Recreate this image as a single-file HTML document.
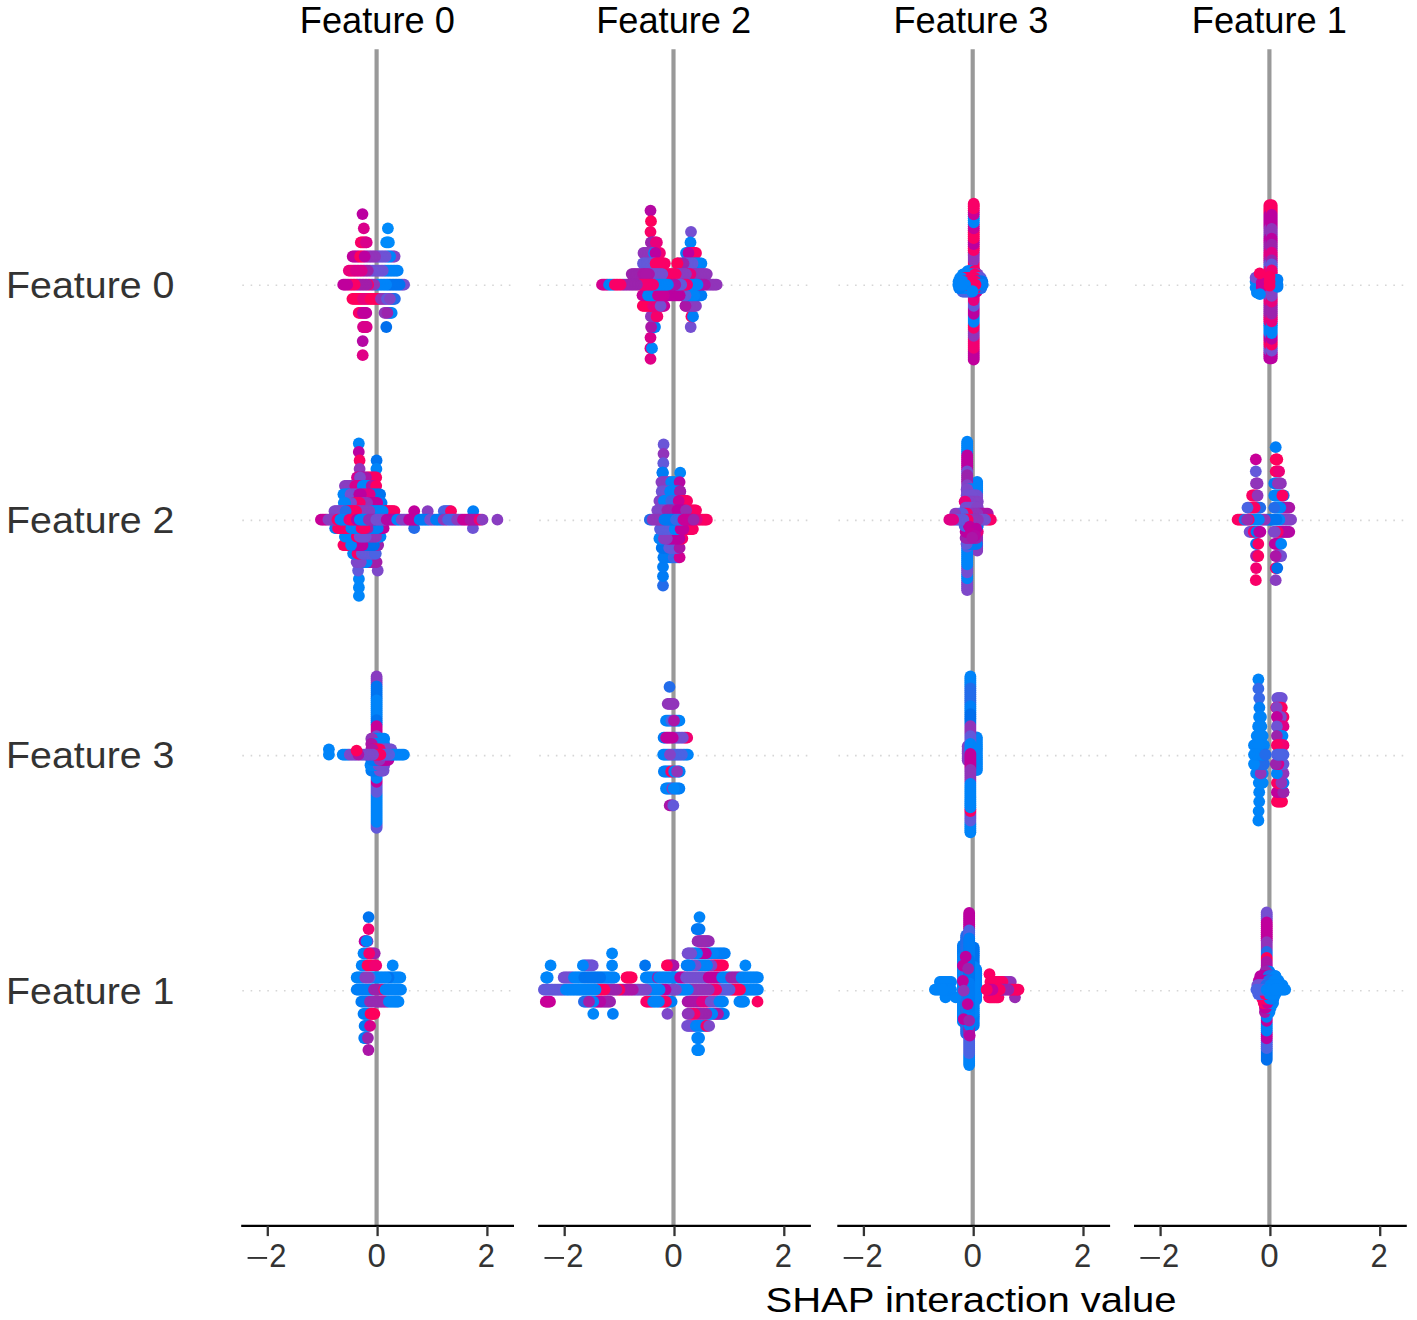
<!DOCTYPE html>
<html><head><meta charset="utf-8"><style>html,body{margin:0;padding:0;background:#fff;}svg{display:block;}</style></head>
<body>
<svg width="1417" height="1320" viewBox="0 0 1417 1320">
<rect width="100%" height="100%" fill="#fff"/>
<line x1="242.3" y1="285.3" x2="512.9" y2="285.3" stroke="#d6d6d6" stroke-width="1.6" stroke-dasharray="1.6 6.73"/>
<line x1="242.3" y1="520.4" x2="512.9" y2="520.4" stroke="#d6d6d6" stroke-width="1.6" stroke-dasharray="1.6 6.73"/>
<line x1="242.3" y1="755.6" x2="512.9" y2="755.6" stroke="#d6d6d6" stroke-width="1.6" stroke-dasharray="1.6 6.73"/>
<line x1="242.3" y1="990.7" x2="512.9" y2="990.7" stroke="#d6d6d6" stroke-width="1.6" stroke-dasharray="1.6 6.73"/>
<line x1="376.6" y1="49.2" x2="376.6" y2="1225.8" stroke="#999" stroke-width="4.17"/>
<line x1="539.2" y1="285.3" x2="809.8" y2="285.3" stroke="#d6d6d6" stroke-width="1.6" stroke-dasharray="1.6 6.73"/>
<line x1="539.2" y1="520.4" x2="809.8" y2="520.4" stroke="#d6d6d6" stroke-width="1.6" stroke-dasharray="1.6 6.73"/>
<line x1="539.2" y1="755.6" x2="809.8" y2="755.6" stroke="#d6d6d6" stroke-width="1.6" stroke-dasharray="1.6 6.73"/>
<line x1="539.2" y1="990.7" x2="809.8" y2="990.7" stroke="#d6d6d6" stroke-width="1.6" stroke-dasharray="1.6 6.73"/>
<line x1="673.5" y1="49.2" x2="673.5" y2="1225.8" stroke="#999" stroke-width="4.17"/>
<line x1="838.4" y1="285.3" x2="1109.0" y2="285.3" stroke="#d6d6d6" stroke-width="1.6" stroke-dasharray="1.6 6.73"/>
<line x1="838.4" y1="520.4" x2="1109.0" y2="520.4" stroke="#d6d6d6" stroke-width="1.6" stroke-dasharray="1.6 6.73"/>
<line x1="838.4" y1="755.6" x2="1109.0" y2="755.6" stroke="#d6d6d6" stroke-width="1.6" stroke-dasharray="1.6 6.73"/>
<line x1="838.4" y1="990.7" x2="1109.0" y2="990.7" stroke="#d6d6d6" stroke-width="1.6" stroke-dasharray="1.6 6.73"/>
<line x1="972.7" y1="49.2" x2="972.7" y2="1225.8" stroke="#999" stroke-width="4.17"/>
<line x1="1135.1" y1="285.3" x2="1405.7" y2="285.3" stroke="#d6d6d6" stroke-width="1.6" stroke-dasharray="1.6 6.73"/>
<line x1="1135.1" y1="520.4" x2="1405.7" y2="520.4" stroke="#d6d6d6" stroke-width="1.6" stroke-dasharray="1.6 6.73"/>
<line x1="1135.1" y1="755.6" x2="1405.7" y2="755.6" stroke="#d6d6d6" stroke-width="1.6" stroke-dasharray="1.6 6.73"/>
<line x1="1135.1" y1="990.7" x2="1405.7" y2="990.7" stroke="#d6d6d6" stroke-width="1.6" stroke-dasharray="1.6 6.73"/>
<line x1="1269.4" y1="49.2" x2="1269.4" y2="1225.8" stroke="#999" stroke-width="4.17"/>
<circle cx="362.5" cy="214.1" r="5.9" fill="#bb00a0"/>
<circle cx="363.8" cy="228.3" r="5.9" fill="#d9008b"/>
<circle cx="387.9" cy="228.3" r="5.9" fill="#008bfb"/>
<circle cx="360.8" cy="242.4" r="5.9" fill="#f90067"/>
<circle cx="362.1" cy="242.4" r="5.9" fill="#f90067"/>
<circle cx="363.4" cy="242.4" r="5.9" fill="#f90067"/>
<circle cx="364.6" cy="242.4" r="5.9" fill="#f90067"/>
<circle cx="366.7" cy="242.4" r="5.9" fill="#d9008b"/>
<circle cx="365.9" cy="242.4" r="5.9" fill="#d9008b"/>
<circle cx="386.2" cy="242.4" r="5.9" fill="#008bfb"/>
<circle cx="388.9" cy="242.4" r="5.9" fill="#008bfb"/>
<circle cx="387.6" cy="242.4" r="5.9" fill="#008bfb"/>
<circle cx="352.7" cy="256.5" r="5.9" fill="#c0009c"/>
<circle cx="354.2" cy="256.5" r="5.9" fill="#c0009c"/>
<circle cx="355.7" cy="256.5" r="5.9" fill="#c0009c"/>
<circle cx="357.2" cy="256.5" r="5.9" fill="#c0009c"/>
<circle cx="358.7" cy="256.5" r="5.9" fill="#c0009c"/>
<circle cx="360.2" cy="256.5" r="5.9" fill="#fe005c"/>
<circle cx="361.7" cy="256.5" r="5.9" fill="#fe005c"/>
<circle cx="363.2" cy="256.5" r="5.9" fill="#fe005c"/>
<circle cx="394.6" cy="256.5" r="5.9" fill="#8443c6"/>
<circle cx="393.1" cy="256.5" r="5.9" fill="#8443c6"/>
<circle cx="391.6" cy="256.5" r="5.9" fill="#8443c6"/>
<circle cx="390.1" cy="256.5" r="5.9" fill="#0084f9"/>
<circle cx="388.6" cy="256.5" r="5.9" fill="#0084f9"/>
<circle cx="387.1" cy="256.5" r="5.9" fill="#0084f9"/>
<circle cx="385.6" cy="256.5" r="5.9" fill="#6e53d5"/>
<circle cx="384.1" cy="256.5" r="5.9" fill="#6e53d5"/>
<circle cx="382.6" cy="256.5" r="5.9" fill="#6e53d5"/>
<circle cx="381.1" cy="256.5" r="5.9" fill="#6e53d5"/>
<circle cx="379.6" cy="256.5" r="5.9" fill="#6e53d5"/>
<circle cx="378.1" cy="256.5" r="5.9" fill="#6e53d5"/>
<circle cx="376.6" cy="256.5" r="5.9" fill="#6e53d5"/>
<circle cx="375.1" cy="256.5" r="5.9" fill="#9135ba"/>
<circle cx="373.6" cy="256.5" r="5.9" fill="#9135ba"/>
<circle cx="372.1" cy="256.5" r="5.9" fill="#9135ba"/>
<circle cx="370.6" cy="256.5" r="5.9" fill="#9135ba"/>
<circle cx="369.1" cy="256.5" r="5.9" fill="#9135ba"/>
<circle cx="367.6" cy="256.5" r="5.9" fill="#9135ba"/>
<circle cx="366.1" cy="256.5" r="5.9" fill="#9135ba"/>
<circle cx="364.7" cy="256.5" r="5.9" fill="#bb00a0"/>
<circle cx="348.8" cy="270.6" r="5.9" fill="#e9007c"/>
<circle cx="350.2" cy="270.6" r="5.9" fill="#e9007c"/>
<circle cx="351.7" cy="270.6" r="5.9" fill="#e9007c"/>
<circle cx="353.1" cy="270.6" r="5.9" fill="#e9007c"/>
<circle cx="354.5" cy="270.6" r="5.9" fill="#e9007c"/>
<circle cx="355.9" cy="270.6" r="5.9" fill="#d9008b"/>
<circle cx="357.4" cy="270.6" r="5.9" fill="#d9008b"/>
<circle cx="397.7" cy="270.6" r="5.9" fill="#0084f9"/>
<circle cx="396.2" cy="270.6" r="5.9" fill="#0084f9"/>
<circle cx="394.7" cy="270.6" r="5.9" fill="#0084f9"/>
<circle cx="393.2" cy="270.6" r="5.9" fill="#0084f9"/>
<circle cx="391.7" cy="270.6" r="5.9" fill="#0084f9"/>
<circle cx="390.2" cy="270.6" r="5.9" fill="#0084f9"/>
<circle cx="388.7" cy="270.6" r="5.9" fill="#0084f9"/>
<circle cx="387.2" cy="270.6" r="5.9" fill="#0084f9"/>
<circle cx="385.7" cy="270.6" r="5.9" fill="#0084f9"/>
<circle cx="384.2" cy="270.6" r="5.9" fill="#0084f9"/>
<circle cx="382.7" cy="270.6" r="5.9" fill="#6e53d5"/>
<circle cx="381.2" cy="270.6" r="5.9" fill="#6e53d5"/>
<circle cx="379.7" cy="270.6" r="5.9" fill="#6e53d5"/>
<circle cx="378.2" cy="270.6" r="5.9" fill="#6e53d5"/>
<circle cx="376.8" cy="270.6" r="5.9" fill="#6e53d5"/>
<circle cx="375.3" cy="270.6" r="5.9" fill="#6e53d5"/>
<circle cx="373.8" cy="270.6" r="5.9" fill="#6e53d5"/>
<circle cx="372.3" cy="270.6" r="5.9" fill="#6e53d5"/>
<circle cx="370.8" cy="270.6" r="5.9" fill="#6e53d5"/>
<circle cx="369.3" cy="270.6" r="5.9" fill="#6e53d5"/>
<circle cx="367.8" cy="270.6" r="5.9" fill="#9b23ad"/>
<circle cx="366.3" cy="270.6" r="5.9" fill="#9b23ad"/>
<circle cx="364.8" cy="270.6" r="5.9" fill="#9b23ad"/>
<circle cx="363.3" cy="270.6" r="5.9" fill="#9b23ad"/>
<circle cx="361.8" cy="270.6" r="5.9" fill="#d9008b"/>
<circle cx="360.3" cy="270.6" r="5.9" fill="#d9008b"/>
<circle cx="358.8" cy="270.6" r="5.9" fill="#d9008b"/>
<circle cx="362.7" cy="355.2" r="5.9" fill="#e00086"/>
<circle cx="362.7" cy="341.1" r="5.9" fill="#b508a3"/>
<circle cx="363.0" cy="327.0" r="5.9" fill="#d9008b"/>
<circle cx="363.9" cy="327.0" r="5.9" fill="#d9008b"/>
<circle cx="366.7" cy="327.0" r="5.9" fill="#d9008b"/>
<circle cx="365.8" cy="327.0" r="5.9" fill="#d9008b"/>
<circle cx="364.9" cy="327.0" r="5.9" fill="#d9008b"/>
<circle cx="386.3" cy="327.0" r="5.9" fill="#006fed"/>
<circle cx="358.7" cy="312.9" r="5.9" fill="#f90067"/>
<circle cx="360.1" cy="312.9" r="5.9" fill="#f90067"/>
<circle cx="361.5" cy="312.9" r="5.9" fill="#f90067"/>
<circle cx="362.9" cy="312.9" r="5.9" fill="#c0009c"/>
<circle cx="366.3" cy="312.9" r="5.9" fill="#c0009c"/>
<circle cx="365.3" cy="312.9" r="5.9" fill="#c0009c"/>
<circle cx="364.2" cy="312.9" r="5.9" fill="#c0009c"/>
<circle cx="384.5" cy="312.9" r="5.9" fill="#9135ba"/>
<circle cx="386.0" cy="312.9" r="5.9" fill="#9135ba"/>
<circle cx="391.7" cy="312.9" r="5.9" fill="#0084f9"/>
<circle cx="390.3" cy="312.9" r="5.9" fill="#0084f9"/>
<circle cx="388.8" cy="312.9" r="5.9" fill="#0084f9"/>
<circle cx="387.4" cy="312.9" r="5.9" fill="#9b23ad"/>
<circle cx="352.4" cy="298.8" r="5.9" fill="#fe005c"/>
<circle cx="353.9" cy="298.8" r="5.9" fill="#fe005c"/>
<circle cx="355.4" cy="298.8" r="5.9" fill="#fe005c"/>
<circle cx="356.9" cy="298.8" r="5.9" fill="#fe005c"/>
<circle cx="358.4" cy="298.8" r="5.9" fill="#fe005c"/>
<circle cx="359.9" cy="298.8" r="5.9" fill="#fe005c"/>
<circle cx="361.4" cy="298.8" r="5.9" fill="#fe005c"/>
<circle cx="362.9" cy="298.8" r="5.9" fill="#e9007c"/>
<circle cx="364.4" cy="298.8" r="5.9" fill="#e9007c"/>
<circle cx="365.9" cy="298.8" r="5.9" fill="#e9007c"/>
<circle cx="367.4" cy="298.8" r="5.9" fill="#e9007c"/>
<circle cx="368.9" cy="298.8" r="5.9" fill="#e9007c"/>
<circle cx="370.4" cy="298.8" r="5.9" fill="#fe005c"/>
<circle cx="371.9" cy="298.8" r="5.9" fill="#fe005c"/>
<circle cx="373.4" cy="298.8" r="5.9" fill="#fe005c"/>
<circle cx="374.9" cy="298.8" r="5.9" fill="#fe005c"/>
<circle cx="376.4" cy="298.8" r="5.9" fill="#fe005c"/>
<circle cx="377.9" cy="298.8" r="5.9" fill="#fe005c"/>
<circle cx="379.4" cy="298.8" r="5.9" fill="#fe005c"/>
<circle cx="380.9" cy="298.8" r="5.9" fill="#9135ba"/>
<circle cx="382.4" cy="298.8" r="5.9" fill="#9135ba"/>
<circle cx="383.9" cy="298.8" r="5.9" fill="#9135ba"/>
<circle cx="385.4" cy="298.8" r="5.9" fill="#9135ba"/>
<circle cx="386.9" cy="298.8" r="5.9" fill="#6359da"/>
<circle cx="388.4" cy="298.8" r="5.9" fill="#6359da"/>
<circle cx="394.9" cy="298.8" r="5.9" fill="#236cea"/>
<circle cx="393.7" cy="298.8" r="5.9" fill="#236cea"/>
<circle cx="392.4" cy="298.8" r="5.9" fill="#236cea"/>
<circle cx="391.2" cy="298.8" r="5.9" fill="#236cea"/>
<circle cx="389.9" cy="298.8" r="5.9" fill="#8443c6"/>
<circle cx="343.2" cy="284.7" r="5.9" fill="#c0009c"/>
<circle cx="344.5" cy="284.7" r="5.9" fill="#c0009c"/>
<circle cx="404.1" cy="284.7" r="5.9" fill="#754fd1"/>
<circle cx="402.6" cy="284.7" r="5.9" fill="#754fd1"/>
<circle cx="401.1" cy="284.7" r="5.9" fill="#754fd1"/>
<circle cx="399.6" cy="284.7" r="5.9" fill="#0074f0"/>
<circle cx="398.1" cy="284.7" r="5.9" fill="#0074f0"/>
<circle cx="396.6" cy="284.7" r="5.9" fill="#0074f0"/>
<circle cx="395.1" cy="284.7" r="5.9" fill="#0074f0"/>
<circle cx="393.6" cy="284.7" r="5.9" fill="#0074f0"/>
<circle cx="392.1" cy="284.7" r="5.9" fill="#0074f0"/>
<circle cx="390.6" cy="284.7" r="5.9" fill="#0074f0"/>
<circle cx="389.1" cy="284.7" r="5.9" fill="#0074f0"/>
<circle cx="387.6" cy="284.7" r="5.9" fill="#0074f0"/>
<circle cx="386.1" cy="284.7" r="5.9" fill="#0084f9"/>
<circle cx="384.7" cy="284.7" r="5.9" fill="#0084f9"/>
<circle cx="383.2" cy="284.7" r="5.9" fill="#0084f9"/>
<circle cx="381.7" cy="284.7" r="5.9" fill="#0084f9"/>
<circle cx="380.2" cy="284.7" r="5.9" fill="#0084f9"/>
<circle cx="378.7" cy="284.7" r="5.9" fill="#0084f9"/>
<circle cx="377.2" cy="284.7" r="5.9" fill="#0084f9"/>
<circle cx="375.7" cy="284.7" r="5.9" fill="#0084f9"/>
<circle cx="374.2" cy="284.7" r="5.9" fill="#9135ba"/>
<circle cx="372.7" cy="284.7" r="5.9" fill="#9135ba"/>
<circle cx="371.2" cy="284.7" r="5.9" fill="#9135ba"/>
<circle cx="369.7" cy="284.7" r="5.9" fill="#9135ba"/>
<circle cx="368.2" cy="284.7" r="5.9" fill="#f90067"/>
<circle cx="366.7" cy="284.7" r="5.9" fill="#a21eaa"/>
<circle cx="365.2" cy="284.7" r="5.9" fill="#a21eaa"/>
<circle cx="363.7" cy="284.7" r="5.9" fill="#a21eaa"/>
<circle cx="362.2" cy="284.7" r="5.9" fill="#a21eaa"/>
<circle cx="360.7" cy="284.7" r="5.9" fill="#a21eaa"/>
<circle cx="359.2" cy="284.7" r="5.9" fill="#a21eaa"/>
<circle cx="357.7" cy="284.7" r="5.9" fill="#a21eaa"/>
<circle cx="356.2" cy="284.7" r="5.9" fill="#a21eaa"/>
<circle cx="354.7" cy="284.7" r="5.9" fill="#f90067"/>
<circle cx="353.2" cy="284.7" r="5.9" fill="#f90067"/>
<circle cx="351.7" cy="284.7" r="5.9" fill="#f90067"/>
<circle cx="350.2" cy="284.7" r="5.9" fill="#f90067"/>
<circle cx="348.7" cy="284.7" r="5.9" fill="#f90067"/>
<circle cx="347.2" cy="284.7" r="5.9" fill="#c0009c"/>
<circle cx="345.8" cy="284.7" r="5.9" fill="#c0009c"/>
<circle cx="650.5" cy="210.6" r="5.9" fill="#b508a3"/>
<circle cx="651.0" cy="221.2" r="5.9" fill="#fe005c"/>
<circle cx="650.5" cy="231.8" r="5.9" fill="#f90067"/>
<circle cx="691.0" cy="231.8" r="5.9" fill="#754fd1"/>
<circle cx="650.9" cy="242.4" r="5.9" fill="#9b23ad"/>
<circle cx="652.1" cy="242.4" r="5.9" fill="#9b23ad"/>
<circle cx="653.4" cy="242.4" r="5.9" fill="#9b23ad"/>
<circle cx="654.6" cy="242.4" r="5.9" fill="#9b23ad"/>
<circle cx="656.9" cy="242.4" r="5.9" fill="#e9007c"/>
<circle cx="655.9" cy="242.4" r="5.9" fill="#e9007c"/>
<circle cx="690.5" cy="242.4" r="5.9" fill="#0084f9"/>
<circle cx="643.5" cy="253.0" r="5.9" fill="#9135ba"/>
<circle cx="645.0" cy="253.0" r="5.9" fill="#9135ba"/>
<circle cx="646.5" cy="253.0" r="5.9" fill="#9135ba"/>
<circle cx="648.0" cy="253.0" r="5.9" fill="#9135ba"/>
<circle cx="649.5" cy="253.0" r="5.9" fill="#9135ba"/>
<circle cx="651.0" cy="253.0" r="5.9" fill="#9135ba"/>
<circle cx="652.5" cy="253.0" r="5.9" fill="#9135ba"/>
<circle cx="654.0" cy="253.0" r="5.9" fill="#0084f9"/>
<circle cx="659.9" cy="253.0" r="5.9" fill="#f20072"/>
<circle cx="658.4" cy="253.0" r="5.9" fill="#f20072"/>
<circle cx="656.9" cy="253.0" r="5.9" fill="#f20072"/>
<circle cx="655.5" cy="253.0" r="5.9" fill="#bb00a0"/>
<circle cx="686.0" cy="253.0" r="5.9" fill="#0084f9"/>
<circle cx="687.3" cy="253.0" r="5.9" fill="#0084f9"/>
<circle cx="696.0" cy="253.0" r="5.9" fill="#f90067"/>
<circle cx="694.5" cy="253.0" r="5.9" fill="#f90067"/>
<circle cx="693.0" cy="253.0" r="5.9" fill="#f90067"/>
<circle cx="691.5" cy="253.0" r="5.9" fill="#f90067"/>
<circle cx="690.0" cy="253.0" r="5.9" fill="#f90067"/>
<circle cx="688.5" cy="253.0" r="5.9" fill="#bb00a0"/>
<circle cx="643.0" cy="263.5" r="5.9" fill="#6359da"/>
<circle cx="644.4" cy="263.5" r="5.9" fill="#6359da"/>
<circle cx="645.8" cy="263.5" r="5.9" fill="#6359da"/>
<circle cx="647.2" cy="263.5" r="5.9" fill="#6359da"/>
<circle cx="648.6" cy="263.5" r="5.9" fill="#6359da"/>
<circle cx="650.0" cy="263.5" r="5.9" fill="#6359da"/>
<circle cx="651.4" cy="263.5" r="5.9" fill="#6359da"/>
<circle cx="652.8" cy="263.5" r="5.9" fill="#6359da"/>
<circle cx="654.2" cy="263.5" r="5.9" fill="#6359da"/>
<circle cx="655.6" cy="263.5" r="5.9" fill="#f90067"/>
<circle cx="657.0" cy="263.5" r="5.9" fill="#f90067"/>
<circle cx="658.4" cy="263.5" r="5.9" fill="#f90067"/>
<circle cx="664.8" cy="263.5" r="5.9" fill="#f90067"/>
<circle cx="663.6" cy="263.5" r="5.9" fill="#f90067"/>
<circle cx="662.3" cy="263.5" r="5.9" fill="#f90067"/>
<circle cx="661.1" cy="263.5" r="5.9" fill="#f90067"/>
<circle cx="659.9" cy="263.5" r="5.9" fill="#f90067"/>
<circle cx="677.4" cy="263.5" r="5.9" fill="#fe005c"/>
<circle cx="701.4" cy="263.5" r="5.9" fill="#0084f9"/>
<circle cx="699.9" cy="263.5" r="5.9" fill="#0084f9"/>
<circle cx="698.4" cy="263.5" r="5.9" fill="#0084f9"/>
<circle cx="696.9" cy="263.5" r="5.9" fill="#0084f9"/>
<circle cx="695.4" cy="263.5" r="5.9" fill="#0084f9"/>
<circle cx="693.9" cy="263.5" r="5.9" fill="#0084f9"/>
<circle cx="692.5" cy="263.5" r="5.9" fill="#6359da"/>
<circle cx="691.0" cy="263.5" r="5.9" fill="#6359da"/>
<circle cx="689.5" cy="263.5" r="5.9" fill="#6359da"/>
<circle cx="688.0" cy="263.5" r="5.9" fill="#6359da"/>
<circle cx="686.5" cy="263.5" r="5.9" fill="#6359da"/>
<circle cx="685.0" cy="263.5" r="5.9" fill="#6359da"/>
<circle cx="683.5" cy="263.5" r="5.9" fill="#9b23ad"/>
<circle cx="682.0" cy="263.5" r="5.9" fill="#9b23ad"/>
<circle cx="680.5" cy="263.5" r="5.9" fill="#9b23ad"/>
<circle cx="679.0" cy="263.5" r="5.9" fill="#9b23ad"/>
<circle cx="677.5" cy="263.5" r="5.9" fill="#fe005c"/>
<circle cx="631.7" cy="274.1" r="5.9" fill="#9b23ad"/>
<circle cx="633.1" cy="274.1" r="5.9" fill="#9b23ad"/>
<circle cx="634.6" cy="274.1" r="5.9" fill="#9b23ad"/>
<circle cx="636.0" cy="274.1" r="5.9" fill="#9b23ad"/>
<circle cx="637.4" cy="274.1" r="5.9" fill="#9b23ad"/>
<circle cx="638.9" cy="274.1" r="5.9" fill="#9b23ad"/>
<circle cx="640.3" cy="274.1" r="5.9" fill="#9b23ad"/>
<circle cx="641.7" cy="274.1" r="5.9" fill="#9b23ad"/>
<circle cx="643.1" cy="274.1" r="5.9" fill="#ab15a7"/>
<circle cx="644.6" cy="274.1" r="5.9" fill="#ab15a7"/>
<circle cx="706.8" cy="274.1" r="5.9" fill="#9135ba"/>
<circle cx="705.3" cy="274.1" r="5.9" fill="#9135ba"/>
<circle cx="703.8" cy="274.1" r="5.9" fill="#9135ba"/>
<circle cx="702.4" cy="274.1" r="5.9" fill="#9135ba"/>
<circle cx="700.9" cy="274.1" r="5.9" fill="#9135ba"/>
<circle cx="699.4" cy="274.1" r="5.9" fill="#9135ba"/>
<circle cx="697.9" cy="274.1" r="5.9" fill="#9135ba"/>
<circle cx="696.4" cy="274.1" r="5.9" fill="#9135ba"/>
<circle cx="694.9" cy="274.1" r="5.9" fill="#9135ba"/>
<circle cx="693.5" cy="274.1" r="5.9" fill="#9135ba"/>
<circle cx="692.0" cy="274.1" r="5.9" fill="#9135ba"/>
<circle cx="690.5" cy="274.1" r="5.9" fill="#e9007c"/>
<circle cx="689.0" cy="274.1" r="5.9" fill="#e9007c"/>
<circle cx="687.5" cy="274.1" r="5.9" fill="#e9007c"/>
<circle cx="686.0" cy="274.1" r="5.9" fill="#893dc1"/>
<circle cx="684.6" cy="274.1" r="5.9" fill="#893dc1"/>
<circle cx="683.1" cy="274.1" r="5.9" fill="#893dc1"/>
<circle cx="681.6" cy="274.1" r="5.9" fill="#893dc1"/>
<circle cx="680.1" cy="274.1" r="5.9" fill="#893dc1"/>
<circle cx="678.6" cy="274.1" r="5.9" fill="#893dc1"/>
<circle cx="677.1" cy="274.1" r="5.9" fill="#893dc1"/>
<circle cx="675.7" cy="274.1" r="5.9" fill="#f90067"/>
<circle cx="674.2" cy="274.1" r="5.9" fill="#f90067"/>
<circle cx="672.7" cy="274.1" r="5.9" fill="#f90067"/>
<circle cx="671.2" cy="274.1" r="5.9" fill="#f90067"/>
<circle cx="669.7" cy="274.1" r="5.9" fill="#f90067"/>
<circle cx="668.2" cy="274.1" r="5.9" fill="#f90067"/>
<circle cx="666.8" cy="274.1" r="5.9" fill="#f90067"/>
<circle cx="665.3" cy="274.1" r="5.9" fill="#f90067"/>
<circle cx="663.8" cy="274.1" r="5.9" fill="#f90067"/>
<circle cx="662.3" cy="274.1" r="5.9" fill="#754fd1"/>
<circle cx="660.8" cy="274.1" r="5.9" fill="#754fd1"/>
<circle cx="659.3" cy="274.1" r="5.9" fill="#754fd1"/>
<circle cx="657.9" cy="274.1" r="5.9" fill="#754fd1"/>
<circle cx="656.4" cy="274.1" r="5.9" fill="#754fd1"/>
<circle cx="654.9" cy="274.1" r="5.9" fill="#754fd1"/>
<circle cx="653.4" cy="274.1" r="5.9" fill="#754fd1"/>
<circle cx="651.9" cy="274.1" r="5.9" fill="#754fd1"/>
<circle cx="650.4" cy="274.1" r="5.9" fill="#754fd1"/>
<circle cx="649.0" cy="274.1" r="5.9" fill="#ab15a7"/>
<circle cx="647.5" cy="274.1" r="5.9" fill="#ab15a7"/>
<circle cx="646.0" cy="274.1" r="5.9" fill="#ab15a7"/>
<circle cx="650.5" cy="358.8" r="5.9" fill="#e00086"/>
<circle cx="650.4" cy="348.2" r="5.9" fill="#d5008f"/>
<circle cx="651.2" cy="348.2" r="5.9" fill="#d5008f"/>
<circle cx="652.0" cy="348.2" r="5.9" fill="#0086fa"/>
<circle cx="650.5" cy="337.6" r="5.9" fill="#d9008b"/>
<circle cx="655.0" cy="327.0" r="5.9" fill="#007ff7"/>
<circle cx="653.7" cy="327.0" r="5.9" fill="#007ff7"/>
<circle cx="652.4" cy="327.0" r="5.9" fill="#007ff7"/>
<circle cx="651.1" cy="327.0" r="5.9" fill="#ab15a7"/>
<circle cx="690.7" cy="327.0" r="5.9" fill="#754fd1"/>
<circle cx="650.9" cy="316.4" r="5.9" fill="#9135ba"/>
<circle cx="652.3" cy="316.4" r="5.9" fill="#9135ba"/>
<circle cx="653.8" cy="316.4" r="5.9" fill="#9135ba"/>
<circle cx="655.2" cy="316.4" r="5.9" fill="#9135ba"/>
<circle cx="657.4" cy="316.4" r="5.9" fill="#f6006b"/>
<circle cx="656.6" cy="316.4" r="5.9" fill="#f6006b"/>
<circle cx="691.4" cy="316.4" r="5.9" fill="#f90067"/>
<circle cx="692.2" cy="316.4" r="5.9" fill="#f90067"/>
<circle cx="693.0" cy="316.4" r="5.9" fill="#007ff7"/>
<circle cx="642.8" cy="305.9" r="5.9" fill="#fe005c"/>
<circle cx="644.3" cy="305.9" r="5.9" fill="#fe005c"/>
<circle cx="645.8" cy="305.9" r="5.9" fill="#fe005c"/>
<circle cx="647.2" cy="305.9" r="5.9" fill="#fe005c"/>
<circle cx="648.7" cy="305.9" r="5.9" fill="#fe005c"/>
<circle cx="650.2" cy="305.9" r="5.9" fill="#fe005c"/>
<circle cx="651.7" cy="305.9" r="5.9" fill="#fe005c"/>
<circle cx="653.2" cy="305.9" r="5.9" fill="#e9007c"/>
<circle cx="654.7" cy="305.9" r="5.9" fill="#e9007c"/>
<circle cx="656.1" cy="305.9" r="5.9" fill="#e9007c"/>
<circle cx="657.6" cy="305.9" r="5.9" fill="#e9007c"/>
<circle cx="659.1" cy="305.9" r="5.9" fill="#e9007c"/>
<circle cx="664.3" cy="305.9" r="5.9" fill="#c80098"/>
<circle cx="663.1" cy="305.9" r="5.9" fill="#c80098"/>
<circle cx="661.8" cy="305.9" r="5.9" fill="#c80098"/>
<circle cx="660.6" cy="305.9" r="5.9" fill="#754fd1"/>
<circle cx="685.5" cy="305.9" r="5.9" fill="#ab15a7"/>
<circle cx="696.0" cy="305.9" r="5.9" fill="#893dc1"/>
<circle cx="694.5" cy="305.9" r="5.9" fill="#893dc1"/>
<circle cx="693.0" cy="305.9" r="5.9" fill="#893dc1"/>
<circle cx="691.5" cy="305.9" r="5.9" fill="#893dc1"/>
<circle cx="690.0" cy="305.9" r="5.9" fill="#893dc1"/>
<circle cx="688.5" cy="305.9" r="5.9" fill="#893dc1"/>
<circle cx="687.0" cy="305.9" r="5.9" fill="#893dc1"/>
<circle cx="685.5" cy="305.9" r="5.9" fill="#ab15a7"/>
<circle cx="642.5" cy="295.3" r="5.9" fill="#c80098"/>
<circle cx="643.9" cy="295.3" r="5.9" fill="#c80098"/>
<circle cx="645.3" cy="295.3" r="5.9" fill="#c80098"/>
<circle cx="646.7" cy="295.3" r="5.9" fill="#c80098"/>
<circle cx="648.1" cy="295.3" r="5.9" fill="#0084f9"/>
<circle cx="649.6" cy="295.3" r="5.9" fill="#0084f9"/>
<circle cx="651.0" cy="295.3" r="5.9" fill="#0084f9"/>
<circle cx="652.4" cy="295.3" r="5.9" fill="#0084f9"/>
<circle cx="653.8" cy="295.3" r="5.9" fill="#0084f9"/>
<circle cx="655.2" cy="295.3" r="5.9" fill="#0084f9"/>
<circle cx="656.6" cy="295.3" r="5.9" fill="#0084f9"/>
<circle cx="658.0" cy="295.3" r="5.9" fill="#c80098"/>
<circle cx="659.4" cy="295.3" r="5.9" fill="#c80098"/>
<circle cx="701.4" cy="295.3" r="5.9" fill="#007cf5"/>
<circle cx="700.0" cy="295.3" r="5.9" fill="#007cf5"/>
<circle cx="698.5" cy="295.3" r="5.9" fill="#007cf5"/>
<circle cx="697.1" cy="295.3" r="5.9" fill="#007cf5"/>
<circle cx="695.6" cy="295.3" r="5.9" fill="#007cf5"/>
<circle cx="694.2" cy="295.3" r="5.9" fill="#0084f9"/>
<circle cx="692.7" cy="295.3" r="5.9" fill="#0084f9"/>
<circle cx="691.3" cy="295.3" r="5.9" fill="#0084f9"/>
<circle cx="689.8" cy="295.3" r="5.9" fill="#0084f9"/>
<circle cx="688.4" cy="295.3" r="5.9" fill="#0084f9"/>
<circle cx="686.9" cy="295.3" r="5.9" fill="#0084f9"/>
<circle cx="685.5" cy="295.3" r="5.9" fill="#6359da"/>
<circle cx="684.0" cy="295.3" r="5.9" fill="#6359da"/>
<circle cx="682.6" cy="295.3" r="5.9" fill="#6359da"/>
<circle cx="681.1" cy="295.3" r="5.9" fill="#6359da"/>
<circle cx="679.7" cy="295.3" r="5.9" fill="#bb00a0"/>
<circle cx="678.2" cy="295.3" r="5.9" fill="#bb00a0"/>
<circle cx="676.8" cy="295.3" r="5.9" fill="#bb00a0"/>
<circle cx="675.3" cy="295.3" r="5.9" fill="#bb00a0"/>
<circle cx="673.9" cy="295.3" r="5.9" fill="#bb00a0"/>
<circle cx="672.4" cy="295.3" r="5.9" fill="#bb00a0"/>
<circle cx="671.0" cy="295.3" r="5.9" fill="#bb00a0"/>
<circle cx="669.5" cy="295.3" r="5.9" fill="#bb00a0"/>
<circle cx="668.1" cy="295.3" r="5.9" fill="#bb00a0"/>
<circle cx="666.6" cy="295.3" r="5.9" fill="#bb00a0"/>
<circle cx="665.2" cy="295.3" r="5.9" fill="#bb00a0"/>
<circle cx="663.7" cy="295.3" r="5.9" fill="#c80098"/>
<circle cx="662.3" cy="295.3" r="5.9" fill="#c80098"/>
<circle cx="660.9" cy="295.3" r="5.9" fill="#c80098"/>
<circle cx="602.0" cy="284.7" r="5.9" fill="#d5008f"/>
<circle cx="603.4" cy="284.7" r="5.9" fill="#d5008f"/>
<circle cx="604.8" cy="284.7" r="5.9" fill="#d5008f"/>
<circle cx="606.3" cy="284.7" r="5.9" fill="#d5008f"/>
<circle cx="607.7" cy="284.7" r="5.9" fill="#d5008f"/>
<circle cx="609.1" cy="284.7" r="5.9" fill="#0084f9"/>
<circle cx="610.5" cy="284.7" r="5.9" fill="#0084f9"/>
<circle cx="612.0" cy="284.7" r="5.9" fill="#0084f9"/>
<circle cx="613.4" cy="284.7" r="5.9" fill="#0084f9"/>
<circle cx="614.8" cy="284.7" r="5.9" fill="#f90067"/>
<circle cx="616.2" cy="284.7" r="5.9" fill="#f90067"/>
<circle cx="716.7" cy="284.7" r="5.9" fill="#9135ba"/>
<circle cx="715.2" cy="284.7" r="5.9" fill="#9135ba"/>
<circle cx="713.7" cy="284.7" r="5.9" fill="#9135ba"/>
<circle cx="712.3" cy="284.7" r="5.9" fill="#9135ba"/>
<circle cx="710.8" cy="284.7" r="5.9" fill="#9135ba"/>
<circle cx="709.3" cy="284.7" r="5.9" fill="#9135ba"/>
<circle cx="707.8" cy="284.7" r="5.9" fill="#9135ba"/>
<circle cx="706.4" cy="284.7" r="5.9" fill="#9135ba"/>
<circle cx="704.9" cy="284.7" r="5.9" fill="#ab15a7"/>
<circle cx="703.4" cy="284.7" r="5.9" fill="#ab15a7"/>
<circle cx="701.9" cy="284.7" r="5.9" fill="#ab15a7"/>
<circle cx="700.4" cy="284.7" r="5.9" fill="#ab15a7"/>
<circle cx="699.0" cy="284.7" r="5.9" fill="#ab15a7"/>
<circle cx="697.5" cy="284.7" r="5.9" fill="#0084f9"/>
<circle cx="696.0" cy="284.7" r="5.9" fill="#0084f9"/>
<circle cx="694.5" cy="284.7" r="5.9" fill="#0084f9"/>
<circle cx="693.0" cy="284.7" r="5.9" fill="#0084f9"/>
<circle cx="691.6" cy="284.7" r="5.9" fill="#0084f9"/>
<circle cx="690.1" cy="284.7" r="5.9" fill="#0084f9"/>
<circle cx="688.6" cy="284.7" r="5.9" fill="#0084f9"/>
<circle cx="687.1" cy="284.7" r="5.9" fill="#f20072"/>
<circle cx="685.7" cy="284.7" r="5.9" fill="#f20072"/>
<circle cx="684.2" cy="284.7" r="5.9" fill="#f20072"/>
<circle cx="682.7" cy="284.7" r="5.9" fill="#f20072"/>
<circle cx="681.2" cy="284.7" r="5.9" fill="#6359da"/>
<circle cx="679.7" cy="284.7" r="5.9" fill="#6359da"/>
<circle cx="678.3" cy="284.7" r="5.9" fill="#6359da"/>
<circle cx="676.8" cy="284.7" r="5.9" fill="#6359da"/>
<circle cx="675.3" cy="284.7" r="5.9" fill="#ab15a7"/>
<circle cx="673.8" cy="284.7" r="5.9" fill="#ab15a7"/>
<circle cx="672.3" cy="284.7" r="5.9" fill="#ab15a7"/>
<circle cx="670.9" cy="284.7" r="5.9" fill="#ab15a7"/>
<circle cx="669.4" cy="284.7" r="5.9" fill="#ab15a7"/>
<circle cx="667.9" cy="284.7" r="5.9" fill="#0084f9"/>
<circle cx="666.4" cy="284.7" r="5.9" fill="#0084f9"/>
<circle cx="665.0" cy="284.7" r="5.9" fill="#0084f9"/>
<circle cx="663.5" cy="284.7" r="5.9" fill="#0084f9"/>
<circle cx="662.0" cy="284.7" r="5.9" fill="#0084f9"/>
<circle cx="660.5" cy="284.7" r="5.9" fill="#0084f9"/>
<circle cx="659.0" cy="284.7" r="5.9" fill="#0084f9"/>
<circle cx="657.6" cy="284.7" r="5.9" fill="#0084f9"/>
<circle cx="656.1" cy="284.7" r="5.9" fill="#0084f9"/>
<circle cx="654.6" cy="284.7" r="5.9" fill="#0084f9"/>
<circle cx="653.1" cy="284.7" r="5.9" fill="#f20072"/>
<circle cx="651.7" cy="284.7" r="5.9" fill="#f20072"/>
<circle cx="650.2" cy="284.7" r="5.9" fill="#f20072"/>
<circle cx="648.7" cy="284.7" r="5.9" fill="#f20072"/>
<circle cx="647.2" cy="284.7" r="5.9" fill="#f20072"/>
<circle cx="645.7" cy="284.7" r="5.9" fill="#f20072"/>
<circle cx="644.3" cy="284.7" r="5.9" fill="#f20072"/>
<circle cx="642.8" cy="284.7" r="5.9" fill="#f20072"/>
<circle cx="641.3" cy="284.7" r="5.9" fill="#f20072"/>
<circle cx="639.8" cy="284.7" r="5.9" fill="#f20072"/>
<circle cx="638.3" cy="284.7" r="5.9" fill="#f20072"/>
<circle cx="636.9" cy="284.7" r="5.9" fill="#9b23ad"/>
<circle cx="635.4" cy="284.7" r="5.9" fill="#9b23ad"/>
<circle cx="633.9" cy="284.7" r="5.9" fill="#9b23ad"/>
<circle cx="632.4" cy="284.7" r="5.9" fill="#9b23ad"/>
<circle cx="631.0" cy="284.7" r="5.9" fill="#9b23ad"/>
<circle cx="629.5" cy="284.7" r="5.9" fill="#9b23ad"/>
<circle cx="628.0" cy="284.7" r="5.9" fill="#9b23ad"/>
<circle cx="626.5" cy="284.7" r="5.9" fill="#9b23ad"/>
<circle cx="625.0" cy="284.7" r="5.9" fill="#9b23ad"/>
<circle cx="623.6" cy="284.7" r="5.9" fill="#9b23ad"/>
<circle cx="622.1" cy="284.7" r="5.9" fill="#9b23ad"/>
<circle cx="620.6" cy="284.7" r="5.9" fill="#f90067"/>
<circle cx="619.1" cy="284.7" r="5.9" fill="#f90067"/>
<circle cx="617.6" cy="284.7" r="5.9" fill="#f90067"/>
<circle cx="973.7" cy="203.7" r="5.9" fill="#f90067"/>
<circle cx="973.7" cy="205.0" r="5.9" fill="#f90067"/>
<circle cx="973.7" cy="359.7" r="5.9" fill="#c0009c"/>
<circle cx="973.7" cy="357.7" r="5.9" fill="#c0009c"/>
<circle cx="973.7" cy="355.7" r="5.9" fill="#c0009c"/>
<circle cx="973.7" cy="353.7" r="5.9" fill="#c0009c"/>
<circle cx="973.7" cy="351.7" r="5.9" fill="#c0009c"/>
<circle cx="973.7" cy="349.7" r="5.9" fill="#c0009c"/>
<circle cx="973.7" cy="347.8" r="5.9" fill="#f20072"/>
<circle cx="973.7" cy="345.8" r="5.9" fill="#f20072"/>
<circle cx="973.7" cy="343.8" r="5.9" fill="#f20072"/>
<circle cx="973.7" cy="341.8" r="5.9" fill="#f20072"/>
<circle cx="973.7" cy="339.8" r="5.9" fill="#f20072"/>
<circle cx="973.7" cy="337.8" r="5.9" fill="#f20072"/>
<circle cx="973.7" cy="335.8" r="5.9" fill="#9135ba"/>
<circle cx="973.7" cy="333.8" r="5.9" fill="#9135ba"/>
<circle cx="973.7" cy="331.8" r="5.9" fill="#9135ba"/>
<circle cx="973.7" cy="329.8" r="5.9" fill="#9135ba"/>
<circle cx="973.7" cy="327.8" r="5.9" fill="#f90067"/>
<circle cx="973.7" cy="325.8" r="5.9" fill="#f90067"/>
<circle cx="973.7" cy="323.9" r="5.9" fill="#f90067"/>
<circle cx="973.7" cy="321.9" r="5.9" fill="#0084f9"/>
<circle cx="973.7" cy="319.9" r="5.9" fill="#0084f9"/>
<circle cx="973.7" cy="317.9" r="5.9" fill="#0084f9"/>
<circle cx="973.7" cy="315.9" r="5.9" fill="#0084f9"/>
<circle cx="973.7" cy="313.9" r="5.9" fill="#bb00a0"/>
<circle cx="973.7" cy="311.9" r="5.9" fill="#bb00a0"/>
<circle cx="973.7" cy="309.9" r="5.9" fill="#bb00a0"/>
<circle cx="973.7" cy="307.9" r="5.9" fill="#bb00a0"/>
<circle cx="973.7" cy="305.9" r="5.9" fill="#6359da"/>
<circle cx="973.7" cy="303.9" r="5.9" fill="#6359da"/>
<circle cx="973.7" cy="301.9" r="5.9" fill="#6359da"/>
<circle cx="973.7" cy="300.0" r="5.9" fill="#e9007c"/>
<circle cx="973.7" cy="298.0" r="5.9" fill="#e9007c"/>
<circle cx="973.7" cy="296.0" r="5.9" fill="#e9007c"/>
<circle cx="973.7" cy="294.0" r="5.9" fill="#e9007c"/>
<circle cx="973.7" cy="292.0" r="5.9" fill="#e9007c"/>
<circle cx="973.7" cy="290.0" r="5.9" fill="#e9007c"/>
<circle cx="973.7" cy="288.0" r="5.9" fill="#e9007c"/>
<circle cx="973.7" cy="286.0" r="5.9" fill="#e9007c"/>
<circle cx="973.7" cy="284.0" r="5.9" fill="#e9007c"/>
<circle cx="973.7" cy="282.0" r="5.9" fill="#e9007c"/>
<circle cx="973.7" cy="280.0" r="5.9" fill="#e9007c"/>
<circle cx="973.7" cy="278.0" r="5.9" fill="#e9007c"/>
<circle cx="973.7" cy="276.1" r="5.9" fill="#e9007c"/>
<circle cx="973.7" cy="274.1" r="5.9" fill="#e9007c"/>
<circle cx="973.7" cy="272.1" r="5.9" fill="#e9007c"/>
<circle cx="973.7" cy="270.1" r="5.9" fill="#e9007c"/>
<circle cx="973.7" cy="268.1" r="5.9" fill="#e9007c"/>
<circle cx="973.7" cy="266.1" r="5.9" fill="#e9007c"/>
<circle cx="973.7" cy="264.1" r="5.9" fill="#f90067"/>
<circle cx="973.7" cy="262.1" r="5.9" fill="#f90067"/>
<circle cx="973.7" cy="260.1" r="5.9" fill="#9135ba"/>
<circle cx="973.7" cy="258.1" r="5.9" fill="#9135ba"/>
<circle cx="973.7" cy="256.1" r="5.9" fill="#9135ba"/>
<circle cx="973.7" cy="254.1" r="5.9" fill="#9135ba"/>
<circle cx="973.7" cy="252.2" r="5.9" fill="#9135ba"/>
<circle cx="973.7" cy="250.2" r="5.9" fill="#f90067"/>
<circle cx="973.7" cy="248.2" r="5.9" fill="#f90067"/>
<circle cx="973.7" cy="246.2" r="5.9" fill="#f90067"/>
<circle cx="973.7" cy="244.2" r="5.9" fill="#bb00a0"/>
<circle cx="973.7" cy="242.2" r="5.9" fill="#bb00a0"/>
<circle cx="973.7" cy="240.2" r="5.9" fill="#bb00a0"/>
<circle cx="973.7" cy="238.2" r="5.9" fill="#fb0063"/>
<circle cx="973.7" cy="236.2" r="5.9" fill="#fb0063"/>
<circle cx="973.7" cy="234.2" r="5.9" fill="#fb0063"/>
<circle cx="973.7" cy="232.2" r="5.9" fill="#fb0063"/>
<circle cx="973.7" cy="230.2" r="5.9" fill="#fb0063"/>
<circle cx="973.7" cy="228.3" r="5.9" fill="#c80098"/>
<circle cx="973.7" cy="226.3" r="5.9" fill="#c80098"/>
<circle cx="973.7" cy="224.3" r="5.9" fill="#c80098"/>
<circle cx="973.7" cy="222.3" r="5.9" fill="#0084f9"/>
<circle cx="973.7" cy="220.3" r="5.9" fill="#0084f9"/>
<circle cx="973.7" cy="218.3" r="5.9" fill="#0084f9"/>
<circle cx="973.7" cy="216.3" r="5.9" fill="#0084f9"/>
<circle cx="973.7" cy="214.3" r="5.9" fill="#c80098"/>
<circle cx="973.7" cy="212.3" r="5.9" fill="#c80098"/>
<circle cx="973.7" cy="210.3" r="5.9" fill="#c80098"/>
<circle cx="973.7" cy="208.3" r="5.9" fill="#f90067"/>
<circle cx="973.7" cy="206.3" r="5.9" fill="#f90067"/>
<circle cx="967.6" cy="271.1" r="5.9" fill="#0084f9"/>
<circle cx="969.0" cy="271.1" r="5.9" fill="#0084f9"/>
<circle cx="970.3" cy="271.1" r="5.9" fill="#0084f9"/>
<circle cx="971.7" cy="271.1" r="5.9" fill="#0084f9"/>
<circle cx="973.1" cy="271.1" r="5.9" fill="#0084f9"/>
<circle cx="974.8" cy="271.1" r="5.9" fill="#f90067"/>
<circle cx="974.5" cy="271.1" r="5.9" fill="#f90067"/>
<circle cx="962.9" cy="274.5" r="5.9" fill="#0084f9"/>
<circle cx="964.2" cy="274.5" r="5.9" fill="#0084f9"/>
<circle cx="965.6" cy="274.5" r="5.9" fill="#0084f9"/>
<circle cx="966.9" cy="274.5" r="5.9" fill="#0084f9"/>
<circle cx="968.3" cy="274.5" r="5.9" fill="#0084f9"/>
<circle cx="969.6" cy="274.5" r="5.9" fill="#0084f9"/>
<circle cx="970.9" cy="274.5" r="5.9" fill="#0084f9"/>
<circle cx="972.3" cy="274.5" r="5.9" fill="#0084f9"/>
<circle cx="973.6" cy="274.5" r="5.9" fill="#0084f9"/>
<circle cx="977.8" cy="274.5" r="5.9" fill="#8443c6"/>
<circle cx="976.4" cy="274.5" r="5.9" fill="#8443c6"/>
<circle cx="975.0" cy="274.5" r="5.9" fill="#f90067"/>
<circle cx="960.1" cy="277.9" r="5.9" fill="#0084f9"/>
<circle cx="980.8" cy="277.9" r="5.9" fill="#6359da"/>
<circle cx="979.3" cy="277.9" r="5.9" fill="#6359da"/>
<circle cx="977.8" cy="277.9" r="5.9" fill="#6359da"/>
<circle cx="976.3" cy="277.9" r="5.9" fill="#6359da"/>
<circle cx="974.8" cy="277.9" r="5.9" fill="#f90067"/>
<circle cx="973.4" cy="277.9" r="5.9" fill="#f90067"/>
<circle cx="971.9" cy="277.9" r="5.9" fill="#f90067"/>
<circle cx="970.4" cy="277.9" r="5.9" fill="#f90067"/>
<circle cx="968.9" cy="277.9" r="5.9" fill="#f90067"/>
<circle cx="967.4" cy="277.9" r="5.9" fill="#f90067"/>
<circle cx="965.9" cy="277.9" r="5.9" fill="#f90067"/>
<circle cx="964.4" cy="277.9" r="5.9" fill="#f90067"/>
<circle cx="962.9" cy="277.9" r="5.9" fill="#f90067"/>
<circle cx="961.5" cy="277.9" r="5.9" fill="#0084f9"/>
<circle cx="958.6" cy="281.3" r="5.9" fill="#0084f9"/>
<circle cx="959.9" cy="281.3" r="5.9" fill="#0084f9"/>
<circle cx="982.3" cy="281.3" r="5.9" fill="#0074f0"/>
<circle cx="980.9" cy="281.3" r="5.9" fill="#0074f0"/>
<circle cx="979.5" cy="281.3" r="5.9" fill="#0074f0"/>
<circle cx="978.1" cy="281.3" r="5.9" fill="#0074f0"/>
<circle cx="976.7" cy="281.3" r="5.9" fill="#0074f0"/>
<circle cx="975.3" cy="281.3" r="5.9" fill="#f90067"/>
<circle cx="973.9" cy="281.3" r="5.9" fill="#f90067"/>
<circle cx="972.5" cy="281.3" r="5.9" fill="#f90067"/>
<circle cx="971.0" cy="281.3" r="5.9" fill="#f90067"/>
<circle cx="969.6" cy="281.3" r="5.9" fill="#f90067"/>
<circle cx="968.2" cy="281.3" r="5.9" fill="#f90067"/>
<circle cx="966.8" cy="281.3" r="5.9" fill="#f90067"/>
<circle cx="965.4" cy="281.3" r="5.9" fill="#f90067"/>
<circle cx="964.0" cy="281.3" r="5.9" fill="#f90067"/>
<circle cx="962.6" cy="281.3" r="5.9" fill="#0084f9"/>
<circle cx="961.2" cy="281.3" r="5.9" fill="#0084f9"/>
<circle cx="962.6" cy="291.5" r="5.9" fill="#4b63e3"/>
<circle cx="964.0" cy="291.5" r="5.9" fill="#4b63e3"/>
<circle cx="965.3" cy="291.5" r="5.9" fill="#4b63e3"/>
<circle cx="966.7" cy="291.5" r="5.9" fill="#4b63e3"/>
<circle cx="968.1" cy="291.5" r="5.9" fill="#4b63e3"/>
<circle cx="969.5" cy="291.5" r="5.9" fill="#4b63e3"/>
<circle cx="970.8" cy="291.5" r="5.9" fill="#4b63e3"/>
<circle cx="976.8" cy="291.5" r="5.9" fill="#c80098"/>
<circle cx="975.7" cy="291.5" r="5.9" fill="#c80098"/>
<circle cx="974.5" cy="291.5" r="5.9" fill="#c80098"/>
<circle cx="973.4" cy="291.5" r="5.9" fill="#c80098"/>
<circle cx="972.2" cy="291.5" r="5.9" fill="#0084f9"/>
<circle cx="959.1" cy="288.1" r="5.9" fill="#007cf5"/>
<circle cx="981.3" cy="288.1" r="5.9" fill="#236cea"/>
<circle cx="979.9" cy="288.1" r="5.9" fill="#236cea"/>
<circle cx="978.5" cy="288.1" r="5.9" fill="#236cea"/>
<circle cx="977.0" cy="288.1" r="5.9" fill="#236cea"/>
<circle cx="975.6" cy="288.1" r="5.9" fill="#f90067"/>
<circle cx="974.2" cy="288.1" r="5.9" fill="#f90067"/>
<circle cx="972.8" cy="288.1" r="5.9" fill="#0084f9"/>
<circle cx="971.3" cy="288.1" r="5.9" fill="#0084f9"/>
<circle cx="969.9" cy="288.1" r="5.9" fill="#0084f9"/>
<circle cx="968.5" cy="288.1" r="5.9" fill="#0084f9"/>
<circle cx="967.1" cy="288.1" r="5.9" fill="#0084f9"/>
<circle cx="965.6" cy="288.1" r="5.9" fill="#0084f9"/>
<circle cx="964.2" cy="288.1" r="5.9" fill="#0084f9"/>
<circle cx="962.8" cy="288.1" r="5.9" fill="#0084f9"/>
<circle cx="961.4" cy="288.1" r="5.9" fill="#0084f9"/>
<circle cx="960.0" cy="288.1" r="5.9" fill="#007cf5"/>
<circle cx="958.3" cy="284.7" r="5.9" fill="#0084f9"/>
<circle cx="959.6" cy="284.7" r="5.9" fill="#0084f9"/>
<circle cx="961.0" cy="284.7" r="5.9" fill="#0084f9"/>
<circle cx="982.8" cy="284.7" r="5.9" fill="#007ff7"/>
<circle cx="981.3" cy="284.7" r="5.9" fill="#007ff7"/>
<circle cx="979.9" cy="284.7" r="5.9" fill="#007ff7"/>
<circle cx="978.4" cy="284.7" r="5.9" fill="#007ff7"/>
<circle cx="976.9" cy="284.7" r="5.9" fill="#007ff7"/>
<circle cx="975.5" cy="284.7" r="5.9" fill="#fb0063"/>
<circle cx="974.0" cy="284.7" r="5.9" fill="#fb0063"/>
<circle cx="972.6" cy="284.7" r="5.9" fill="#fb0063"/>
<circle cx="971.1" cy="284.7" r="5.9" fill="#fb0063"/>
<circle cx="969.6" cy="284.7" r="5.9" fill="#fb0063"/>
<circle cx="968.2" cy="284.7" r="5.9" fill="#fb0063"/>
<circle cx="966.7" cy="284.7" r="5.9" fill="#fb0063"/>
<circle cx="965.2" cy="284.7" r="5.9" fill="#0084f9"/>
<circle cx="963.8" cy="284.7" r="5.9" fill="#0084f9"/>
<circle cx="962.3" cy="284.7" r="5.9" fill="#0084f9"/>
<circle cx="972.5" cy="291.2" r="5.9" fill="#0084f9"/>
<circle cx="1269.4" cy="205.1" r="5.9" fill="#fb0063"/>
<circle cx="1269.4" cy="207.1" r="5.9" fill="#fb0063"/>
<circle cx="1269.4" cy="209.1" r="5.9" fill="#fb0063"/>
<circle cx="1269.4" cy="211.0" r="5.9" fill="#fb0063"/>
<circle cx="1269.4" cy="213.0" r="5.9" fill="#fb0063"/>
<circle cx="1269.4" cy="215.0" r="5.9" fill="#bb00a0"/>
<circle cx="1269.4" cy="217.0" r="5.9" fill="#bb00a0"/>
<circle cx="1269.4" cy="218.9" r="5.9" fill="#bb00a0"/>
<circle cx="1269.4" cy="220.9" r="5.9" fill="#bb00a0"/>
<circle cx="1269.4" cy="222.9" r="5.9" fill="#bb00a0"/>
<circle cx="1269.4" cy="224.9" r="5.9" fill="#bb00a0"/>
<circle cx="1269.4" cy="226.9" r="5.9" fill="#bb00a0"/>
<circle cx="1269.4" cy="228.8" r="5.9" fill="#9135ba"/>
<circle cx="1269.4" cy="230.8" r="5.9" fill="#9135ba"/>
<circle cx="1269.4" cy="232.8" r="5.9" fill="#9135ba"/>
<circle cx="1269.4" cy="234.8" r="5.9" fill="#9135ba"/>
<circle cx="1269.4" cy="236.7" r="5.9" fill="#9135ba"/>
<circle cx="1269.4" cy="238.7" r="5.9" fill="#bb00a0"/>
<circle cx="1269.4" cy="240.7" r="5.9" fill="#bb00a0"/>
<circle cx="1269.4" cy="242.7" r="5.9" fill="#bb00a0"/>
<circle cx="1269.4" cy="244.7" r="5.9" fill="#9b23ad"/>
<circle cx="1269.4" cy="246.6" r="5.9" fill="#9b23ad"/>
<circle cx="1269.4" cy="248.6" r="5.9" fill="#9b23ad"/>
<circle cx="1269.4" cy="250.6" r="5.9" fill="#9b23ad"/>
<circle cx="1269.4" cy="252.6" r="5.9" fill="#e00086"/>
<circle cx="1269.4" cy="254.5" r="5.9" fill="#e00086"/>
<circle cx="1269.4" cy="256.5" r="5.9" fill="#e00086"/>
<circle cx="1269.4" cy="258.5" r="5.9" fill="#e00086"/>
<circle cx="1269.4" cy="260.5" r="5.9" fill="#9b23ad"/>
<circle cx="1269.4" cy="262.5" r="5.9" fill="#9b23ad"/>
<circle cx="1269.4" cy="264.4" r="5.9" fill="#6359da"/>
<circle cx="1269.4" cy="266.4" r="5.9" fill="#6359da"/>
<circle cx="1269.4" cy="268.4" r="5.9" fill="#6359da"/>
<circle cx="1269.4" cy="270.4" r="5.9" fill="#f20072"/>
<circle cx="1269.4" cy="272.3" r="5.9" fill="#f20072"/>
<circle cx="1269.4" cy="274.3" r="5.9" fill="#f20072"/>
<circle cx="1269.4" cy="276.3" r="5.9" fill="#f20072"/>
<circle cx="1269.4" cy="278.3" r="5.9" fill="#f90067"/>
<circle cx="1269.4" cy="358.4" r="5.9" fill="#bb00a0"/>
<circle cx="1269.4" cy="356.4" r="5.9" fill="#bb00a0"/>
<circle cx="1269.4" cy="354.5" r="5.9" fill="#bb00a0"/>
<circle cx="1269.4" cy="352.5" r="5.9" fill="#bb00a0"/>
<circle cx="1269.4" cy="350.6" r="5.9" fill="#754fd1"/>
<circle cx="1269.4" cy="348.6" r="5.9" fill="#754fd1"/>
<circle cx="1269.4" cy="346.7" r="5.9" fill="#754fd1"/>
<circle cx="1269.4" cy="344.7" r="5.9" fill="#f90067"/>
<circle cx="1269.4" cy="342.8" r="5.9" fill="#f90067"/>
<circle cx="1269.4" cy="340.8" r="5.9" fill="#f90067"/>
<circle cx="1269.4" cy="338.9" r="5.9" fill="#bb00a0"/>
<circle cx="1269.4" cy="336.9" r="5.9" fill="#bb00a0"/>
<circle cx="1269.4" cy="335.0" r="5.9" fill="#bb00a0"/>
<circle cx="1269.4" cy="333.0" r="5.9" fill="#0084f9"/>
<circle cx="1269.4" cy="331.0" r="5.9" fill="#0084f9"/>
<circle cx="1269.4" cy="329.1" r="5.9" fill="#0084f9"/>
<circle cx="1269.4" cy="327.1" r="5.9" fill="#0084f9"/>
<circle cx="1269.4" cy="325.2" r="5.9" fill="#0084f9"/>
<circle cx="1269.4" cy="323.2" r="5.9" fill="#0084f9"/>
<circle cx="1269.4" cy="321.3" r="5.9" fill="#e9007c"/>
<circle cx="1269.4" cy="319.3" r="5.9" fill="#e9007c"/>
<circle cx="1269.4" cy="317.4" r="5.9" fill="#e9007c"/>
<circle cx="1269.4" cy="315.4" r="5.9" fill="#e9007c"/>
<circle cx="1269.4" cy="313.5" r="5.9" fill="#9b23ad"/>
<circle cx="1269.4" cy="311.5" r="5.9" fill="#9b23ad"/>
<circle cx="1269.4" cy="309.6" r="5.9" fill="#9b23ad"/>
<circle cx="1269.4" cy="307.6" r="5.9" fill="#9b23ad"/>
<circle cx="1269.4" cy="305.6" r="5.9" fill="#9b23ad"/>
<circle cx="1269.4" cy="303.7" r="5.9" fill="#9b23ad"/>
<circle cx="1269.4" cy="301.7" r="5.9" fill="#e9007c"/>
<circle cx="1269.4" cy="299.8" r="5.9" fill="#e9007c"/>
<circle cx="1269.4" cy="297.8" r="5.9" fill="#e9007c"/>
<circle cx="1269.4" cy="295.9" r="5.9" fill="#8443c6"/>
<circle cx="1269.4" cy="293.9" r="5.9" fill="#8443c6"/>
<circle cx="1269.4" cy="292.0" r="5.9" fill="#8443c6"/>
<circle cx="1269.4" cy="290.0" r="5.9" fill="#8443c6"/>
<circle cx="1269.4" cy="288.1" r="5.9" fill="#8443c6"/>
<circle cx="1269.4" cy="286.1" r="5.9" fill="#8443c6"/>
<circle cx="1269.4" cy="284.2" r="5.9" fill="#8443c6"/>
<circle cx="1269.4" cy="282.2" r="5.9" fill="#f90067"/>
<circle cx="1269.4" cy="280.2" r="5.9" fill="#f90067"/>
<circle cx="1271.7" cy="205.1" r="5.9" fill="#fb0063"/>
<circle cx="1271.7" cy="207.1" r="5.9" fill="#fb0063"/>
<circle cx="1271.7" cy="209.1" r="5.9" fill="#fb0063"/>
<circle cx="1271.7" cy="211.0" r="5.9" fill="#fb0063"/>
<circle cx="1271.7" cy="213.0" r="5.9" fill="#fb0063"/>
<circle cx="1271.7" cy="215.0" r="5.9" fill="#bb00a0"/>
<circle cx="1271.7" cy="217.0" r="5.9" fill="#bb00a0"/>
<circle cx="1271.7" cy="218.9" r="5.9" fill="#bb00a0"/>
<circle cx="1271.7" cy="220.9" r="5.9" fill="#bb00a0"/>
<circle cx="1271.7" cy="222.9" r="5.9" fill="#bb00a0"/>
<circle cx="1271.7" cy="224.9" r="5.9" fill="#bb00a0"/>
<circle cx="1271.7" cy="226.9" r="5.9" fill="#bb00a0"/>
<circle cx="1271.7" cy="228.8" r="5.9" fill="#9135ba"/>
<circle cx="1271.7" cy="230.8" r="5.9" fill="#9135ba"/>
<circle cx="1271.7" cy="232.8" r="5.9" fill="#9135ba"/>
<circle cx="1271.7" cy="234.8" r="5.9" fill="#9135ba"/>
<circle cx="1271.7" cy="236.7" r="5.9" fill="#9135ba"/>
<circle cx="1271.7" cy="238.7" r="5.9" fill="#bb00a0"/>
<circle cx="1271.7" cy="240.7" r="5.9" fill="#bb00a0"/>
<circle cx="1271.7" cy="242.7" r="5.9" fill="#bb00a0"/>
<circle cx="1271.7" cy="244.7" r="5.9" fill="#9b23ad"/>
<circle cx="1271.7" cy="246.6" r="5.9" fill="#9b23ad"/>
<circle cx="1271.7" cy="248.6" r="5.9" fill="#9b23ad"/>
<circle cx="1271.7" cy="250.6" r="5.9" fill="#9b23ad"/>
<circle cx="1271.7" cy="252.6" r="5.9" fill="#e00086"/>
<circle cx="1271.7" cy="254.5" r="5.9" fill="#e00086"/>
<circle cx="1271.7" cy="256.5" r="5.9" fill="#e00086"/>
<circle cx="1271.7" cy="258.5" r="5.9" fill="#e00086"/>
<circle cx="1271.7" cy="260.5" r="5.9" fill="#9b23ad"/>
<circle cx="1271.7" cy="262.5" r="5.9" fill="#9b23ad"/>
<circle cx="1271.7" cy="264.4" r="5.9" fill="#6359da"/>
<circle cx="1271.7" cy="266.4" r="5.9" fill="#6359da"/>
<circle cx="1271.7" cy="268.4" r="5.9" fill="#6359da"/>
<circle cx="1271.7" cy="270.4" r="5.9" fill="#f20072"/>
<circle cx="1271.7" cy="272.3" r="5.9" fill="#f20072"/>
<circle cx="1271.7" cy="274.3" r="5.9" fill="#f20072"/>
<circle cx="1271.7" cy="276.3" r="5.9" fill="#f20072"/>
<circle cx="1271.7" cy="278.3" r="5.9" fill="#f90067"/>
<circle cx="1271.7" cy="358.4" r="5.9" fill="#bb00a0"/>
<circle cx="1271.7" cy="356.4" r="5.9" fill="#bb00a0"/>
<circle cx="1271.7" cy="354.5" r="5.9" fill="#bb00a0"/>
<circle cx="1271.7" cy="352.5" r="5.9" fill="#bb00a0"/>
<circle cx="1271.7" cy="350.6" r="5.9" fill="#754fd1"/>
<circle cx="1271.7" cy="348.6" r="5.9" fill="#754fd1"/>
<circle cx="1271.7" cy="346.7" r="5.9" fill="#754fd1"/>
<circle cx="1271.7" cy="344.7" r="5.9" fill="#f90067"/>
<circle cx="1271.7" cy="342.8" r="5.9" fill="#f90067"/>
<circle cx="1271.7" cy="340.8" r="5.9" fill="#f90067"/>
<circle cx="1271.7" cy="338.9" r="5.9" fill="#bb00a0"/>
<circle cx="1271.7" cy="336.9" r="5.9" fill="#bb00a0"/>
<circle cx="1271.7" cy="335.0" r="5.9" fill="#bb00a0"/>
<circle cx="1271.7" cy="333.0" r="5.9" fill="#0084f9"/>
<circle cx="1271.7" cy="331.0" r="5.9" fill="#0084f9"/>
<circle cx="1271.7" cy="329.1" r="5.9" fill="#0084f9"/>
<circle cx="1271.7" cy="327.1" r="5.9" fill="#0084f9"/>
<circle cx="1271.7" cy="325.2" r="5.9" fill="#0084f9"/>
<circle cx="1271.7" cy="323.2" r="5.9" fill="#0084f9"/>
<circle cx="1271.7" cy="321.3" r="5.9" fill="#e9007c"/>
<circle cx="1271.7" cy="319.3" r="5.9" fill="#e9007c"/>
<circle cx="1271.7" cy="317.4" r="5.9" fill="#e9007c"/>
<circle cx="1271.7" cy="315.4" r="5.9" fill="#e9007c"/>
<circle cx="1271.7" cy="313.5" r="5.9" fill="#9b23ad"/>
<circle cx="1271.7" cy="311.5" r="5.9" fill="#9b23ad"/>
<circle cx="1271.7" cy="309.6" r="5.9" fill="#9b23ad"/>
<circle cx="1271.7" cy="307.6" r="5.9" fill="#9b23ad"/>
<circle cx="1271.7" cy="305.6" r="5.9" fill="#9b23ad"/>
<circle cx="1271.7" cy="303.7" r="5.9" fill="#9b23ad"/>
<circle cx="1271.7" cy="301.7" r="5.9" fill="#e9007c"/>
<circle cx="1271.7" cy="299.8" r="5.9" fill="#e9007c"/>
<circle cx="1271.7" cy="297.8" r="5.9" fill="#e9007c"/>
<circle cx="1271.7" cy="295.9" r="5.9" fill="#8443c6"/>
<circle cx="1271.7" cy="293.9" r="5.9" fill="#8443c6"/>
<circle cx="1271.7" cy="292.0" r="5.9" fill="#8443c6"/>
<circle cx="1271.7" cy="290.0" r="5.9" fill="#8443c6"/>
<circle cx="1271.7" cy="288.1" r="5.9" fill="#8443c6"/>
<circle cx="1271.7" cy="286.1" r="5.9" fill="#8443c6"/>
<circle cx="1271.7" cy="284.2" r="5.9" fill="#8443c6"/>
<circle cx="1271.7" cy="282.2" r="5.9" fill="#f90067"/>
<circle cx="1271.7" cy="280.2" r="5.9" fill="#f90067"/>
<circle cx="1255.6" cy="281.7" r="5.9" fill="#0084f9"/>
<circle cx="1255.6" cy="287.7" r="5.9" fill="#0084f9"/>
<circle cx="1256.9" cy="292.7" r="5.9" fill="#0084f9"/>
<circle cx="1255.6" cy="277.7" r="5.9" fill="#754fd1"/>
<circle cx="1261.7" cy="282.7" r="5.9" fill="#c80098"/>
<circle cx="1261.7" cy="286.7" r="5.9" fill="#c80098"/>
<circle cx="1277.5" cy="279.7" r="5.9" fill="#007ff7"/>
<circle cx="1277.5" cy="284.7" r="5.9" fill="#007ff7"/>
<circle cx="1277.5" cy="286.8" r="5.9" fill="#007ff7"/>
<circle cx="1269.6" cy="276.7" r="5.9" fill="#fb0063"/>
<circle cx="1269.6" cy="281.7" r="5.9" fill="#fb0063"/>
<circle cx="1269.6" cy="285.7" r="5.9" fill="#fb0063"/>
<circle cx="1259.7" cy="273.4" r="5.9" fill="#fb0063"/>
<circle cx="1259.9" cy="294.2" r="5.9" fill="#0086fa"/>
<circle cx="358.8" cy="443.5" r="5.9" fill="#0084f9"/>
<circle cx="358.8" cy="451.9" r="5.9" fill="#bb00a0"/>
<circle cx="359.6" cy="460.4" r="5.9" fill="#fb0063"/>
<circle cx="376.6" cy="460.4" r="5.9" fill="#0074f0"/>
<circle cx="359.6" cy="468.9" r="5.9" fill="#9135ba"/>
<circle cx="376.4" cy="468.9" r="5.9" fill="#0084f9"/>
<circle cx="357.0" cy="477.4" r="5.9" fill="#d5008f"/>
<circle cx="358.5" cy="477.4" r="5.9" fill="#d5008f"/>
<circle cx="376.2" cy="477.4" r="5.9" fill="#fb0063"/>
<circle cx="374.7" cy="477.4" r="5.9" fill="#fb0063"/>
<circle cx="373.2" cy="477.4" r="5.9" fill="#fb0063"/>
<circle cx="371.8" cy="477.4" r="5.9" fill="#fb0063"/>
<circle cx="370.3" cy="477.4" r="5.9" fill="#fb0063"/>
<circle cx="368.8" cy="477.4" r="5.9" fill="#fb0063"/>
<circle cx="367.3" cy="477.4" r="5.9" fill="#fb0063"/>
<circle cx="365.9" cy="477.4" r="5.9" fill="#ab15a7"/>
<circle cx="364.4" cy="477.4" r="5.9" fill="#ab15a7"/>
<circle cx="362.9" cy="477.4" r="5.9" fill="#ab15a7"/>
<circle cx="361.4" cy="477.4" r="5.9" fill="#ab15a7"/>
<circle cx="360.0" cy="477.4" r="5.9" fill="#7e48ca"/>
<circle cx="344.9" cy="485.8" r="5.9" fill="#893dc1"/>
<circle cx="346.4" cy="485.8" r="5.9" fill="#893dc1"/>
<circle cx="347.9" cy="485.8" r="5.9" fill="#893dc1"/>
<circle cx="349.4" cy="485.8" r="5.9" fill="#893dc1"/>
<circle cx="350.9" cy="485.8" r="5.9" fill="#893dc1"/>
<circle cx="352.4" cy="485.8" r="5.9" fill="#893dc1"/>
<circle cx="353.8" cy="485.8" r="5.9" fill="#893dc1"/>
<circle cx="355.3" cy="485.8" r="5.9" fill="#d5008f"/>
<circle cx="356.8" cy="485.8" r="5.9" fill="#d5008f"/>
<circle cx="358.3" cy="485.8" r="5.9" fill="#d5008f"/>
<circle cx="359.8" cy="485.8" r="5.9" fill="#d5008f"/>
<circle cx="361.3" cy="485.8" r="5.9" fill="#d5008f"/>
<circle cx="362.8" cy="485.8" r="5.9" fill="#0086fa"/>
<circle cx="364.3" cy="485.8" r="5.9" fill="#0086fa"/>
<circle cx="365.8" cy="485.8" r="5.9" fill="#0086fa"/>
<circle cx="367.3" cy="485.8" r="5.9" fill="#0086fa"/>
<circle cx="368.7" cy="485.8" r="5.9" fill="#0086fa"/>
<circle cx="370.2" cy="485.8" r="5.9" fill="#0086fa"/>
<circle cx="371.7" cy="485.8" r="5.9" fill="#ab15a7"/>
<circle cx="373.2" cy="485.8" r="5.9" fill="#ab15a7"/>
<circle cx="374.7" cy="485.8" r="5.9" fill="#ab15a7"/>
<circle cx="376.2" cy="485.8" r="5.9" fill="#fb0063"/>
<circle cx="343.4" cy="494.3" r="5.9" fill="#0084f9"/>
<circle cx="344.8" cy="494.3" r="5.9" fill="#0084f9"/>
<circle cx="346.3" cy="494.3" r="5.9" fill="#0084f9"/>
<circle cx="347.7" cy="494.3" r="5.9" fill="#0084f9"/>
<circle cx="349.2" cy="494.3" r="5.9" fill="#0084f9"/>
<circle cx="350.6" cy="494.3" r="5.9" fill="#754fd1"/>
<circle cx="352.1" cy="494.3" r="5.9" fill="#754fd1"/>
<circle cx="353.5" cy="494.3" r="5.9" fill="#754fd1"/>
<circle cx="355.0" cy="494.3" r="5.9" fill="#754fd1"/>
<circle cx="356.4" cy="494.3" r="5.9" fill="#754fd1"/>
<circle cx="357.9" cy="494.3" r="5.9" fill="#754fd1"/>
<circle cx="359.3" cy="494.3" r="5.9" fill="#bb00a0"/>
<circle cx="380.1" cy="494.3" r="5.9" fill="#0074f0"/>
<circle cx="378.6" cy="494.3" r="5.9" fill="#0074f0"/>
<circle cx="377.1" cy="494.3" r="5.9" fill="#0074f0"/>
<circle cx="375.6" cy="494.3" r="5.9" fill="#0074f0"/>
<circle cx="374.1" cy="494.3" r="5.9" fill="#0074f0"/>
<circle cx="372.7" cy="494.3" r="5.9" fill="#0074f0"/>
<circle cx="371.2" cy="494.3" r="5.9" fill="#0074f0"/>
<circle cx="369.7" cy="494.3" r="5.9" fill="#e00086"/>
<circle cx="368.2" cy="494.3" r="5.9" fill="#e00086"/>
<circle cx="366.7" cy="494.3" r="5.9" fill="#e00086"/>
<circle cx="365.2" cy="494.3" r="5.9" fill="#e00086"/>
<circle cx="363.7" cy="494.3" r="5.9" fill="#e00086"/>
<circle cx="362.2" cy="494.3" r="5.9" fill="#e00086"/>
<circle cx="360.8" cy="494.3" r="5.9" fill="#bb00a0"/>
<circle cx="343.8" cy="502.8" r="5.9" fill="#0086fa"/>
<circle cx="381.6" cy="502.8" r="5.9" fill="#007cf5"/>
<circle cx="380.1" cy="502.8" r="5.9" fill="#007cf5"/>
<circle cx="378.7" cy="502.8" r="5.9" fill="#007cf5"/>
<circle cx="377.2" cy="502.8" r="5.9" fill="#c0009c"/>
<circle cx="375.8" cy="502.8" r="5.9" fill="#c0009c"/>
<circle cx="374.3" cy="502.8" r="5.9" fill="#c0009c"/>
<circle cx="372.9" cy="502.8" r="5.9" fill="#c0009c"/>
<circle cx="371.4" cy="502.8" r="5.9" fill="#c0009c"/>
<circle cx="370.0" cy="502.8" r="5.9" fill="#c0009c"/>
<circle cx="368.5" cy="502.8" r="5.9" fill="#c0009c"/>
<circle cx="367.1" cy="502.8" r="5.9" fill="#9135ba"/>
<circle cx="365.6" cy="502.8" r="5.9" fill="#9135ba"/>
<circle cx="364.2" cy="502.8" r="5.9" fill="#9135ba"/>
<circle cx="362.7" cy="502.8" r="5.9" fill="#9135ba"/>
<circle cx="361.2" cy="502.8" r="5.9" fill="#9135ba"/>
<circle cx="359.8" cy="502.8" r="5.9" fill="#f6006b"/>
<circle cx="358.3" cy="502.8" r="5.9" fill="#f6006b"/>
<circle cx="356.9" cy="502.8" r="5.9" fill="#f6006b"/>
<circle cx="355.4" cy="502.8" r="5.9" fill="#f6006b"/>
<circle cx="354.0" cy="502.8" r="5.9" fill="#f6006b"/>
<circle cx="352.5" cy="502.8" r="5.9" fill="#f6006b"/>
<circle cx="351.1" cy="502.8" r="5.9" fill="#754fd1"/>
<circle cx="349.6" cy="502.8" r="5.9" fill="#754fd1"/>
<circle cx="348.2" cy="502.8" r="5.9" fill="#754fd1"/>
<circle cx="346.7" cy="502.8" r="5.9" fill="#754fd1"/>
<circle cx="345.2" cy="502.8" r="5.9" fill="#0086fa"/>
<circle cx="334.5" cy="511.2" r="5.9" fill="#7e48ca"/>
<circle cx="335.9" cy="511.2" r="5.9" fill="#7e48ca"/>
<circle cx="337.3" cy="511.2" r="5.9" fill="#7e48ca"/>
<circle cx="338.7" cy="511.2" r="5.9" fill="#7e48ca"/>
<circle cx="340.1" cy="511.2" r="5.9" fill="#7e48ca"/>
<circle cx="341.4" cy="511.2" r="5.9" fill="#7e48ca"/>
<circle cx="342.8" cy="511.2" r="5.9" fill="#7e48ca"/>
<circle cx="344.2" cy="511.2" r="5.9" fill="#7e48ca"/>
<circle cx="394.4" cy="511.2" r="5.9" fill="#fb0063"/>
<circle cx="392.9" cy="511.2" r="5.9" fill="#fb0063"/>
<circle cx="391.4" cy="511.2" r="5.9" fill="#fb0063"/>
<circle cx="390.0" cy="511.2" r="5.9" fill="#fb0063"/>
<circle cx="388.5" cy="511.2" r="5.9" fill="#fb0063"/>
<circle cx="387.0" cy="511.2" r="5.9" fill="#fb0063"/>
<circle cx="385.5" cy="511.2" r="5.9" fill="#fb0063"/>
<circle cx="384.0" cy="511.2" r="5.9" fill="#fb0063"/>
<circle cx="382.6" cy="511.2" r="5.9" fill="#0084f9"/>
<circle cx="381.1" cy="511.2" r="5.9" fill="#0084f9"/>
<circle cx="379.6" cy="511.2" r="5.9" fill="#0084f9"/>
<circle cx="378.1" cy="511.2" r="5.9" fill="#0084f9"/>
<circle cx="376.7" cy="511.2" r="5.9" fill="#0084f9"/>
<circle cx="375.2" cy="511.2" r="5.9" fill="#0084f9"/>
<circle cx="373.7" cy="511.2" r="5.9" fill="#0084f9"/>
<circle cx="372.2" cy="511.2" r="5.9" fill="#0084f9"/>
<circle cx="370.7" cy="511.2" r="5.9" fill="#0084f9"/>
<circle cx="369.3" cy="511.2" r="5.9" fill="#893dc1"/>
<circle cx="367.8" cy="511.2" r="5.9" fill="#893dc1"/>
<circle cx="366.3" cy="511.2" r="5.9" fill="#893dc1"/>
<circle cx="364.8" cy="511.2" r="5.9" fill="#893dc1"/>
<circle cx="363.3" cy="511.2" r="5.9" fill="#893dc1"/>
<circle cx="361.9" cy="511.2" r="5.9" fill="#893dc1"/>
<circle cx="360.4" cy="511.2" r="5.9" fill="#893dc1"/>
<circle cx="358.9" cy="511.2" r="5.9" fill="#893dc1"/>
<circle cx="357.4" cy="511.2" r="5.9" fill="#893dc1"/>
<circle cx="356.0" cy="511.2" r="5.9" fill="#fb0063"/>
<circle cx="354.5" cy="511.2" r="5.9" fill="#fb0063"/>
<circle cx="353.0" cy="511.2" r="5.9" fill="#fb0063"/>
<circle cx="351.5" cy="511.2" r="5.9" fill="#fb0063"/>
<circle cx="350.0" cy="511.2" r="5.9" fill="#fb0063"/>
<circle cx="348.6" cy="511.2" r="5.9" fill="#fb0063"/>
<circle cx="347.1" cy="511.2" r="5.9" fill="#fb0063"/>
<circle cx="345.6" cy="511.2" r="5.9" fill="#236cea"/>
<circle cx="414.2" cy="511.2" r="5.9" fill="#c0009c"/>
<circle cx="427.7" cy="511.2" r="5.9" fill="#893dc1"/>
<circle cx="443.8" cy="511.2" r="5.9" fill="#4b63e3"/>
<circle cx="445.2" cy="511.2" r="5.9" fill="#4b63e3"/>
<circle cx="446.7" cy="511.2" r="5.9" fill="#4b63e3"/>
<circle cx="448.1" cy="511.2" r="5.9" fill="#4b63e3"/>
<circle cx="449.6" cy="511.2" r="5.9" fill="#4b63e3"/>
<circle cx="451.0" cy="511.2" r="5.9" fill="#fb0063"/>
<circle cx="473.2" cy="511.2" r="5.9" fill="#007ff7"/>
<circle cx="358.9" cy="595.9" r="5.9" fill="#0086fa"/>
<circle cx="358.9" cy="587.5" r="5.9" fill="#0086fa"/>
<circle cx="358.9" cy="579.0" r="5.9" fill="#0086fa"/>
<circle cx="358.1" cy="570.5" r="5.9" fill="#6359da"/>
<circle cx="377.7" cy="570.5" r="5.9" fill="#7e48ca"/>
<circle cx="356.6" cy="562.1" r="5.9" fill="#7e48ca"/>
<circle cx="358.0" cy="562.1" r="5.9" fill="#7e48ca"/>
<circle cx="376.6" cy="562.1" r="5.9" fill="#a21eaa"/>
<circle cx="375.2" cy="562.1" r="5.9" fill="#a21eaa"/>
<circle cx="373.7" cy="562.1" r="5.9" fill="#a21eaa"/>
<circle cx="372.3" cy="562.1" r="5.9" fill="#a21eaa"/>
<circle cx="370.9" cy="562.1" r="5.9" fill="#a21eaa"/>
<circle cx="369.4" cy="562.1" r="5.9" fill="#a21eaa"/>
<circle cx="368.0" cy="562.1" r="5.9" fill="#a21eaa"/>
<circle cx="366.6" cy="562.1" r="5.9" fill="#0084f9"/>
<circle cx="365.1" cy="562.1" r="5.9" fill="#0084f9"/>
<circle cx="363.7" cy="562.1" r="5.9" fill="#0084f9"/>
<circle cx="362.3" cy="562.1" r="5.9" fill="#0084f9"/>
<circle cx="360.8" cy="562.1" r="5.9" fill="#7e48ca"/>
<circle cx="359.4" cy="562.1" r="5.9" fill="#7e48ca"/>
<circle cx="353.1" cy="553.6" r="5.9" fill="#0084f9"/>
<circle cx="354.6" cy="553.6" r="5.9" fill="#0084f9"/>
<circle cx="356.0" cy="553.6" r="5.9" fill="#0084f9"/>
<circle cx="357.5" cy="553.6" r="5.9" fill="#f90067"/>
<circle cx="358.9" cy="553.6" r="5.9" fill="#f90067"/>
<circle cx="360.4" cy="553.6" r="5.9" fill="#f90067"/>
<circle cx="361.8" cy="553.6" r="5.9" fill="#6359da"/>
<circle cx="363.3" cy="553.6" r="5.9" fill="#6359da"/>
<circle cx="364.7" cy="553.6" r="5.9" fill="#6359da"/>
<circle cx="366.2" cy="553.6" r="5.9" fill="#6359da"/>
<circle cx="367.6" cy="553.6" r="5.9" fill="#6359da"/>
<circle cx="369.1" cy="553.6" r="5.9" fill="#6359da"/>
<circle cx="370.5" cy="553.6" r="5.9" fill="#6359da"/>
<circle cx="372.0" cy="553.6" r="5.9" fill="#6359da"/>
<circle cx="373.4" cy="553.6" r="5.9" fill="#6359da"/>
<circle cx="375.8" cy="553.6" r="5.9" fill="#4b63e3"/>
<circle cx="374.9" cy="553.6" r="5.9" fill="#4b63e3"/>
<circle cx="343.4" cy="545.1" r="5.9" fill="#fb0063"/>
<circle cx="344.7" cy="545.1" r="5.9" fill="#fb0063"/>
<circle cx="346.0" cy="545.1" r="5.9" fill="#fb0063"/>
<circle cx="347.2" cy="545.1" r="5.9" fill="#fb0063"/>
<circle cx="348.5" cy="545.1" r="5.9" fill="#fb0063"/>
<circle cx="349.8" cy="545.1" r="5.9" fill="#fb0063"/>
<circle cx="378.2" cy="545.1" r="5.9" fill="#9b23ad"/>
<circle cx="376.8" cy="545.1" r="5.9" fill="#9b23ad"/>
<circle cx="375.3" cy="545.1" r="5.9" fill="#9b23ad"/>
<circle cx="373.9" cy="545.1" r="5.9" fill="#006fed"/>
<circle cx="372.5" cy="545.1" r="5.9" fill="#006fed"/>
<circle cx="371.1" cy="545.1" r="5.9" fill="#006fed"/>
<circle cx="369.6" cy="545.1" r="5.9" fill="#006fed"/>
<circle cx="368.2" cy="545.1" r="5.9" fill="#006fed"/>
<circle cx="366.8" cy="545.1" r="5.9" fill="#006fed"/>
<circle cx="365.3" cy="545.1" r="5.9" fill="#006fed"/>
<circle cx="363.9" cy="545.1" r="5.9" fill="#006fed"/>
<circle cx="362.5" cy="545.1" r="5.9" fill="#bb00a0"/>
<circle cx="361.1" cy="545.1" r="5.9" fill="#bb00a0"/>
<circle cx="359.6" cy="545.1" r="5.9" fill="#bb00a0"/>
<circle cx="358.2" cy="545.1" r="5.9" fill="#bb00a0"/>
<circle cx="356.8" cy="545.1" r="5.9" fill="#bb00a0"/>
<circle cx="355.3" cy="545.1" r="5.9" fill="#bb00a0"/>
<circle cx="353.9" cy="545.1" r="5.9" fill="#bb00a0"/>
<circle cx="352.5" cy="545.1" r="5.9" fill="#bb00a0"/>
<circle cx="351.1" cy="545.1" r="5.9" fill="#0086fa"/>
<circle cx="344.9" cy="536.6" r="5.9" fill="#0086fa"/>
<circle cx="346.4" cy="536.6" r="5.9" fill="#0086fa"/>
<circle cx="347.9" cy="536.6" r="5.9" fill="#0086fa"/>
<circle cx="349.4" cy="536.6" r="5.9" fill="#0086fa"/>
<circle cx="350.8" cy="536.6" r="5.9" fill="#0086fa"/>
<circle cx="352.3" cy="536.6" r="5.9" fill="#0086fa"/>
<circle cx="353.8" cy="536.6" r="5.9" fill="#0086fa"/>
<circle cx="355.3" cy="536.6" r="5.9" fill="#0086fa"/>
<circle cx="356.8" cy="536.6" r="5.9" fill="#f90067"/>
<circle cx="358.2" cy="536.6" r="5.9" fill="#f90067"/>
<circle cx="359.7" cy="536.6" r="5.9" fill="#6e53d5"/>
<circle cx="361.2" cy="536.6" r="5.9" fill="#6e53d5"/>
<circle cx="380.5" cy="536.6" r="5.9" fill="#0084f9"/>
<circle cx="379.0" cy="536.6" r="5.9" fill="#0084f9"/>
<circle cx="377.5" cy="536.6" r="5.9" fill="#0084f9"/>
<circle cx="376.1" cy="536.6" r="5.9" fill="#9135ba"/>
<circle cx="374.6" cy="536.6" r="5.9" fill="#9135ba"/>
<circle cx="373.1" cy="536.6" r="5.9" fill="#9135ba"/>
<circle cx="371.6" cy="536.6" r="5.9" fill="#9135ba"/>
<circle cx="370.1" cy="536.6" r="5.9" fill="#9135ba"/>
<circle cx="368.6" cy="536.6" r="5.9" fill="#9135ba"/>
<circle cx="367.2" cy="536.6" r="5.9" fill="#9135ba"/>
<circle cx="365.7" cy="536.6" r="5.9" fill="#6e53d5"/>
<circle cx="364.2" cy="536.6" r="5.9" fill="#6e53d5"/>
<circle cx="362.7" cy="536.6" r="5.9" fill="#6e53d5"/>
<circle cx="335.2" cy="528.2" r="5.9" fill="#0084f9"/>
<circle cx="336.7" cy="528.2" r="5.9" fill="#0084f9"/>
<circle cx="338.1" cy="528.2" r="5.9" fill="#fb0063"/>
<circle cx="339.6" cy="528.2" r="5.9" fill="#fb0063"/>
<circle cx="341.1" cy="528.2" r="5.9" fill="#fb0063"/>
<circle cx="342.5" cy="528.2" r="5.9" fill="#fb0063"/>
<circle cx="344.0" cy="528.2" r="5.9" fill="#fb0063"/>
<circle cx="345.5" cy="528.2" r="5.9" fill="#fb0063"/>
<circle cx="346.9" cy="528.2" r="5.9" fill="#fb0063"/>
<circle cx="348.4" cy="528.2" r="5.9" fill="#fb0063"/>
<circle cx="349.9" cy="528.2" r="5.9" fill="#fb0063"/>
<circle cx="351.4" cy="528.2" r="5.9" fill="#0084f9"/>
<circle cx="352.8" cy="528.2" r="5.9" fill="#0084f9"/>
<circle cx="354.3" cy="528.2" r="5.9" fill="#0084f9"/>
<circle cx="355.8" cy="528.2" r="5.9" fill="#0084f9"/>
<circle cx="357.2" cy="528.2" r="5.9" fill="#0084f9"/>
<circle cx="358.7" cy="528.2" r="5.9" fill="#0084f9"/>
<circle cx="360.2" cy="528.2" r="5.9" fill="#0084f9"/>
<circle cx="361.6" cy="528.2" r="5.9" fill="#fb0063"/>
<circle cx="383.6" cy="528.2" r="5.9" fill="#c0009c"/>
<circle cx="382.1" cy="528.2" r="5.9" fill="#c0009c"/>
<circle cx="380.7" cy="528.2" r="5.9" fill="#c0009c"/>
<circle cx="379.2" cy="528.2" r="5.9" fill="#c0009c"/>
<circle cx="377.7" cy="528.2" r="5.9" fill="#007ff7"/>
<circle cx="376.3" cy="528.2" r="5.9" fill="#007ff7"/>
<circle cx="374.8" cy="528.2" r="5.9" fill="#007ff7"/>
<circle cx="373.4" cy="528.2" r="5.9" fill="#007ff7"/>
<circle cx="371.9" cy="528.2" r="5.9" fill="#007ff7"/>
<circle cx="370.4" cy="528.2" r="5.9" fill="#007ff7"/>
<circle cx="369.0" cy="528.2" r="5.9" fill="#007ff7"/>
<circle cx="367.5" cy="528.2" r="5.9" fill="#9b23ad"/>
<circle cx="366.0" cy="528.2" r="5.9" fill="#9b23ad"/>
<circle cx="364.6" cy="528.2" r="5.9" fill="#fb0063"/>
<circle cx="363.1" cy="528.2" r="5.9" fill="#fb0063"/>
<circle cx="414.2" cy="528.2" r="5.9" fill="#236cea"/>
<circle cx="472.9" cy="528.2" r="5.9" fill="#6e53d5"/>
<circle cx="320.9" cy="519.7" r="5.9" fill="#c80098"/>
<circle cx="322.4" cy="519.7" r="5.9" fill="#c80098"/>
<circle cx="323.9" cy="519.7" r="5.9" fill="#c80098"/>
<circle cx="325.4" cy="519.7" r="5.9" fill="#c80098"/>
<circle cx="326.9" cy="519.7" r="5.9" fill="#c80098"/>
<circle cx="328.4" cy="519.7" r="5.9" fill="#893dc1"/>
<circle cx="329.9" cy="519.7" r="5.9" fill="#893dc1"/>
<circle cx="331.4" cy="519.7" r="5.9" fill="#893dc1"/>
<circle cx="332.9" cy="519.7" r="5.9" fill="#893dc1"/>
<circle cx="334.4" cy="519.7" r="5.9" fill="#893dc1"/>
<circle cx="335.9" cy="519.7" r="5.9" fill="#893dc1"/>
<circle cx="337.4" cy="519.7" r="5.9" fill="#f90067"/>
<circle cx="338.9" cy="519.7" r="5.9" fill="#f90067"/>
<circle cx="340.4" cy="519.7" r="5.9" fill="#0084f9"/>
<circle cx="341.8" cy="519.7" r="5.9" fill="#0084f9"/>
<circle cx="343.3" cy="519.7" r="5.9" fill="#0084f9"/>
<circle cx="344.8" cy="519.7" r="5.9" fill="#0084f9"/>
<circle cx="346.3" cy="519.7" r="5.9" fill="#0084f9"/>
<circle cx="347.8" cy="519.7" r="5.9" fill="#0084f9"/>
<circle cx="349.3" cy="519.7" r="5.9" fill="#e9007c"/>
<circle cx="350.8" cy="519.7" r="5.9" fill="#e9007c"/>
<circle cx="352.3" cy="519.7" r="5.9" fill="#fb0063"/>
<circle cx="353.8" cy="519.7" r="5.9" fill="#fb0063"/>
<circle cx="355.3" cy="519.7" r="5.9" fill="#fb0063"/>
<circle cx="356.8" cy="519.7" r="5.9" fill="#bb00a0"/>
<circle cx="358.3" cy="519.7" r="5.9" fill="#bb00a0"/>
<circle cx="359.8" cy="519.7" r="5.9" fill="#0084f9"/>
<circle cx="361.3" cy="519.7" r="5.9" fill="#0084f9"/>
<circle cx="362.8" cy="519.7" r="5.9" fill="#0084f9"/>
<circle cx="364.3" cy="519.7" r="5.9" fill="#0084f9"/>
<circle cx="365.8" cy="519.7" r="5.9" fill="#0084f9"/>
<circle cx="367.3" cy="519.7" r="5.9" fill="#0084f9"/>
<circle cx="368.8" cy="519.7" r="5.9" fill="#972bb2"/>
<circle cx="370.3" cy="519.7" r="5.9" fill="#972bb2"/>
<circle cx="371.8" cy="519.7" r="5.9" fill="#972bb2"/>
<circle cx="373.3" cy="519.7" r="5.9" fill="#972bb2"/>
<circle cx="374.8" cy="519.7" r="5.9" fill="#972bb2"/>
<circle cx="376.3" cy="519.7" r="5.9" fill="#754fd1"/>
<circle cx="377.8" cy="519.7" r="5.9" fill="#754fd1"/>
<circle cx="379.3" cy="519.7" r="5.9" fill="#754fd1"/>
<circle cx="380.8" cy="519.7" r="5.9" fill="#754fd1"/>
<circle cx="382.2" cy="519.7" r="5.9" fill="#754fd1"/>
<circle cx="383.7" cy="519.7" r="5.9" fill="#754fd1"/>
<circle cx="385.2" cy="519.7" r="5.9" fill="#754fd1"/>
<circle cx="386.7" cy="519.7" r="5.9" fill="#b508a3"/>
<circle cx="388.2" cy="519.7" r="5.9" fill="#b508a3"/>
<circle cx="389.7" cy="519.7" r="5.9" fill="#b508a3"/>
<circle cx="391.2" cy="519.7" r="5.9" fill="#b508a3"/>
<circle cx="392.7" cy="519.7" r="5.9" fill="#b508a3"/>
<circle cx="394.2" cy="519.7" r="5.9" fill="#b508a3"/>
<circle cx="395.7" cy="519.7" r="5.9" fill="#b508a3"/>
<circle cx="397.2" cy="519.7" r="5.9" fill="#0084f9"/>
<circle cx="398.7" cy="519.7" r="5.9" fill="#0084f9"/>
<circle cx="400.2" cy="519.7" r="5.9" fill="#0084f9"/>
<circle cx="401.7" cy="519.7" r="5.9" fill="#8443c6"/>
<circle cx="403.2" cy="519.7" r="5.9" fill="#8443c6"/>
<circle cx="404.7" cy="519.7" r="5.9" fill="#8443c6"/>
<circle cx="406.2" cy="519.7" r="5.9" fill="#8443c6"/>
<circle cx="407.7" cy="519.7" r="5.9" fill="#8443c6"/>
<circle cx="409.2" cy="519.7" r="5.9" fill="#c0009c"/>
<circle cx="410.7" cy="519.7" r="5.9" fill="#c0009c"/>
<circle cx="412.2" cy="519.7" r="5.9" fill="#c0009c"/>
<circle cx="413.7" cy="519.7" r="5.9" fill="#c0009c"/>
<circle cx="415.2" cy="519.7" r="5.9" fill="#c0009c"/>
<circle cx="416.7" cy="519.7" r="5.9" fill="#c0009c"/>
<circle cx="418.2" cy="519.7" r="5.9" fill="#c0009c"/>
<circle cx="419.7" cy="519.7" r="5.9" fill="#007cf5"/>
<circle cx="421.2" cy="519.7" r="5.9" fill="#007cf5"/>
<circle cx="422.6" cy="519.7" r="5.9" fill="#007cf5"/>
<circle cx="424.1" cy="519.7" r="5.9" fill="#007cf5"/>
<circle cx="425.6" cy="519.7" r="5.9" fill="#007cf5"/>
<circle cx="427.1" cy="519.7" r="5.9" fill="#007cf5"/>
<circle cx="428.6" cy="519.7" r="5.9" fill="#007cf5"/>
<circle cx="430.1" cy="519.7" r="5.9" fill="#754fd1"/>
<circle cx="431.6" cy="519.7" r="5.9" fill="#754fd1"/>
<circle cx="433.1" cy="519.7" r="5.9" fill="#754fd1"/>
<circle cx="434.6" cy="519.7" r="5.9" fill="#754fd1"/>
<circle cx="436.1" cy="519.7" r="5.9" fill="#007cf5"/>
<circle cx="437.6" cy="519.7" r="5.9" fill="#007cf5"/>
<circle cx="439.1" cy="519.7" r="5.9" fill="#007cf5"/>
<circle cx="440.6" cy="519.7" r="5.9" fill="#007cf5"/>
<circle cx="442.1" cy="519.7" r="5.9" fill="#007cf5"/>
<circle cx="443.6" cy="519.7" r="5.9" fill="#9135ba"/>
<circle cx="445.1" cy="519.7" r="5.9" fill="#9135ba"/>
<circle cx="446.6" cy="519.7" r="5.9" fill="#9135ba"/>
<circle cx="448.1" cy="519.7" r="5.9" fill="#4b63e3"/>
<circle cx="449.6" cy="519.7" r="5.9" fill="#4b63e3"/>
<circle cx="451.1" cy="519.7" r="5.9" fill="#4b63e3"/>
<circle cx="452.6" cy="519.7" r="5.9" fill="#4b63e3"/>
<circle cx="454.1" cy="519.7" r="5.9" fill="#4b63e3"/>
<circle cx="455.6" cy="519.7" r="5.9" fill="#4b63e3"/>
<circle cx="457.1" cy="519.7" r="5.9" fill="#893dc1"/>
<circle cx="458.6" cy="519.7" r="5.9" fill="#893dc1"/>
<circle cx="460.1" cy="519.7" r="5.9" fill="#893dc1"/>
<circle cx="461.6" cy="519.7" r="5.9" fill="#893dc1"/>
<circle cx="463.0" cy="519.7" r="5.9" fill="#c80098"/>
<circle cx="464.5" cy="519.7" r="5.9" fill="#c80098"/>
<circle cx="466.0" cy="519.7" r="5.9" fill="#c80098"/>
<circle cx="467.5" cy="519.7" r="5.9" fill="#c80098"/>
<circle cx="469.0" cy="519.7" r="5.9" fill="#c80098"/>
<circle cx="470.5" cy="519.7" r="5.9" fill="#ab15a7"/>
<circle cx="472.0" cy="519.7" r="5.9" fill="#ab15a7"/>
<circle cx="473.5" cy="519.7" r="5.9" fill="#ab15a7"/>
<circle cx="475.0" cy="519.7" r="5.9" fill="#ab15a7"/>
<circle cx="476.5" cy="519.7" r="5.9" fill="#ab15a7"/>
<circle cx="478.0" cy="519.7" r="5.9" fill="#ab15a7"/>
<circle cx="479.5" cy="519.7" r="5.9" fill="#f20072"/>
<circle cx="481.0" cy="519.7" r="5.9" fill="#f20072"/>
<circle cx="482.5" cy="519.7" r="5.9" fill="#893dc1"/>
<circle cx="497.4" cy="519.7" r="5.9" fill="#893dc1"/>
<circle cx="663.6" cy="444.4" r="5.9" fill="#6a55d7"/>
<circle cx="663.5" cy="453.8" r="5.9" fill="#9135ba"/>
<circle cx="663.3" cy="463.2" r="5.9" fill="#6359da"/>
<circle cx="662.4" cy="472.7" r="5.9" fill="#007cf5"/>
<circle cx="662.9" cy="472.7" r="5.9" fill="#007cf5"/>
<circle cx="662.6" cy="472.7" r="5.9" fill="#007cf5"/>
<circle cx="680.2" cy="472.7" r="5.9" fill="#0086fa"/>
<circle cx="661.4" cy="482.1" r="5.9" fill="#893dc1"/>
<circle cx="662.8" cy="482.1" r="5.9" fill="#893dc1"/>
<circle cx="664.2" cy="482.1" r="5.9" fill="#893dc1"/>
<circle cx="665.6" cy="482.1" r="5.9" fill="#893dc1"/>
<circle cx="667.0" cy="482.1" r="5.9" fill="#893dc1"/>
<circle cx="668.4" cy="482.1" r="5.9" fill="#893dc1"/>
<circle cx="669.8" cy="482.1" r="5.9" fill="#893dc1"/>
<circle cx="671.2" cy="482.1" r="5.9" fill="#0086fa"/>
<circle cx="672.6" cy="482.1" r="5.9" fill="#0086fa"/>
<circle cx="674.0" cy="482.1" r="5.9" fill="#0086fa"/>
<circle cx="675.4" cy="482.1" r="5.9" fill="#0086fa"/>
<circle cx="676.8" cy="482.1" r="5.9" fill="#0086fa"/>
<circle cx="678.2" cy="482.1" r="5.9" fill="#0086fa"/>
<circle cx="679.6" cy="482.1" r="5.9" fill="#b508a3"/>
<circle cx="661.7" cy="491.5" r="5.9" fill="#6e53d5"/>
<circle cx="663.1" cy="491.5" r="5.9" fill="#6e53d5"/>
<circle cx="664.5" cy="491.5" r="5.9" fill="#6e53d5"/>
<circle cx="665.9" cy="491.5" r="5.9" fill="#6e53d5"/>
<circle cx="667.3" cy="491.5" r="5.9" fill="#6e53d5"/>
<circle cx="668.8" cy="491.5" r="5.9" fill="#6e53d5"/>
<circle cx="670.2" cy="491.5" r="5.9" fill="#0086fa"/>
<circle cx="671.6" cy="491.5" r="5.9" fill="#0086fa"/>
<circle cx="673.0" cy="491.5" r="5.9" fill="#0086fa"/>
<circle cx="674.4" cy="491.5" r="5.9" fill="#0086fa"/>
<circle cx="675.8" cy="491.5" r="5.9" fill="#0086fa"/>
<circle cx="677.2" cy="491.5" r="5.9" fill="#0086fa"/>
<circle cx="678.6" cy="491.5" r="5.9" fill="#0086fa"/>
<circle cx="680.3" cy="491.5" r="5.9" fill="#a21eaa"/>
<circle cx="680.0" cy="491.5" r="5.9" fill="#a21eaa"/>
<circle cx="659.4" cy="500.9" r="5.9" fill="#8443c6"/>
<circle cx="660.9" cy="500.9" r="5.9" fill="#8443c6"/>
<circle cx="662.4" cy="500.9" r="5.9" fill="#8443c6"/>
<circle cx="663.9" cy="500.9" r="5.9" fill="#0086fa"/>
<circle cx="665.3" cy="500.9" r="5.9" fill="#0086fa"/>
<circle cx="666.8" cy="500.9" r="5.9" fill="#0086fa"/>
<circle cx="668.3" cy="500.9" r="5.9" fill="#0086fa"/>
<circle cx="669.8" cy="500.9" r="5.9" fill="#0086fa"/>
<circle cx="671.3" cy="500.9" r="5.9" fill="#3769e8"/>
<circle cx="672.8" cy="500.9" r="5.9" fill="#3769e8"/>
<circle cx="674.2" cy="500.9" r="5.9" fill="#3769e8"/>
<circle cx="675.7" cy="500.9" r="5.9" fill="#3769e8"/>
<circle cx="677.2" cy="500.9" r="5.9" fill="#3769e8"/>
<circle cx="687.1" cy="500.9" r="5.9" fill="#fb0063"/>
<circle cx="685.7" cy="500.9" r="5.9" fill="#fb0063"/>
<circle cx="684.3" cy="500.9" r="5.9" fill="#fb0063"/>
<circle cx="682.9" cy="500.9" r="5.9" fill="#fb0063"/>
<circle cx="681.5" cy="500.9" r="5.9" fill="#fb0063"/>
<circle cx="680.1" cy="500.9" r="5.9" fill="#fb0063"/>
<circle cx="678.7" cy="500.9" r="5.9" fill="#c80098"/>
<circle cx="657.3" cy="510.3" r="5.9" fill="#7e48ca"/>
<circle cx="658.7" cy="510.3" r="5.9" fill="#7e48ca"/>
<circle cx="660.2" cy="510.3" r="5.9" fill="#7e48ca"/>
<circle cx="661.6" cy="510.3" r="5.9" fill="#7e48ca"/>
<circle cx="663.1" cy="510.3" r="5.9" fill="#7e48ca"/>
<circle cx="664.5" cy="510.3" r="5.9" fill="#7e48ca"/>
<circle cx="666.0" cy="510.3" r="5.9" fill="#7e48ca"/>
<circle cx="667.4" cy="510.3" r="5.9" fill="#9b23ad"/>
<circle cx="668.8" cy="510.3" r="5.9" fill="#9b23ad"/>
<circle cx="670.3" cy="510.3" r="5.9" fill="#9b23ad"/>
<circle cx="671.7" cy="510.3" r="5.9" fill="#9b23ad"/>
<circle cx="673.2" cy="510.3" r="5.9" fill="#9b23ad"/>
<circle cx="674.6" cy="510.3" r="5.9" fill="#9b23ad"/>
<circle cx="676.1" cy="510.3" r="5.9" fill="#9b23ad"/>
<circle cx="677.5" cy="510.3" r="5.9" fill="#bb00a0"/>
<circle cx="678.9" cy="510.3" r="5.9" fill="#bb00a0"/>
<circle cx="680.4" cy="510.3" r="5.9" fill="#bb00a0"/>
<circle cx="681.8" cy="510.3" r="5.9" fill="#bb00a0"/>
<circle cx="683.3" cy="510.3" r="5.9" fill="#bb00a0"/>
<circle cx="684.7" cy="510.3" r="5.9" fill="#bb00a0"/>
<circle cx="696.0" cy="510.3" r="5.9" fill="#fb0063"/>
<circle cx="694.6" cy="510.3" r="5.9" fill="#fb0063"/>
<circle cx="693.2" cy="510.3" r="5.9" fill="#fb0063"/>
<circle cx="691.8" cy="510.3" r="5.9" fill="#fb0063"/>
<circle cx="690.4" cy="510.3" r="5.9" fill="#fb0063"/>
<circle cx="689.0" cy="510.3" r="5.9" fill="#fb0063"/>
<circle cx="687.6" cy="510.3" r="5.9" fill="#fb0063"/>
<circle cx="686.1" cy="510.3" r="5.9" fill="#972bb2"/>
<circle cx="663.0" cy="585.6" r="5.9" fill="#236cea"/>
<circle cx="663.0" cy="576.2" r="5.9" fill="#007cf5"/>
<circle cx="663.0" cy="566.8" r="5.9" fill="#007cf5"/>
<circle cx="663.4" cy="557.3" r="5.9" fill="#007cf5"/>
<circle cx="664.9" cy="557.3" r="5.9" fill="#007cf5"/>
<circle cx="666.3" cy="557.3" r="5.9" fill="#007cf5"/>
<circle cx="667.8" cy="557.3" r="5.9" fill="#007cf5"/>
<circle cx="669.3" cy="557.3" r="5.9" fill="#007cf5"/>
<circle cx="670.8" cy="557.3" r="5.9" fill="#007cf5"/>
<circle cx="672.2" cy="557.3" r="5.9" fill="#007cf5"/>
<circle cx="673.7" cy="557.3" r="5.9" fill="#3769e8"/>
<circle cx="675.2" cy="557.3" r="5.9" fill="#3769e8"/>
<circle cx="676.7" cy="557.3" r="5.9" fill="#3769e8"/>
<circle cx="678.1" cy="557.3" r="5.9" fill="#3769e8"/>
<circle cx="679.6" cy="557.3" r="5.9" fill="#d00093"/>
<circle cx="661.7" cy="547.9" r="5.9" fill="#0074f0"/>
<circle cx="663.2" cy="547.9" r="5.9" fill="#0074f0"/>
<circle cx="664.7" cy="547.9" r="5.9" fill="#0074f0"/>
<circle cx="666.2" cy="547.9" r="5.9" fill="#0074f0"/>
<circle cx="667.7" cy="547.9" r="5.9" fill="#0074f0"/>
<circle cx="669.2" cy="547.9" r="5.9" fill="#6359da"/>
<circle cx="670.6" cy="547.9" r="5.9" fill="#6359da"/>
<circle cx="672.1" cy="547.9" r="5.9" fill="#6359da"/>
<circle cx="673.6" cy="547.9" r="5.9" fill="#6359da"/>
<circle cx="675.1" cy="547.9" r="5.9" fill="#6359da"/>
<circle cx="676.6" cy="547.9" r="5.9" fill="#6359da"/>
<circle cx="678.1" cy="547.9" r="5.9" fill="#6359da"/>
<circle cx="679.6" cy="547.9" r="5.9" fill="#ab15a7"/>
<circle cx="659.4" cy="538.5" r="5.9" fill="#0084f9"/>
<circle cx="660.9" cy="538.5" r="5.9" fill="#0084f9"/>
<circle cx="662.4" cy="538.5" r="5.9" fill="#0084f9"/>
<circle cx="663.9" cy="538.5" r="5.9" fill="#893dc1"/>
<circle cx="682.3" cy="538.5" r="5.9" fill="#f90067"/>
<circle cx="680.9" cy="538.5" r="5.9" fill="#f90067"/>
<circle cx="679.5" cy="538.5" r="5.9" fill="#bb00a0"/>
<circle cx="678.1" cy="538.5" r="5.9" fill="#bb00a0"/>
<circle cx="676.6" cy="538.5" r="5.9" fill="#bb00a0"/>
<circle cx="675.2" cy="538.5" r="5.9" fill="#bb00a0"/>
<circle cx="673.8" cy="538.5" r="5.9" fill="#bb00a0"/>
<circle cx="672.4" cy="538.5" r="5.9" fill="#bb00a0"/>
<circle cx="671.0" cy="538.5" r="5.9" fill="#bb00a0"/>
<circle cx="669.6" cy="538.5" r="5.9" fill="#bb00a0"/>
<circle cx="668.2" cy="538.5" r="5.9" fill="#bb00a0"/>
<circle cx="666.8" cy="538.5" r="5.9" fill="#893dc1"/>
<circle cx="665.4" cy="538.5" r="5.9" fill="#893dc1"/>
<circle cx="660.0" cy="529.1" r="5.9" fill="#5a5dde"/>
<circle cx="661.5" cy="529.1" r="5.9" fill="#5a5dde"/>
<circle cx="662.9" cy="529.1" r="5.9" fill="#5a5dde"/>
<circle cx="664.4" cy="529.1" r="5.9" fill="#5a5dde"/>
<circle cx="665.9" cy="529.1" r="5.9" fill="#5a5dde"/>
<circle cx="667.4" cy="529.1" r="5.9" fill="#5a5dde"/>
<circle cx="668.8" cy="529.1" r="5.9" fill="#5a5dde"/>
<circle cx="670.3" cy="529.1" r="5.9" fill="#5a5dde"/>
<circle cx="671.8" cy="529.1" r="5.9" fill="#5a5dde"/>
<circle cx="673.3" cy="529.1" r="5.9" fill="#5a5dde"/>
<circle cx="674.7" cy="529.1" r="5.9" fill="#0086fa"/>
<circle cx="676.2" cy="529.1" r="5.9" fill="#0086fa"/>
<circle cx="677.7" cy="529.1" r="5.9" fill="#0086fa"/>
<circle cx="679.2" cy="529.1" r="5.9" fill="#0086fa"/>
<circle cx="680.6" cy="529.1" r="5.9" fill="#c0009c"/>
<circle cx="692.9" cy="529.1" r="5.9" fill="#fb0063"/>
<circle cx="691.5" cy="529.1" r="5.9" fill="#fb0063"/>
<circle cx="690.2" cy="529.1" r="5.9" fill="#fb0063"/>
<circle cx="688.9" cy="529.1" r="5.9" fill="#fb0063"/>
<circle cx="687.5" cy="529.1" r="5.9" fill="#fb0063"/>
<circle cx="686.1" cy="529.1" r="5.9" fill="#fb0063"/>
<circle cx="684.8" cy="529.1" r="5.9" fill="#fb0063"/>
<circle cx="683.5" cy="529.1" r="5.9" fill="#c0009c"/>
<circle cx="682.1" cy="529.1" r="5.9" fill="#c0009c"/>
<circle cx="649.8" cy="519.7" r="5.9" fill="#236cea"/>
<circle cx="651.3" cy="519.7" r="5.9" fill="#236cea"/>
<circle cx="652.7" cy="519.7" r="5.9" fill="#9135ba"/>
<circle cx="654.2" cy="519.7" r="5.9" fill="#9135ba"/>
<circle cx="655.6" cy="519.7" r="5.9" fill="#9135ba"/>
<circle cx="657.1" cy="519.7" r="5.9" fill="#9135ba"/>
<circle cx="658.6" cy="519.7" r="5.9" fill="#9135ba"/>
<circle cx="660.0" cy="519.7" r="5.9" fill="#9135ba"/>
<circle cx="661.5" cy="519.7" r="5.9" fill="#9135ba"/>
<circle cx="663.0" cy="519.7" r="5.9" fill="#9135ba"/>
<circle cx="664.4" cy="519.7" r="5.9" fill="#0079f3"/>
<circle cx="665.9" cy="519.7" r="5.9" fill="#0079f3"/>
<circle cx="667.3" cy="519.7" r="5.9" fill="#0079f3"/>
<circle cx="668.8" cy="519.7" r="5.9" fill="#0079f3"/>
<circle cx="670.3" cy="519.7" r="5.9" fill="#0079f3"/>
<circle cx="671.7" cy="519.7" r="5.9" fill="#0079f3"/>
<circle cx="673.2" cy="519.7" r="5.9" fill="#0079f3"/>
<circle cx="674.6" cy="519.7" r="5.9" fill="#0079f3"/>
<circle cx="676.1" cy="519.7" r="5.9" fill="#3769e8"/>
<circle cx="677.6" cy="519.7" r="5.9" fill="#3769e8"/>
<circle cx="679.0" cy="519.7" r="5.9" fill="#3769e8"/>
<circle cx="680.5" cy="519.7" r="5.9" fill="#3769e8"/>
<circle cx="682.0" cy="519.7" r="5.9" fill="#3769e8"/>
<circle cx="683.4" cy="519.7" r="5.9" fill="#c80098"/>
<circle cx="684.9" cy="519.7" r="5.9" fill="#c80098"/>
<circle cx="686.3" cy="519.7" r="5.9" fill="#c80098"/>
<circle cx="687.8" cy="519.7" r="5.9" fill="#c80098"/>
<circle cx="689.3" cy="519.7" r="5.9" fill="#c80098"/>
<circle cx="690.7" cy="519.7" r="5.9" fill="#c80098"/>
<circle cx="692.2" cy="519.7" r="5.9" fill="#c80098"/>
<circle cx="706.9" cy="519.7" r="5.9" fill="#fb0063"/>
<circle cx="705.4" cy="519.7" r="5.9" fill="#fb0063"/>
<circle cx="704.0" cy="519.7" r="5.9" fill="#fb0063"/>
<circle cx="702.5" cy="519.7" r="5.9" fill="#fb0063"/>
<circle cx="701.0" cy="519.7" r="5.9" fill="#fb0063"/>
<circle cx="699.5" cy="519.7" r="5.9" fill="#fb0063"/>
<circle cx="698.1" cy="519.7" r="5.9" fill="#fb0063"/>
<circle cx="696.6" cy="519.7" r="5.9" fill="#e00086"/>
<circle cx="695.1" cy="519.7" r="5.9" fill="#e00086"/>
<circle cx="693.6" cy="519.7" r="5.9" fill="#9b23ad"/>
<circle cx="977.2" cy="481.8" r="5.9" fill="#0084f9"/>
<circle cx="977.2" cy="483.8" r="5.9" fill="#0084f9"/>
<circle cx="977.2" cy="485.8" r="5.9" fill="#0084f9"/>
<circle cx="977.2" cy="487.8" r="5.9" fill="#0084f9"/>
<circle cx="977.2" cy="489.7" r="5.9" fill="#0084f9"/>
<circle cx="977.2" cy="491.7" r="5.9" fill="#0084f9"/>
<circle cx="977.2" cy="493.7" r="5.9" fill="#0084f9"/>
<circle cx="977.2" cy="495.7" r="5.9" fill="#7e48ca"/>
<circle cx="977.2" cy="497.7" r="5.9" fill="#7e48ca"/>
<circle cx="977.2" cy="499.7" r="5.9" fill="#7e48ca"/>
<circle cx="977.2" cy="501.7" r="5.9" fill="#7e48ca"/>
<circle cx="977.2" cy="503.6" r="5.9" fill="#7e48ca"/>
<circle cx="977.2" cy="505.6" r="5.9" fill="#7e48ca"/>
<circle cx="977.2" cy="507.6" r="5.9" fill="#7e48ca"/>
<circle cx="977.2" cy="509.6" r="5.9" fill="#9135ba"/>
<circle cx="977.2" cy="511.6" r="5.9" fill="#9135ba"/>
<circle cx="977.2" cy="513.6" r="5.9" fill="#9135ba"/>
<circle cx="977.2" cy="515.6" r="5.9" fill="#9135ba"/>
<circle cx="977.2" cy="550.7" r="5.9" fill="#893dc1"/>
<circle cx="977.2" cy="548.8" r="5.9" fill="#893dc1"/>
<circle cx="977.2" cy="546.8" r="5.9" fill="#893dc1"/>
<circle cx="977.2" cy="544.9" r="5.9" fill="#893dc1"/>
<circle cx="977.2" cy="542.9" r="5.9" fill="#893dc1"/>
<circle cx="977.2" cy="541.0" r="5.9" fill="#893dc1"/>
<circle cx="977.2" cy="539.0" r="5.9" fill="#893dc1"/>
<circle cx="977.2" cy="537.1" r="5.9" fill="#893dc1"/>
<circle cx="977.2" cy="535.1" r="5.9" fill="#893dc1"/>
<circle cx="977.2" cy="533.2" r="5.9" fill="#893dc1"/>
<circle cx="977.2" cy="531.2" r="5.9" fill="#893dc1"/>
<circle cx="977.2" cy="529.2" r="5.9" fill="#893dc1"/>
<circle cx="977.2" cy="527.3" r="5.9" fill="#893dc1"/>
<circle cx="977.2" cy="525.4" r="5.9" fill="#9135ba"/>
<circle cx="977.2" cy="523.4" r="5.9" fill="#9135ba"/>
<circle cx="977.2" cy="521.5" r="5.9" fill="#9135ba"/>
<circle cx="977.2" cy="519.5" r="5.9" fill="#9135ba"/>
<circle cx="977.2" cy="517.6" r="5.9" fill="#9135ba"/>
<circle cx="967.2" cy="441.6" r="5.9" fill="#0084f9"/>
<circle cx="967.2" cy="443.6" r="5.9" fill="#0084f9"/>
<circle cx="967.2" cy="445.6" r="5.9" fill="#0084f9"/>
<circle cx="967.2" cy="447.5" r="5.9" fill="#0084f9"/>
<circle cx="967.2" cy="449.5" r="5.9" fill="#0084f9"/>
<circle cx="967.2" cy="451.5" r="5.9" fill="#0084f9"/>
<circle cx="967.2" cy="453.5" r="5.9" fill="#0084f9"/>
<circle cx="967.2" cy="455.4" r="5.9" fill="#bb00a0"/>
<circle cx="967.2" cy="457.4" r="5.9" fill="#bb00a0"/>
<circle cx="967.2" cy="459.4" r="5.9" fill="#bb00a0"/>
<circle cx="967.2" cy="461.4" r="5.9" fill="#bb00a0"/>
<circle cx="967.2" cy="463.4" r="5.9" fill="#bb00a0"/>
<circle cx="967.2" cy="465.3" r="5.9" fill="#bb00a0"/>
<circle cx="967.2" cy="467.3" r="5.9" fill="#bb00a0"/>
<circle cx="967.2" cy="469.3" r="5.9" fill="#bb00a0"/>
<circle cx="967.2" cy="471.3" r="5.9" fill="#754fd1"/>
<circle cx="967.2" cy="473.2" r="5.9" fill="#754fd1"/>
<circle cx="967.2" cy="475.2" r="5.9" fill="#9b23ad"/>
<circle cx="967.2" cy="477.2" r="5.9" fill="#9b23ad"/>
<circle cx="967.2" cy="479.2" r="5.9" fill="#9b23ad"/>
<circle cx="967.2" cy="481.2" r="5.9" fill="#9b23ad"/>
<circle cx="967.2" cy="483.1" r="5.9" fill="#9b23ad"/>
<circle cx="967.2" cy="485.1" r="5.9" fill="#8443c6"/>
<circle cx="967.2" cy="487.1" r="5.9" fill="#8443c6"/>
<circle cx="967.2" cy="489.1" r="5.9" fill="#8443c6"/>
<circle cx="967.2" cy="491.1" r="5.9" fill="#8443c6"/>
<circle cx="967.2" cy="493.0" r="5.9" fill="#8443c6"/>
<circle cx="967.2" cy="495.0" r="5.9" fill="#8443c6"/>
<circle cx="967.2" cy="497.0" r="5.9" fill="#8443c6"/>
<circle cx="967.2" cy="499.0" r="5.9" fill="#8443c6"/>
<circle cx="967.2" cy="500.9" r="5.9" fill="#e9007c"/>
<circle cx="967.2" cy="502.9" r="5.9" fill="#e9007c"/>
<circle cx="967.2" cy="504.9" r="5.9" fill="#e9007c"/>
<circle cx="967.2" cy="506.9" r="5.9" fill="#e9007c"/>
<circle cx="967.2" cy="508.9" r="5.9" fill="#8443c6"/>
<circle cx="967.2" cy="510.8" r="5.9" fill="#8443c6"/>
<circle cx="967.2" cy="512.8" r="5.9" fill="#8443c6"/>
<circle cx="967.2" cy="514.8" r="5.9" fill="#8443c6"/>
<circle cx="967.2" cy="516.8" r="5.9" fill="#8443c6"/>
<circle cx="967.2" cy="518.7" r="5.9" fill="#8443c6"/>
<circle cx="967.2" cy="520.7" r="5.9" fill="#8443c6"/>
<circle cx="967.2" cy="590.2" r="5.9" fill="#7e48ca"/>
<circle cx="967.2" cy="588.2" r="5.9" fill="#7e48ca"/>
<circle cx="967.2" cy="586.2" r="5.9" fill="#7e48ca"/>
<circle cx="967.2" cy="584.2" r="5.9" fill="#7e48ca"/>
<circle cx="967.2" cy="582.3" r="5.9" fill="#7e48ca"/>
<circle cx="967.2" cy="580.3" r="5.9" fill="#7e48ca"/>
<circle cx="967.2" cy="578.3" r="5.9" fill="#0084f9"/>
<circle cx="967.2" cy="576.3" r="5.9" fill="#0084f9"/>
<circle cx="967.2" cy="574.3" r="5.9" fill="#0084f9"/>
<circle cx="967.2" cy="572.3" r="5.9" fill="#754fd1"/>
<circle cx="967.2" cy="570.3" r="5.9" fill="#754fd1"/>
<circle cx="967.2" cy="568.4" r="5.9" fill="#754fd1"/>
<circle cx="967.2" cy="566.4" r="5.9" fill="#754fd1"/>
<circle cx="967.2" cy="564.4" r="5.9" fill="#0084f9"/>
<circle cx="967.2" cy="562.4" r="5.9" fill="#0084f9"/>
<circle cx="967.2" cy="560.4" r="5.9" fill="#0084f9"/>
<circle cx="967.2" cy="558.4" r="5.9" fill="#0084f9"/>
<circle cx="967.2" cy="556.5" r="5.9" fill="#0084f9"/>
<circle cx="967.2" cy="554.5" r="5.9" fill="#0084f9"/>
<circle cx="967.2" cy="552.5" r="5.9" fill="#0084f9"/>
<circle cx="967.2" cy="550.5" r="5.9" fill="#0084f9"/>
<circle cx="967.2" cy="548.5" r="5.9" fill="#0084f9"/>
<circle cx="967.2" cy="546.5" r="5.9" fill="#4b63e3"/>
<circle cx="967.2" cy="544.5" r="5.9" fill="#4b63e3"/>
<circle cx="967.2" cy="542.6" r="5.9" fill="#4b63e3"/>
<circle cx="967.2" cy="540.6" r="5.9" fill="#4b63e3"/>
<circle cx="967.2" cy="538.6" r="5.9" fill="#4b63e3"/>
<circle cx="967.2" cy="536.6" r="5.9" fill="#8443c6"/>
<circle cx="967.2" cy="534.6" r="5.9" fill="#8443c6"/>
<circle cx="967.2" cy="532.6" r="5.9" fill="#8443c6"/>
<circle cx="967.2" cy="530.6" r="5.9" fill="#8443c6"/>
<circle cx="967.2" cy="528.7" r="5.9" fill="#8443c6"/>
<circle cx="967.2" cy="526.7" r="5.9" fill="#8443c6"/>
<circle cx="967.2" cy="524.7" r="5.9" fill="#8443c6"/>
<circle cx="967.2" cy="522.7" r="5.9" fill="#8443c6"/>
<circle cx="966.6" cy="489.5" r="5.9" fill="#7e48ca"/>
<circle cx="976.8" cy="489.5" r="5.9" fill="#0084f9"/>
<circle cx="975.4" cy="489.5" r="5.9" fill="#0084f9"/>
<circle cx="974.1" cy="489.5" r="5.9" fill="#0084f9"/>
<circle cx="972.7" cy="489.5" r="5.9" fill="#0084f9"/>
<circle cx="971.4" cy="489.5" r="5.9" fill="#0084f9"/>
<circle cx="970.0" cy="489.5" r="5.9" fill="#0084f9"/>
<circle cx="968.7" cy="489.5" r="5.9" fill="#0084f9"/>
<circle cx="967.3" cy="489.5" r="5.9" fill="#7e48ca"/>
<circle cx="966.6" cy="495.5" r="5.9" fill="#754fd1"/>
<circle cx="967.9" cy="495.5" r="5.9" fill="#754fd1"/>
<circle cx="969.2" cy="495.5" r="5.9" fill="#754fd1"/>
<circle cx="970.4" cy="495.5" r="5.9" fill="#754fd1"/>
<circle cx="976.8" cy="495.5" r="5.9" fill="#754fd1"/>
<circle cx="975.5" cy="495.5" r="5.9" fill="#754fd1"/>
<circle cx="974.2" cy="495.5" r="5.9" fill="#754fd1"/>
<circle cx="973.0" cy="495.5" r="5.9" fill="#754fd1"/>
<circle cx="971.7" cy="495.5" r="5.9" fill="#754fd1"/>
<circle cx="964.6" cy="501.6" r="5.9" fill="#e9007c"/>
<circle cx="977.8" cy="501.6" r="5.9" fill="#8443c6"/>
<circle cx="976.4" cy="501.6" r="5.9" fill="#8443c6"/>
<circle cx="975.0" cy="501.6" r="5.9" fill="#8443c6"/>
<circle cx="973.6" cy="501.6" r="5.9" fill="#8443c6"/>
<circle cx="972.2" cy="501.6" r="5.9" fill="#8443c6"/>
<circle cx="970.9" cy="501.6" r="5.9" fill="#8443c6"/>
<circle cx="969.5" cy="501.6" r="5.9" fill="#8443c6"/>
<circle cx="968.1" cy="501.6" r="5.9" fill="#8443c6"/>
<circle cx="966.7" cy="501.6" r="5.9" fill="#8443c6"/>
<circle cx="965.3" cy="501.6" r="5.9" fill="#e9007c"/>
<circle cx="965.6" cy="507.6" r="5.9" fill="#754fd1"/>
<circle cx="967.0" cy="507.6" r="5.9" fill="#754fd1"/>
<circle cx="968.4" cy="507.6" r="5.9" fill="#754fd1"/>
<circle cx="969.8" cy="507.6" r="5.9" fill="#754fd1"/>
<circle cx="971.2" cy="507.6" r="5.9" fill="#754fd1"/>
<circle cx="972.5" cy="507.6" r="5.9" fill="#754fd1"/>
<circle cx="973.9" cy="507.6" r="5.9" fill="#754fd1"/>
<circle cx="975.3" cy="507.6" r="5.9" fill="#754fd1"/>
<circle cx="977.8" cy="507.6" r="5.9" fill="#8443c6"/>
<circle cx="976.7" cy="507.6" r="5.9" fill="#8443c6"/>
<circle cx="987.8" cy="513.7" r="5.9" fill="#ab15a7"/>
<circle cx="986.3" cy="513.7" r="5.9" fill="#ab15a7"/>
<circle cx="984.8" cy="513.7" r="5.9" fill="#ab15a7"/>
<circle cx="983.4" cy="513.7" r="5.9" fill="#ab15a7"/>
<circle cx="981.9" cy="513.7" r="5.9" fill="#ab15a7"/>
<circle cx="980.4" cy="513.7" r="5.9" fill="#ab15a7"/>
<circle cx="978.9" cy="513.7" r="5.9" fill="#ab15a7"/>
<circle cx="977.4" cy="513.7" r="5.9" fill="#9135ba"/>
<circle cx="975.9" cy="513.7" r="5.9" fill="#9135ba"/>
<circle cx="974.5" cy="513.7" r="5.9" fill="#9135ba"/>
<circle cx="973.0" cy="513.7" r="5.9" fill="#9135ba"/>
<circle cx="971.5" cy="513.7" r="5.9" fill="#9135ba"/>
<circle cx="970.0" cy="513.7" r="5.9" fill="#9135ba"/>
<circle cx="968.5" cy="513.7" r="5.9" fill="#9135ba"/>
<circle cx="967.1" cy="513.7" r="5.9" fill="#f90067"/>
<circle cx="965.6" cy="513.7" r="5.9" fill="#f90067"/>
<circle cx="964.1" cy="513.7" r="5.9" fill="#f90067"/>
<circle cx="962.6" cy="513.7" r="5.9" fill="#5a5dde"/>
<circle cx="961.1" cy="513.7" r="5.9" fill="#5a5dde"/>
<circle cx="959.6" cy="513.7" r="5.9" fill="#5a5dde"/>
<circle cx="958.2" cy="513.7" r="5.9" fill="#5a5dde"/>
<circle cx="956.7" cy="513.7" r="5.9" fill="#5a5dde"/>
<circle cx="955.2" cy="513.7" r="5.9" fill="#893dc1"/>
<circle cx="966.6" cy="543.9" r="5.9" fill="#6359da"/>
<circle cx="976.8" cy="543.9" r="5.9" fill="#007cf5"/>
<circle cx="975.4" cy="543.9" r="5.9" fill="#007cf5"/>
<circle cx="973.9" cy="543.9" r="5.9" fill="#007cf5"/>
<circle cx="972.5" cy="543.9" r="5.9" fill="#007cf5"/>
<circle cx="971.0" cy="543.9" r="5.9" fill="#007cf5"/>
<circle cx="969.6" cy="543.9" r="5.9" fill="#007cf5"/>
<circle cx="968.1" cy="543.9" r="5.9" fill="#007cf5"/>
<circle cx="966.7" cy="543.9" r="5.9" fill="#6359da"/>
<circle cx="965.6" cy="537.9" r="5.9" fill="#9b23ad"/>
<circle cx="967.0" cy="537.9" r="5.9" fill="#9b23ad"/>
<circle cx="968.4" cy="537.9" r="5.9" fill="#9b23ad"/>
<circle cx="969.8" cy="537.9" r="5.9" fill="#9b23ad"/>
<circle cx="976.8" cy="537.9" r="5.9" fill="#9b23ad"/>
<circle cx="975.4" cy="537.9" r="5.9" fill="#9b23ad"/>
<circle cx="974.0" cy="537.9" r="5.9" fill="#9b23ad"/>
<circle cx="972.6" cy="537.9" r="5.9" fill="#9b23ad"/>
<circle cx="971.2" cy="537.9" r="5.9" fill="#9b23ad"/>
<circle cx="965.6" cy="531.8" r="5.9" fill="#bb00a0"/>
<circle cx="967.1" cy="531.8" r="5.9" fill="#bb00a0"/>
<circle cx="968.5" cy="531.8" r="5.9" fill="#bb00a0"/>
<circle cx="977.8" cy="531.8" r="5.9" fill="#e9007c"/>
<circle cx="976.5" cy="531.8" r="5.9" fill="#e9007c"/>
<circle cx="975.2" cy="531.8" r="5.9" fill="#e9007c"/>
<circle cx="973.9" cy="531.8" r="5.9" fill="#bb00a0"/>
<circle cx="972.6" cy="531.8" r="5.9" fill="#bb00a0"/>
<circle cx="971.3" cy="531.8" r="5.9" fill="#bb00a0"/>
<circle cx="970.0" cy="531.8" r="5.9" fill="#bb00a0"/>
<circle cx="964.6" cy="525.8" r="5.9" fill="#4b63e3"/>
<circle cx="966.0" cy="525.8" r="5.9" fill="#4b63e3"/>
<circle cx="967.4" cy="525.8" r="5.9" fill="#4b63e3"/>
<circle cx="968.8" cy="525.8" r="5.9" fill="#bb00a0"/>
<circle cx="977.8" cy="525.8" r="5.9" fill="#0074f0"/>
<circle cx="976.5" cy="525.8" r="5.9" fill="#0074f0"/>
<circle cx="975.3" cy="525.8" r="5.9" fill="#0074f0"/>
<circle cx="974.0" cy="525.8" r="5.9" fill="#0074f0"/>
<circle cx="972.7" cy="525.8" r="5.9" fill="#0074f0"/>
<circle cx="971.5" cy="525.8" r="5.9" fill="#bb00a0"/>
<circle cx="970.2" cy="525.8" r="5.9" fill="#bb00a0"/>
<circle cx="949.3" cy="519.7" r="5.9" fill="#e00086"/>
<circle cx="950.6" cy="519.7" r="5.9" fill="#e00086"/>
<circle cx="990.9" cy="519.7" r="5.9" fill="#f90067"/>
<circle cx="989.5" cy="519.7" r="5.9" fill="#f90067"/>
<circle cx="988.0" cy="519.7" r="5.9" fill="#f90067"/>
<circle cx="986.6" cy="519.7" r="5.9" fill="#f90067"/>
<circle cx="985.1" cy="519.7" r="5.9" fill="#754fd1"/>
<circle cx="983.7" cy="519.7" r="5.9" fill="#754fd1"/>
<circle cx="982.2" cy="519.7" r="5.9" fill="#754fd1"/>
<circle cx="980.8" cy="519.7" r="5.9" fill="#754fd1"/>
<circle cx="979.3" cy="519.7" r="5.9" fill="#754fd1"/>
<circle cx="977.9" cy="519.7" r="5.9" fill="#9135ba"/>
<circle cx="976.4" cy="519.7" r="5.9" fill="#9135ba"/>
<circle cx="975.0" cy="519.7" r="5.9" fill="#9135ba"/>
<circle cx="973.5" cy="519.7" r="5.9" fill="#9135ba"/>
<circle cx="972.1" cy="519.7" r="5.9" fill="#9135ba"/>
<circle cx="970.6" cy="519.7" r="5.9" fill="#9135ba"/>
<circle cx="969.2" cy="519.7" r="5.9" fill="#9135ba"/>
<circle cx="967.7" cy="519.7" r="5.9" fill="#f90067"/>
<circle cx="966.3" cy="519.7" r="5.9" fill="#f90067"/>
<circle cx="964.8" cy="519.7" r="5.9" fill="#f90067"/>
<circle cx="963.4" cy="519.7" r="5.9" fill="#6359da"/>
<circle cx="961.9" cy="519.7" r="5.9" fill="#6359da"/>
<circle cx="960.5" cy="519.7" r="5.9" fill="#6359da"/>
<circle cx="959.0" cy="519.7" r="5.9" fill="#6359da"/>
<circle cx="957.6" cy="519.7" r="5.9" fill="#6359da"/>
<circle cx="956.1" cy="519.7" r="5.9" fill="#6359da"/>
<circle cx="954.7" cy="519.7" r="5.9" fill="#6359da"/>
<circle cx="953.2" cy="519.7" r="5.9" fill="#e00086"/>
<circle cx="951.8" cy="519.7" r="5.9" fill="#e00086"/>
<circle cx="969.7" cy="526.7" r="5.9" fill="#c0009c"/>
<circle cx="976.2" cy="528.7" r="5.9" fill="#bb00a0"/>
<circle cx="970.7" cy="533.2" r="5.9" fill="#c0009c"/>
<circle cx="975.2" cy="535.7" r="5.9" fill="#b508a3"/>
<circle cx="972.2" cy="537.7" r="5.9" fill="#ab15a7"/>
<circle cx="1275.7" cy="447.2" r="5.9" fill="#007ff7"/>
<circle cx="1255.8" cy="459.3" r="5.9" fill="#c80098"/>
<circle cx="1275.7" cy="459.3" r="5.9" fill="#fe005c"/>
<circle cx="1277.3" cy="459.3" r="5.9" fill="#fe005c"/>
<circle cx="1276.5" cy="459.3" r="5.9" fill="#fe005c"/>
<circle cx="1255.8" cy="471.3" r="5.9" fill="#6359da"/>
<circle cx="1275.7" cy="471.3" r="5.9" fill="#fb0063"/>
<circle cx="1276.8" cy="471.3" r="5.9" fill="#fb0063"/>
<circle cx="1278.0" cy="471.3" r="5.9" fill="#fb0063"/>
<circle cx="1279.1" cy="471.3" r="5.9" fill="#ed0078"/>
<circle cx="1256.0" cy="483.4" r="5.9" fill="#9135ba"/>
<circle cx="1257.6" cy="483.4" r="5.9" fill="#9135ba"/>
<circle cx="1256.8" cy="483.4" r="5.9" fill="#9135ba"/>
<circle cx="1274.3" cy="483.4" r="5.9" fill="#007cf5"/>
<circle cx="1275.5" cy="483.4" r="5.9" fill="#007cf5"/>
<circle cx="1276.7" cy="483.4" r="5.9" fill="#007cf5"/>
<circle cx="1277.9" cy="483.4" r="5.9" fill="#9135ba"/>
<circle cx="1280.9" cy="483.4" r="5.9" fill="#9135ba"/>
<circle cx="1280.0" cy="483.4" r="5.9" fill="#9135ba"/>
<circle cx="1279.1" cy="483.4" r="5.9" fill="#9135ba"/>
<circle cx="1252.1" cy="495.5" r="5.9" fill="#fb0063"/>
<circle cx="1253.5" cy="495.5" r="5.9" fill="#fb0063"/>
<circle cx="1254.9" cy="495.5" r="5.9" fill="#fb0063"/>
<circle cx="1256.2" cy="495.5" r="5.9" fill="#fb0063"/>
<circle cx="1257.6" cy="495.5" r="5.9" fill="#9135ba"/>
<circle cx="1274.3" cy="495.5" r="5.9" fill="#0084f9"/>
<circle cx="1275.7" cy="495.5" r="5.9" fill="#0084f9"/>
<circle cx="1277.0" cy="495.5" r="5.9" fill="#0084f9"/>
<circle cx="1278.4" cy="495.5" r="5.9" fill="#0084f9"/>
<circle cx="1279.7" cy="495.5" r="5.9" fill="#0084f9"/>
<circle cx="1281.1" cy="495.5" r="5.9" fill="#0084f9"/>
<circle cx="1283.7" cy="495.5" r="5.9" fill="#236cea"/>
<circle cx="1282.4" cy="495.5" r="5.9" fill="#fb0063"/>
<circle cx="1260.3" cy="507.6" r="5.9" fill="#236cea"/>
<circle cx="1258.9" cy="507.6" r="5.9" fill="#236cea"/>
<circle cx="1257.5" cy="507.6" r="5.9" fill="#236cea"/>
<circle cx="1256.0" cy="507.6" r="5.9" fill="#236cea"/>
<circle cx="1254.6" cy="507.6" r="5.9" fill="#fb0063"/>
<circle cx="1253.2" cy="507.6" r="5.9" fill="#fb0063"/>
<circle cx="1251.8" cy="507.6" r="5.9" fill="#fb0063"/>
<circle cx="1250.3" cy="507.6" r="5.9" fill="#fb0063"/>
<circle cx="1248.9" cy="507.6" r="5.9" fill="#fb0063"/>
<circle cx="1247.5" cy="507.6" r="5.9" fill="#4b63e3"/>
<circle cx="1289.3" cy="507.6" r="5.9" fill="#ab15a7"/>
<circle cx="1287.8" cy="507.6" r="5.9" fill="#ab15a7"/>
<circle cx="1286.3" cy="507.6" r="5.9" fill="#ab15a7"/>
<circle cx="1284.8" cy="507.6" r="5.9" fill="#ab15a7"/>
<circle cx="1283.3" cy="507.6" r="5.9" fill="#ab15a7"/>
<circle cx="1281.8" cy="507.6" r="5.9" fill="#ab15a7"/>
<circle cx="1280.3" cy="507.6" r="5.9" fill="#0084f9"/>
<circle cx="1278.8" cy="507.6" r="5.9" fill="#0084f9"/>
<circle cx="1277.3" cy="507.6" r="5.9" fill="#0084f9"/>
<circle cx="1275.8" cy="507.6" r="5.9" fill="#0084f9"/>
<circle cx="1274.3" cy="507.6" r="5.9" fill="#236cea"/>
<circle cx="1255.8" cy="580.2" r="5.9" fill="#f90067"/>
<circle cx="1275.7" cy="580.2" r="5.9" fill="#893dc1"/>
<circle cx="1256.1" cy="568.1" r="5.9" fill="#f20072"/>
<circle cx="1275.7" cy="568.1" r="5.9" fill="#f20072"/>
<circle cx="1276.5" cy="568.1" r="5.9" fill="#f20072"/>
<circle cx="1277.3" cy="568.1" r="5.9" fill="#006fed"/>
<circle cx="1256.0" cy="556.0" r="5.9" fill="#9b23ad"/>
<circle cx="1257.2" cy="556.0" r="5.9" fill="#9b23ad"/>
<circle cx="1258.3" cy="556.0" r="5.9" fill="#fb0063"/>
<circle cx="1281.2" cy="556.0" r="5.9" fill="#754fd1"/>
<circle cx="1279.8" cy="556.0" r="5.9" fill="#754fd1"/>
<circle cx="1278.5" cy="556.0" r="5.9" fill="#754fd1"/>
<circle cx="1277.1" cy="556.0" r="5.9" fill="#754fd1"/>
<circle cx="1275.7" cy="556.0" r="5.9" fill="#ab15a7"/>
<circle cx="1256.0" cy="543.9" r="5.9" fill="#0074f0"/>
<circle cx="1257.2" cy="543.9" r="5.9" fill="#0074f0"/>
<circle cx="1258.3" cy="543.9" r="5.9" fill="#fb0063"/>
<circle cx="1274.7" cy="543.9" r="5.9" fill="#bb00a0"/>
<circle cx="1276.0" cy="543.9" r="5.9" fill="#bb00a0"/>
<circle cx="1277.3" cy="543.9" r="5.9" fill="#bb00a0"/>
<circle cx="1278.6" cy="543.9" r="5.9" fill="#bb00a0"/>
<circle cx="1279.9" cy="543.9" r="5.9" fill="#bb00a0"/>
<circle cx="1281.2" cy="543.9" r="5.9" fill="#0084f9"/>
<circle cx="1249.6" cy="531.8" r="5.9" fill="#754fd1"/>
<circle cx="1251.0" cy="531.8" r="5.9" fill="#754fd1"/>
<circle cx="1252.4" cy="531.8" r="5.9" fill="#754fd1"/>
<circle cx="1253.7" cy="531.8" r="5.9" fill="#f90067"/>
<circle cx="1255.1" cy="531.8" r="5.9" fill="#f90067"/>
<circle cx="1256.5" cy="531.8" r="5.9" fill="#007cf5"/>
<circle cx="1257.9" cy="531.8" r="5.9" fill="#007cf5"/>
<circle cx="1260.4" cy="531.8" r="5.9" fill="#bb00a0"/>
<circle cx="1259.2" cy="531.8" r="5.9" fill="#bb00a0"/>
<circle cx="1273.8" cy="531.8" r="5.9" fill="#7e48ca"/>
<circle cx="1289.3" cy="531.8" r="5.9" fill="#b508a3"/>
<circle cx="1287.9" cy="531.8" r="5.9" fill="#b508a3"/>
<circle cx="1286.4" cy="531.8" r="5.9" fill="#b508a3"/>
<circle cx="1285.0" cy="531.8" r="5.9" fill="#b508a3"/>
<circle cx="1283.5" cy="531.8" r="5.9" fill="#b508a3"/>
<circle cx="1282.1" cy="531.8" r="5.9" fill="#b508a3"/>
<circle cx="1280.6" cy="531.8" r="5.9" fill="#b508a3"/>
<circle cx="1279.2" cy="531.8" r="5.9" fill="#b508a3"/>
<circle cx="1277.7" cy="531.8" r="5.9" fill="#f90067"/>
<circle cx="1276.3" cy="531.8" r="5.9" fill="#f90067"/>
<circle cx="1274.9" cy="531.8" r="5.9" fill="#7e48ca"/>
<circle cx="1237.6" cy="519.7" r="5.9" fill="#fb0063"/>
<circle cx="1239.0" cy="519.7" r="5.9" fill="#fb0063"/>
<circle cx="1240.4" cy="519.7" r="5.9" fill="#fb0063"/>
<circle cx="1241.7" cy="519.7" r="5.9" fill="#fb0063"/>
<circle cx="1243.1" cy="519.7" r="5.9" fill="#fb0063"/>
<circle cx="1244.5" cy="519.7" r="5.9" fill="#236cea"/>
<circle cx="1245.9" cy="519.7" r="5.9" fill="#236cea"/>
<circle cx="1291.1" cy="519.7" r="5.9" fill="#8443c6"/>
<circle cx="1289.6" cy="519.7" r="5.9" fill="#8443c6"/>
<circle cx="1288.2" cy="519.7" r="5.9" fill="#8443c6"/>
<circle cx="1286.7" cy="519.7" r="5.9" fill="#8443c6"/>
<circle cx="1285.3" cy="519.7" r="5.9" fill="#8443c6"/>
<circle cx="1283.8" cy="519.7" r="5.9" fill="#8443c6"/>
<circle cx="1282.3" cy="519.7" r="5.9" fill="#8443c6"/>
<circle cx="1280.9" cy="519.7" r="5.9" fill="#8443c6"/>
<circle cx="1279.4" cy="519.7" r="5.9" fill="#0084f9"/>
<circle cx="1277.9" cy="519.7" r="5.9" fill="#0084f9"/>
<circle cx="1276.5" cy="519.7" r="5.9" fill="#0074f0"/>
<circle cx="1275.0" cy="519.7" r="5.9" fill="#0074f0"/>
<circle cx="1273.6" cy="519.7" r="5.9" fill="#0074f0"/>
<circle cx="1272.1" cy="519.7" r="5.9" fill="#0074f0"/>
<circle cx="1270.6" cy="519.7" r="5.9" fill="#0074f0"/>
<circle cx="1269.2" cy="519.7" r="5.9" fill="#0074f0"/>
<circle cx="1267.7" cy="519.7" r="5.9" fill="#0074f0"/>
<circle cx="1266.3" cy="519.7" r="5.9" fill="#0074f0"/>
<circle cx="1264.8" cy="519.7" r="5.9" fill="#9135ba"/>
<circle cx="1263.3" cy="519.7" r="5.9" fill="#9135ba"/>
<circle cx="1261.9" cy="519.7" r="5.9" fill="#9135ba"/>
<circle cx="1260.4" cy="519.7" r="5.9" fill="#9135ba"/>
<circle cx="1258.9" cy="519.7" r="5.9" fill="#0084f9"/>
<circle cx="1257.5" cy="519.7" r="5.9" fill="#0084f9"/>
<circle cx="1256.0" cy="519.7" r="5.9" fill="#0084f9"/>
<circle cx="1254.6" cy="519.7" r="5.9" fill="#0084f9"/>
<circle cx="1253.1" cy="519.7" r="5.9" fill="#0084f9"/>
<circle cx="1251.6" cy="519.7" r="5.9" fill="#0084f9"/>
<circle cx="1250.2" cy="519.7" r="5.9" fill="#0084f9"/>
<circle cx="1248.7" cy="519.7" r="5.9" fill="#f90067"/>
<circle cx="1247.2" cy="519.7" r="5.9" fill="#972bb2"/>
<circle cx="376.6" cy="676.5" r="5.9" fill="#893dc1"/>
<circle cx="376.6" cy="678.5" r="5.9" fill="#893dc1"/>
<circle cx="376.6" cy="680.5" r="5.9" fill="#893dc1"/>
<circle cx="376.6" cy="682.5" r="5.9" fill="#893dc1"/>
<circle cx="376.6" cy="684.4" r="5.9" fill="#893dc1"/>
<circle cx="376.6" cy="686.4" r="5.9" fill="#0074f0"/>
<circle cx="376.6" cy="688.4" r="5.9" fill="#0074f0"/>
<circle cx="376.6" cy="690.4" r="5.9" fill="#0074f0"/>
<circle cx="376.6" cy="692.4" r="5.9" fill="#0074f0"/>
<circle cx="376.6" cy="694.4" r="5.9" fill="#0074f0"/>
<circle cx="376.6" cy="696.4" r="5.9" fill="#0074f0"/>
<circle cx="376.6" cy="698.3" r="5.9" fill="#0074f0"/>
<circle cx="376.6" cy="700.3" r="5.9" fill="#0084f9"/>
<circle cx="376.6" cy="702.3" r="5.9" fill="#0084f9"/>
<circle cx="376.6" cy="704.3" r="5.9" fill="#0084f9"/>
<circle cx="376.6" cy="706.3" r="5.9" fill="#0084f9"/>
<circle cx="376.6" cy="708.3" r="5.9" fill="#0084f9"/>
<circle cx="376.6" cy="710.3" r="5.9" fill="#0084f9"/>
<circle cx="376.6" cy="712.2" r="5.9" fill="#0084f9"/>
<circle cx="376.6" cy="714.2" r="5.9" fill="#0084f9"/>
<circle cx="376.6" cy="716.2" r="5.9" fill="#0084f9"/>
<circle cx="376.6" cy="718.2" r="5.9" fill="#0084f9"/>
<circle cx="376.6" cy="720.2" r="5.9" fill="#0074f0"/>
<circle cx="376.6" cy="722.2" r="5.9" fill="#0074f0"/>
<circle cx="376.6" cy="724.2" r="5.9" fill="#0074f0"/>
<circle cx="376.6" cy="726.1" r="5.9" fill="#c80098"/>
<circle cx="376.6" cy="728.1" r="5.9" fill="#c80098"/>
<circle cx="376.6" cy="730.1" r="5.9" fill="#c80098"/>
<circle cx="376.6" cy="732.1" r="5.9" fill="#c80098"/>
<circle cx="376.6" cy="734.1" r="5.9" fill="#c80098"/>
<circle cx="376.6" cy="736.1" r="5.9" fill="#754fd1"/>
<circle cx="376.6" cy="738.1" r="5.9" fill="#754fd1"/>
<circle cx="376.6" cy="740.0" r="5.9" fill="#754fd1"/>
<circle cx="376.6" cy="742.0" r="5.9" fill="#9b23ad"/>
<circle cx="376.6" cy="744.0" r="5.9" fill="#9b23ad"/>
<circle cx="376.6" cy="746.0" r="5.9" fill="#9b23ad"/>
<circle cx="376.6" cy="748.0" r="5.9" fill="#9b23ad"/>
<circle cx="376.6" cy="750.0" r="5.9" fill="#9b23ad"/>
<circle cx="376.6" cy="752.0" r="5.9" fill="#9b23ad"/>
<circle cx="376.6" cy="827.9" r="5.9" fill="#6359da"/>
<circle cx="376.6" cy="825.9" r="5.9" fill="#6359da"/>
<circle cx="376.6" cy="823.9" r="5.9" fill="#6359da"/>
<circle cx="376.6" cy="821.9" r="5.9" fill="#0084f9"/>
<circle cx="376.6" cy="819.9" r="5.9" fill="#0084f9"/>
<circle cx="376.6" cy="817.9" r="5.9" fill="#0084f9"/>
<circle cx="376.6" cy="815.9" r="5.9" fill="#0084f9"/>
<circle cx="376.6" cy="813.9" r="5.9" fill="#0084f9"/>
<circle cx="376.6" cy="811.9" r="5.9" fill="#0084f9"/>
<circle cx="376.6" cy="809.9" r="5.9" fill="#0084f9"/>
<circle cx="376.6" cy="807.9" r="5.9" fill="#0084f9"/>
<circle cx="376.6" cy="805.9" r="5.9" fill="#0084f9"/>
<circle cx="376.6" cy="803.9" r="5.9" fill="#0084f9"/>
<circle cx="376.6" cy="801.9" r="5.9" fill="#0084f9"/>
<circle cx="376.6" cy="799.9" r="5.9" fill="#0084f9"/>
<circle cx="376.6" cy="797.9" r="5.9" fill="#0084f9"/>
<circle cx="376.6" cy="795.9" r="5.9" fill="#0084f9"/>
<circle cx="376.6" cy="793.9" r="5.9" fill="#0084f9"/>
<circle cx="376.6" cy="791.9" r="5.9" fill="#6359da"/>
<circle cx="376.6" cy="789.9" r="5.9" fill="#6359da"/>
<circle cx="376.6" cy="787.9" r="5.9" fill="#6359da"/>
<circle cx="376.6" cy="785.9" r="5.9" fill="#6359da"/>
<circle cx="376.6" cy="783.9" r="5.9" fill="#6359da"/>
<circle cx="376.6" cy="781.9" r="5.9" fill="#c0009c"/>
<circle cx="376.6" cy="779.9" r="5.9" fill="#c0009c"/>
<circle cx="376.6" cy="777.9" r="5.9" fill="#0084f9"/>
<circle cx="376.6" cy="775.9" r="5.9" fill="#0084f9"/>
<circle cx="376.6" cy="773.9" r="5.9" fill="#0084f9"/>
<circle cx="376.6" cy="771.9" r="5.9" fill="#0084f9"/>
<circle cx="376.6" cy="769.9" r="5.9" fill="#0084f9"/>
<circle cx="376.6" cy="767.9" r="5.9" fill="#0084f9"/>
<circle cx="376.6" cy="765.9" r="5.9" fill="#9b23ad"/>
<circle cx="376.6" cy="763.9" r="5.9" fill="#9b23ad"/>
<circle cx="376.6" cy="761.9" r="5.9" fill="#9b23ad"/>
<circle cx="376.6" cy="759.9" r="5.9" fill="#9b23ad"/>
<circle cx="376.6" cy="757.9" r="5.9" fill="#9b23ad"/>
<circle cx="376.6" cy="755.9" r="5.9" fill="#9b23ad"/>
<circle cx="376.6" cy="754.0" r="5.9" fill="#9b23ad"/>
<circle cx="371.3" cy="738.7" r="5.9" fill="#9135ba"/>
<circle cx="384.2" cy="738.7" r="5.9" fill="#0084f9"/>
<circle cx="382.8" cy="738.7" r="5.9" fill="#0084f9"/>
<circle cx="381.5" cy="738.7" r="5.9" fill="#0084f9"/>
<circle cx="380.1" cy="738.7" r="5.9" fill="#0084f9"/>
<circle cx="378.8" cy="738.7" r="5.9" fill="#0084f9"/>
<circle cx="377.4" cy="738.7" r="5.9" fill="#0084f9"/>
<circle cx="376.1" cy="738.7" r="5.9" fill="#0084f9"/>
<circle cx="374.7" cy="738.7" r="5.9" fill="#0084f9"/>
<circle cx="373.4" cy="738.7" r="5.9" fill="#0084f9"/>
<circle cx="372.0" cy="738.7" r="5.9" fill="#9135ba"/>
<circle cx="371.3" cy="744.0" r="5.9" fill="#ab15a7"/>
<circle cx="384.2" cy="744.0" r="5.9" fill="#0084f9"/>
<circle cx="382.8" cy="744.0" r="5.9" fill="#0084f9"/>
<circle cx="381.4" cy="744.0" r="5.9" fill="#0084f9"/>
<circle cx="380.1" cy="744.0" r="5.9" fill="#0084f9"/>
<circle cx="378.7" cy="744.0" r="5.9" fill="#0084f9"/>
<circle cx="377.3" cy="744.0" r="5.9" fill="#0084f9"/>
<circle cx="375.9" cy="744.0" r="5.9" fill="#0084f9"/>
<circle cx="374.5" cy="744.0" r="5.9" fill="#0084f9"/>
<circle cx="373.1" cy="744.0" r="5.9" fill="#0084f9"/>
<circle cx="371.8" cy="744.0" r="5.9" fill="#ab15a7"/>
<circle cx="328.9" cy="749.3" r="5.9" fill="#0084f9"/>
<circle cx="371.3" cy="749.3" r="5.9" fill="#ab15a7"/>
<circle cx="391.2" cy="749.3" r="5.9" fill="#754fd1"/>
<circle cx="389.8" cy="749.3" r="5.9" fill="#754fd1"/>
<circle cx="388.3" cy="749.3" r="5.9" fill="#754fd1"/>
<circle cx="386.9" cy="749.3" r="5.9" fill="#754fd1"/>
<circle cx="385.4" cy="749.3" r="5.9" fill="#754fd1"/>
<circle cx="384.0" cy="749.3" r="5.9" fill="#754fd1"/>
<circle cx="382.5" cy="749.3" r="5.9" fill="#754fd1"/>
<circle cx="381.1" cy="749.3" r="5.9" fill="#754fd1"/>
<circle cx="379.7" cy="749.3" r="5.9" fill="#fb0063"/>
<circle cx="378.2" cy="749.3" r="5.9" fill="#fb0063"/>
<circle cx="376.8" cy="749.3" r="5.9" fill="#fb0063"/>
<circle cx="375.3" cy="749.3" r="5.9" fill="#fb0063"/>
<circle cx="373.9" cy="749.3" r="5.9" fill="#fb0063"/>
<circle cx="372.5" cy="749.3" r="5.9" fill="#ab15a7"/>
<circle cx="371.3" cy="770.5" r="5.9" fill="#007cf5"/>
<circle cx="372.7" cy="770.5" r="5.9" fill="#007cf5"/>
<circle cx="374.1" cy="770.5" r="5.9" fill="#007cf5"/>
<circle cx="375.5" cy="770.5" r="5.9" fill="#007cf5"/>
<circle cx="376.9" cy="770.5" r="5.9" fill="#007cf5"/>
<circle cx="378.3" cy="770.5" r="5.9" fill="#007cf5"/>
<circle cx="379.7" cy="770.5" r="5.9" fill="#754fd1"/>
<circle cx="383.6" cy="770.5" r="5.9" fill="#754fd1"/>
<circle cx="382.3" cy="770.5" r="5.9" fill="#754fd1"/>
<circle cx="381.1" cy="770.5" r="5.9" fill="#754fd1"/>
<circle cx="370.5" cy="765.2" r="5.9" fill="#0084f9"/>
<circle cx="371.8" cy="765.2" r="5.9" fill="#0084f9"/>
<circle cx="373.2" cy="765.2" r="5.9" fill="#0084f9"/>
<circle cx="374.5" cy="765.2" r="5.9" fill="#0084f9"/>
<circle cx="375.9" cy="765.2" r="5.9" fill="#0084f9"/>
<circle cx="377.2" cy="765.2" r="5.9" fill="#0084f9"/>
<circle cx="378.6" cy="765.2" r="5.9" fill="#754fd1"/>
<circle cx="379.9" cy="765.2" r="5.9" fill="#754fd1"/>
<circle cx="384.2" cy="765.2" r="5.9" fill="#754fd1"/>
<circle cx="382.7" cy="765.2" r="5.9" fill="#754fd1"/>
<circle cx="381.2" cy="765.2" r="5.9" fill="#754fd1"/>
<circle cx="371.3" cy="759.9" r="5.9" fill="#007cf5"/>
<circle cx="372.7" cy="759.9" r="5.9" fill="#007cf5"/>
<circle cx="374.0" cy="759.9" r="5.9" fill="#007cf5"/>
<circle cx="375.4" cy="759.9" r="5.9" fill="#007cf5"/>
<circle cx="376.7" cy="759.9" r="5.9" fill="#007cf5"/>
<circle cx="378.1" cy="759.9" r="5.9" fill="#007cf5"/>
<circle cx="388.4" cy="759.9" r="5.9" fill="#bb00a0"/>
<circle cx="386.9" cy="759.9" r="5.9" fill="#bb00a0"/>
<circle cx="385.4" cy="759.9" r="5.9" fill="#bb00a0"/>
<circle cx="383.9" cy="759.9" r="5.9" fill="#bb00a0"/>
<circle cx="382.4" cy="759.9" r="5.9" fill="#bb00a0"/>
<circle cx="380.9" cy="759.9" r="5.9" fill="#bb00a0"/>
<circle cx="379.5" cy="759.9" r="5.9" fill="#9135ba"/>
<circle cx="328.9" cy="754.6" r="5.9" fill="#0084f9"/>
<circle cx="342.7" cy="754.6" r="5.9" fill="#0084f9"/>
<circle cx="344.1" cy="754.6" r="5.9" fill="#0084f9"/>
<circle cx="345.5" cy="754.6" r="5.9" fill="#0084f9"/>
<circle cx="347.0" cy="754.6" r="5.9" fill="#0084f9"/>
<circle cx="348.4" cy="754.6" r="5.9" fill="#0084f9"/>
<circle cx="349.8" cy="754.6" r="5.9" fill="#7e48ca"/>
<circle cx="351.2" cy="754.6" r="5.9" fill="#7e48ca"/>
<circle cx="352.7" cy="754.6" r="5.9" fill="#7e48ca"/>
<circle cx="354.1" cy="754.6" r="5.9" fill="#7e48ca"/>
<circle cx="355.5" cy="754.6" r="5.9" fill="#7e48ca"/>
<circle cx="356.9" cy="754.6" r="5.9" fill="#7e48ca"/>
<circle cx="403.9" cy="754.6" r="5.9" fill="#0084f9"/>
<circle cx="402.4" cy="754.6" r="5.9" fill="#0084f9"/>
<circle cx="401.0" cy="754.6" r="5.9" fill="#0084f9"/>
<circle cx="399.5" cy="754.6" r="5.9" fill="#0084f9"/>
<circle cx="398.0" cy="754.6" r="5.9" fill="#0084f9"/>
<circle cx="396.6" cy="754.6" r="5.9" fill="#0084f9"/>
<circle cx="395.1" cy="754.6" r="5.9" fill="#0084f9"/>
<circle cx="393.6" cy="754.6" r="5.9" fill="#0084f9"/>
<circle cx="392.1" cy="754.6" r="5.9" fill="#0084f9"/>
<circle cx="390.7" cy="754.6" r="5.9" fill="#0084f9"/>
<circle cx="389.2" cy="754.6" r="5.9" fill="#5a5dde"/>
<circle cx="387.7" cy="754.6" r="5.9" fill="#5a5dde"/>
<circle cx="386.3" cy="754.6" r="5.9" fill="#5a5dde"/>
<circle cx="384.8" cy="754.6" r="5.9" fill="#5a5dde"/>
<circle cx="383.3" cy="754.6" r="5.9" fill="#5a5dde"/>
<circle cx="381.9" cy="754.6" r="5.9" fill="#5a5dde"/>
<circle cx="380.4" cy="754.6" r="5.9" fill="#fb0063"/>
<circle cx="378.9" cy="754.6" r="5.9" fill="#fb0063"/>
<circle cx="377.5" cy="754.6" r="5.9" fill="#fb0063"/>
<circle cx="376.0" cy="754.6" r="5.9" fill="#fb0063"/>
<circle cx="374.5" cy="754.6" r="5.9" fill="#fb0063"/>
<circle cx="373.0" cy="754.6" r="5.9" fill="#7e48ca"/>
<circle cx="371.6" cy="754.6" r="5.9" fill="#7e48ca"/>
<circle cx="370.1" cy="754.6" r="5.9" fill="#7e48ca"/>
<circle cx="368.6" cy="754.6" r="5.9" fill="#7e48ca"/>
<circle cx="367.2" cy="754.6" r="5.9" fill="#7e48ca"/>
<circle cx="365.7" cy="754.6" r="5.9" fill="#7e48ca"/>
<circle cx="364.2" cy="754.6" r="5.9" fill="#7e48ca"/>
<circle cx="362.8" cy="754.6" r="5.9" fill="#7e48ca"/>
<circle cx="361.3" cy="754.6" r="5.9" fill="#7e48ca"/>
<circle cx="359.8" cy="754.6" r="5.9" fill="#7e48ca"/>
<circle cx="358.4" cy="754.6" r="5.9" fill="#ab15a7"/>
<circle cx="356.6" cy="750.6" r="5.9" fill="#fe005c"/>
<circle cx="669.5" cy="686.9" r="5.9" fill="#236cea"/>
<circle cx="667.7" cy="703.8" r="5.9" fill="#9135ba"/>
<circle cx="669.2" cy="703.8" r="5.9" fill="#9135ba"/>
<circle cx="673.6" cy="703.8" r="5.9" fill="#9135ba"/>
<circle cx="672.1" cy="703.8" r="5.9" fill="#9135ba"/>
<circle cx="670.6" cy="703.8" r="5.9" fill="#9135ba"/>
<circle cx="666.0" cy="720.7" r="5.9" fill="#0084f9"/>
<circle cx="667.3" cy="720.7" r="5.9" fill="#0084f9"/>
<circle cx="668.7" cy="720.7" r="5.9" fill="#0084f9"/>
<circle cx="670.0" cy="720.7" r="5.9" fill="#0084f9"/>
<circle cx="671.4" cy="720.7" r="5.9" fill="#4b63e3"/>
<circle cx="672.7" cy="720.7" r="5.9" fill="#4b63e3"/>
<circle cx="679.4" cy="720.7" r="5.9" fill="#0084f9"/>
<circle cx="678.1" cy="720.7" r="5.9" fill="#0084f9"/>
<circle cx="676.7" cy="720.7" r="5.9" fill="#0084f9"/>
<circle cx="675.4" cy="720.7" r="5.9" fill="#0084f9"/>
<circle cx="674.0" cy="720.7" r="5.9" fill="#ab15a7"/>
<circle cx="663.6" cy="737.7" r="5.9" fill="#007cf5"/>
<circle cx="664.8" cy="737.7" r="5.9" fill="#007cf5"/>
<circle cx="666.1" cy="737.7" r="5.9" fill="#c0009c"/>
<circle cx="667.3" cy="737.7" r="5.9" fill="#c0009c"/>
<circle cx="668.5" cy="737.7" r="5.9" fill="#c0009c"/>
<circle cx="687.2" cy="737.7" r="5.9" fill="#f20072"/>
<circle cx="685.7" cy="737.7" r="5.9" fill="#f20072"/>
<circle cx="684.3" cy="737.7" r="5.9" fill="#f20072"/>
<circle cx="682.8" cy="737.7" r="5.9" fill="#754fd1"/>
<circle cx="681.4" cy="737.7" r="5.9" fill="#754fd1"/>
<circle cx="679.9" cy="737.7" r="5.9" fill="#754fd1"/>
<circle cx="678.5" cy="737.7" r="5.9" fill="#754fd1"/>
<circle cx="677.0" cy="737.7" r="5.9" fill="#754fd1"/>
<circle cx="675.6" cy="737.7" r="5.9" fill="#754fd1"/>
<circle cx="674.1" cy="737.7" r="5.9" fill="#754fd1"/>
<circle cx="672.7" cy="737.7" r="5.9" fill="#c0009c"/>
<circle cx="671.2" cy="737.7" r="5.9" fill="#c0009c"/>
<circle cx="669.8" cy="737.7" r="5.9" fill="#c0009c"/>
<circle cx="669.7" cy="805.4" r="5.9" fill="#ab15a7"/>
<circle cx="670.9" cy="805.4" r="5.9" fill="#ab15a7"/>
<circle cx="672.1" cy="805.4" r="5.9" fill="#ab15a7"/>
<circle cx="673.3" cy="805.4" r="5.9" fill="#6359da"/>
<circle cx="666.0" cy="788.5" r="5.9" fill="#0084f9"/>
<circle cx="667.3" cy="788.5" r="5.9" fill="#0084f9"/>
<circle cx="668.6" cy="788.5" r="5.9" fill="#0084f9"/>
<circle cx="669.9" cy="788.5" r="5.9" fill="#0084f9"/>
<circle cx="671.1" cy="788.5" r="5.9" fill="#0084f9"/>
<circle cx="672.4" cy="788.5" r="5.9" fill="#9135ba"/>
<circle cx="679.4" cy="788.5" r="5.9" fill="#007ff7"/>
<circle cx="678.0" cy="788.5" r="5.9" fill="#007ff7"/>
<circle cx="676.5" cy="788.5" r="5.9" fill="#007ff7"/>
<circle cx="675.1" cy="788.5" r="5.9" fill="#007ff7"/>
<circle cx="673.7" cy="788.5" r="5.9" fill="#0086fa"/>
<circle cx="663.9" cy="771.5" r="5.9" fill="#007ff7"/>
<circle cx="665.4" cy="771.5" r="5.9" fill="#007ff7"/>
<circle cx="666.8" cy="771.5" r="5.9" fill="#007ff7"/>
<circle cx="668.3" cy="771.5" r="5.9" fill="#007ff7"/>
<circle cx="669.8" cy="771.5" r="5.9" fill="#007ff7"/>
<circle cx="671.2" cy="771.5" r="5.9" fill="#f90067"/>
<circle cx="672.7" cy="771.5" r="5.9" fill="#f90067"/>
<circle cx="674.2" cy="771.5" r="5.9" fill="#0084f9"/>
<circle cx="675.6" cy="771.5" r="5.9" fill="#0084f9"/>
<circle cx="679.7" cy="771.5" r="5.9" fill="#007ff7"/>
<circle cx="678.4" cy="771.5" r="5.9" fill="#007ff7"/>
<circle cx="677.1" cy="771.5" r="5.9" fill="#9135ba"/>
<circle cx="663.2" cy="754.6" r="5.9" fill="#0084f9"/>
<circle cx="664.5" cy="754.6" r="5.9" fill="#0084f9"/>
<circle cx="665.9" cy="754.6" r="5.9" fill="#0084f9"/>
<circle cx="667.2" cy="754.6" r="5.9" fill="#0084f9"/>
<circle cx="668.6" cy="754.6" r="5.9" fill="#0084f9"/>
<circle cx="687.9" cy="754.6" r="5.9" fill="#0084f9"/>
<circle cx="686.4" cy="754.6" r="5.9" fill="#0084f9"/>
<circle cx="684.9" cy="754.6" r="5.9" fill="#0084f9"/>
<circle cx="683.4" cy="754.6" r="5.9" fill="#0084f9"/>
<circle cx="681.9" cy="754.6" r="5.9" fill="#4b63e3"/>
<circle cx="680.4" cy="754.6" r="5.9" fill="#4b63e3"/>
<circle cx="678.9" cy="754.6" r="5.9" fill="#4b63e3"/>
<circle cx="677.4" cy="754.6" r="5.9" fill="#4b63e3"/>
<circle cx="675.9" cy="754.6" r="5.9" fill="#4b63e3"/>
<circle cx="674.4" cy="754.6" r="5.9" fill="#4b63e3"/>
<circle cx="672.9" cy="754.6" r="5.9" fill="#4b63e3"/>
<circle cx="671.4" cy="754.6" r="5.9" fill="#4b63e3"/>
<circle cx="670.0" cy="754.6" r="5.9" fill="#8443c6"/>
<circle cx="976.8" cy="737.3" r="5.9" fill="#0084f9"/>
<circle cx="976.8" cy="739.1" r="5.9" fill="#0084f9"/>
<circle cx="976.8" cy="741.0" r="5.9" fill="#0084f9"/>
<circle cx="976.8" cy="742.8" r="5.9" fill="#0084f9"/>
<circle cx="976.8" cy="744.6" r="5.9" fill="#0084f9"/>
<circle cx="976.8" cy="746.4" r="5.9" fill="#0084f9"/>
<circle cx="976.8" cy="748.3" r="5.9" fill="#0084f9"/>
<circle cx="976.8" cy="750.1" r="5.9" fill="#0084f9"/>
<circle cx="976.8" cy="751.9" r="5.9" fill="#0084f9"/>
<circle cx="976.8" cy="770.2" r="5.9" fill="#0084f9"/>
<circle cx="976.8" cy="768.4" r="5.9" fill="#0084f9"/>
<circle cx="976.8" cy="766.5" r="5.9" fill="#0084f9"/>
<circle cx="976.8" cy="764.7" r="5.9" fill="#0084f9"/>
<circle cx="976.8" cy="762.9" r="5.9" fill="#0084f9"/>
<circle cx="976.8" cy="761.1" r="5.9" fill="#0084f9"/>
<circle cx="976.8" cy="759.2" r="5.9" fill="#0084f9"/>
<circle cx="976.8" cy="757.4" r="5.9" fill="#0084f9"/>
<circle cx="976.8" cy="755.6" r="5.9" fill="#0084f9"/>
<circle cx="976.8" cy="753.8" r="5.9" fill="#0084f9"/>
<circle cx="967.7" cy="746.2" r="5.9" fill="#8443c6"/>
<circle cx="967.7" cy="748.0" r="5.9" fill="#8443c6"/>
<circle cx="967.7" cy="749.7" r="5.9" fill="#8443c6"/>
<circle cx="967.7" cy="751.5" r="5.9" fill="#8443c6"/>
<circle cx="967.7" cy="760.3" r="5.9" fill="#8443c6"/>
<circle cx="967.7" cy="758.5" r="5.9" fill="#8443c6"/>
<circle cx="967.7" cy="756.8" r="5.9" fill="#8443c6"/>
<circle cx="967.7" cy="755.0" r="5.9" fill="#8443c6"/>
<circle cx="967.7" cy="753.2" r="5.9" fill="#8443c6"/>
<circle cx="970.4" cy="676.4" r="5.9" fill="#0084f9"/>
<circle cx="970.4" cy="678.4" r="5.9" fill="#0084f9"/>
<circle cx="970.4" cy="680.4" r="5.9" fill="#0084f9"/>
<circle cx="970.4" cy="682.4" r="5.9" fill="#0084f9"/>
<circle cx="970.4" cy="684.4" r="5.9" fill="#0084f9"/>
<circle cx="970.4" cy="686.3" r="5.9" fill="#0084f9"/>
<circle cx="970.4" cy="688.3" r="5.9" fill="#236cea"/>
<circle cx="970.4" cy="690.3" r="5.9" fill="#236cea"/>
<circle cx="970.4" cy="692.3" r="5.9" fill="#236cea"/>
<circle cx="970.4" cy="694.3" r="5.9" fill="#236cea"/>
<circle cx="970.4" cy="696.3" r="5.9" fill="#236cea"/>
<circle cx="970.4" cy="698.3" r="5.9" fill="#236cea"/>
<circle cx="970.4" cy="700.3" r="5.9" fill="#236cea"/>
<circle cx="970.4" cy="702.2" r="5.9" fill="#236cea"/>
<circle cx="970.4" cy="704.2" r="5.9" fill="#236cea"/>
<circle cx="970.4" cy="706.2" r="5.9" fill="#007ff7"/>
<circle cx="970.4" cy="708.2" r="5.9" fill="#007ff7"/>
<circle cx="970.4" cy="710.2" r="5.9" fill="#007ff7"/>
<circle cx="970.4" cy="712.2" r="5.9" fill="#007ff7"/>
<circle cx="970.4" cy="714.2" r="5.9" fill="#006fed"/>
<circle cx="970.4" cy="716.2" r="5.9" fill="#006fed"/>
<circle cx="970.4" cy="718.2" r="5.9" fill="#006fed"/>
<circle cx="970.4" cy="720.1" r="5.9" fill="#006fed"/>
<circle cx="970.4" cy="722.1" r="5.9" fill="#006fed"/>
<circle cx="970.4" cy="724.1" r="5.9" fill="#006fed"/>
<circle cx="970.4" cy="726.1" r="5.9" fill="#9135ba"/>
<circle cx="970.4" cy="728.1" r="5.9" fill="#9135ba"/>
<circle cx="970.4" cy="730.1" r="5.9" fill="#9135ba"/>
<circle cx="970.4" cy="732.1" r="5.9" fill="#9135ba"/>
<circle cx="970.4" cy="734.1" r="5.9" fill="#9135ba"/>
<circle cx="970.4" cy="736.1" r="5.9" fill="#6359da"/>
<circle cx="970.4" cy="738.0" r="5.9" fill="#6359da"/>
<circle cx="970.4" cy="740.0" r="5.9" fill="#6359da"/>
<circle cx="970.4" cy="742.0" r="5.9" fill="#6359da"/>
<circle cx="970.4" cy="744.0" r="5.9" fill="#0084f9"/>
<circle cx="970.4" cy="746.0" r="5.9" fill="#0084f9"/>
<circle cx="970.4" cy="748.0" r="5.9" fill="#0084f9"/>
<circle cx="970.4" cy="750.0" r="5.9" fill="#0084f9"/>
<circle cx="970.4" cy="752.0" r="5.9" fill="#0084f9"/>
<circle cx="970.4" cy="753.9" r="5.9" fill="#c0009c"/>
<circle cx="970.4" cy="755.9" r="5.9" fill="#c0009c"/>
<circle cx="970.4" cy="757.9" r="5.9" fill="#c0009c"/>
<circle cx="970.4" cy="759.9" r="5.9" fill="#c0009c"/>
<circle cx="970.4" cy="761.9" r="5.9" fill="#c0009c"/>
<circle cx="970.4" cy="763.9" r="5.9" fill="#c0009c"/>
<circle cx="970.4" cy="765.9" r="5.9" fill="#c0009c"/>
<circle cx="970.4" cy="767.9" r="5.9" fill="#c0009c"/>
<circle cx="970.4" cy="769.9" r="5.9" fill="#9135ba"/>
<circle cx="970.4" cy="771.8" r="5.9" fill="#9135ba"/>
<circle cx="970.4" cy="773.8" r="5.9" fill="#9135ba"/>
<circle cx="970.4" cy="775.8" r="5.9" fill="#9135ba"/>
<circle cx="970.4" cy="777.8" r="5.9" fill="#9135ba"/>
<circle cx="970.4" cy="779.8" r="5.9" fill="#9135ba"/>
<circle cx="970.4" cy="781.8" r="5.9" fill="#9135ba"/>
<circle cx="970.4" cy="783.8" r="5.9" fill="#0084f9"/>
<circle cx="970.4" cy="785.8" r="5.9" fill="#0084f9"/>
<circle cx="970.4" cy="787.7" r="5.9" fill="#0084f9"/>
<circle cx="970.4" cy="789.7" r="5.9" fill="#0084f9"/>
<circle cx="970.4" cy="791.7" r="5.9" fill="#0084f9"/>
<circle cx="970.4" cy="793.7" r="5.9" fill="#0084f9"/>
<circle cx="970.4" cy="832.3" r="5.9" fill="#0084f9"/>
<circle cx="970.4" cy="830.4" r="5.9" fill="#0084f9"/>
<circle cx="970.4" cy="828.4" r="5.9" fill="#0084f9"/>
<circle cx="970.4" cy="826.5" r="5.9" fill="#0084f9"/>
<circle cx="970.4" cy="824.6" r="5.9" fill="#0084f9"/>
<circle cx="970.4" cy="822.7" r="5.9" fill="#0084f9"/>
<circle cx="970.4" cy="820.7" r="5.9" fill="#6359da"/>
<circle cx="970.4" cy="818.8" r="5.9" fill="#6359da"/>
<circle cx="970.4" cy="816.9" r="5.9" fill="#6359da"/>
<circle cx="970.4" cy="815.0" r="5.9" fill="#6359da"/>
<circle cx="970.4" cy="813.0" r="5.9" fill="#6359da"/>
<circle cx="970.4" cy="811.1" r="5.9" fill="#f90067"/>
<circle cx="970.4" cy="809.2" r="5.9" fill="#f90067"/>
<circle cx="970.4" cy="807.3" r="5.9" fill="#0084f9"/>
<circle cx="970.4" cy="805.3" r="5.9" fill="#0084f9"/>
<circle cx="970.4" cy="803.4" r="5.9" fill="#0084f9"/>
<circle cx="970.4" cy="801.5" r="5.9" fill="#0084f9"/>
<circle cx="970.4" cy="799.6" r="5.9" fill="#0084f9"/>
<circle cx="970.4" cy="797.6" r="5.9" fill="#0084f9"/>
<circle cx="970.4" cy="795.7" r="5.9" fill="#0084f9"/>
<circle cx="1258.4" cy="679.3" r="5.9" fill="#0084f9"/>
<circle cx="1258.4" cy="688.7" r="5.9" fill="#3769e8"/>
<circle cx="1259.2" cy="698.1" r="5.9" fill="#3769e8"/>
<circle cx="1277.2" cy="698.1" r="5.9" fill="#6e53d5"/>
<circle cx="1278.4" cy="698.1" r="5.9" fill="#6e53d5"/>
<circle cx="1281.8" cy="698.1" r="5.9" fill="#6e53d5"/>
<circle cx="1280.7" cy="698.1" r="5.9" fill="#6e53d5"/>
<circle cx="1279.5" cy="698.1" r="5.9" fill="#6e53d5"/>
<circle cx="1259.4" cy="707.6" r="5.9" fill="#007ff7"/>
<circle cx="1276.2" cy="707.6" r="5.9" fill="#f90067"/>
<circle cx="1281.8" cy="707.6" r="5.9" fill="#fb0063"/>
<circle cx="1280.5" cy="707.6" r="5.9" fill="#fb0063"/>
<circle cx="1279.2" cy="707.6" r="5.9" fill="#fb0063"/>
<circle cx="1278.0" cy="707.6" r="5.9" fill="#fb0063"/>
<circle cx="1276.7" cy="707.6" r="5.9" fill="#8443c6"/>
<circle cx="1259.1" cy="717.0" r="5.9" fill="#0084f9"/>
<circle cx="1261.0" cy="717.0" r="5.9" fill="#0084f9"/>
<circle cx="1260.1" cy="717.0" r="5.9" fill="#0084f9"/>
<circle cx="1283.5" cy="717.0" r="5.9" fill="#f90067"/>
<circle cx="1282.2" cy="717.0" r="5.9" fill="#f90067"/>
<circle cx="1280.9" cy="717.0" r="5.9" fill="#7e48ca"/>
<circle cx="1279.5" cy="717.0" r="5.9" fill="#7e48ca"/>
<circle cx="1278.2" cy="717.0" r="5.9" fill="#7e48ca"/>
<circle cx="1276.9" cy="717.0" r="5.9" fill="#c0009c"/>
<circle cx="1258.1" cy="726.4" r="5.9" fill="#0084f9"/>
<circle cx="1258.9" cy="726.4" r="5.9" fill="#0084f9"/>
<circle cx="1261.3" cy="726.4" r="5.9" fill="#0084f9"/>
<circle cx="1260.5" cy="726.4" r="5.9" fill="#0084f9"/>
<circle cx="1259.7" cy="726.4" r="5.9" fill="#0084f9"/>
<circle cx="1283.5" cy="726.4" r="5.9" fill="#e00086"/>
<circle cx="1282.2" cy="726.4" r="5.9" fill="#e00086"/>
<circle cx="1280.9" cy="726.4" r="5.9" fill="#e00086"/>
<circle cx="1279.5" cy="726.4" r="5.9" fill="#e00086"/>
<circle cx="1278.2" cy="726.4" r="5.9" fill="#e00086"/>
<circle cx="1276.9" cy="726.4" r="5.9" fill="#6e53d5"/>
<circle cx="1256.7" cy="735.8" r="5.9" fill="#0084f9"/>
<circle cx="1258.2" cy="735.8" r="5.9" fill="#0084f9"/>
<circle cx="1262.7" cy="735.8" r="5.9" fill="#0084f9"/>
<circle cx="1261.7" cy="735.8" r="5.9" fill="#0084f9"/>
<circle cx="1260.7" cy="735.8" r="5.9" fill="#0084f9"/>
<circle cx="1259.7" cy="735.8" r="5.9" fill="#0084f9"/>
<circle cx="1282.5" cy="735.8" r="5.9" fill="#0084f9"/>
<circle cx="1281.1" cy="735.8" r="5.9" fill="#0084f9"/>
<circle cx="1279.7" cy="735.8" r="5.9" fill="#0084f9"/>
<circle cx="1278.3" cy="735.8" r="5.9" fill="#0084f9"/>
<circle cx="1276.9" cy="735.8" r="5.9" fill="#9b23ad"/>
<circle cx="1254.0" cy="745.2" r="5.9" fill="#0084f9"/>
<circle cx="1255.2" cy="745.2" r="5.9" fill="#0084f9"/>
<circle cx="1256.5" cy="745.2" r="5.9" fill="#0084f9"/>
<circle cx="1257.8" cy="745.2" r="5.9" fill="#0084f9"/>
<circle cx="1264.0" cy="745.2" r="5.9" fill="#0084f9"/>
<circle cx="1262.8" cy="745.2" r="5.9" fill="#0084f9"/>
<circle cx="1261.5" cy="745.2" r="5.9" fill="#0084f9"/>
<circle cx="1260.2" cy="745.2" r="5.9" fill="#0084f9"/>
<circle cx="1259.0" cy="745.2" r="5.9" fill="#0084f9"/>
<circle cx="1283.5" cy="745.2" r="5.9" fill="#f20072"/>
<circle cx="1282.2" cy="745.2" r="5.9" fill="#f20072"/>
<circle cx="1280.9" cy="745.2" r="5.9" fill="#f20072"/>
<circle cx="1279.5" cy="745.2" r="5.9" fill="#f20072"/>
<circle cx="1278.2" cy="745.2" r="5.9" fill="#f20072"/>
<circle cx="1276.9" cy="745.2" r="5.9" fill="#fb0063"/>
<circle cx="1258.4" cy="820.5" r="5.9" fill="#0084f9"/>
<circle cx="1258.6" cy="811.1" r="5.9" fill="#0084f9"/>
<circle cx="1259.2" cy="801.6" r="5.9" fill="#0084f9"/>
<circle cx="1276.9" cy="801.6" r="5.9" fill="#fe005c"/>
<circle cx="1278.2" cy="801.6" r="5.9" fill="#fe005c"/>
<circle cx="1282.1" cy="801.6" r="5.9" fill="#fe005c"/>
<circle cx="1280.8" cy="801.6" r="5.9" fill="#fe005c"/>
<circle cx="1279.5" cy="801.6" r="5.9" fill="#fe005c"/>
<circle cx="1259.2" cy="792.2" r="5.9" fill="#0084f9"/>
<circle cx="1276.9" cy="792.2" r="5.9" fill="#c0009c"/>
<circle cx="1278.2" cy="792.2" r="5.9" fill="#c0009c"/>
<circle cx="1279.5" cy="792.2" r="5.9" fill="#c0009c"/>
<circle cx="1280.8" cy="792.2" r="5.9" fill="#c0009c"/>
<circle cx="1282.1" cy="792.2" r="5.9" fill="#c0009c"/>
<circle cx="1283.5" cy="792.2" r="5.9" fill="#9b23ad"/>
<circle cx="1283.4" cy="792.2" r="5.9" fill="#9b23ad"/>
<circle cx="1258.8" cy="782.8" r="5.9" fill="#0086fa"/>
<circle cx="1259.8" cy="782.8" r="5.9" fill="#0086fa"/>
<circle cx="1262.7" cy="782.8" r="5.9" fill="#0086fa"/>
<circle cx="1261.7" cy="782.8" r="5.9" fill="#0086fa"/>
<circle cx="1260.8" cy="782.8" r="5.9" fill="#0086fa"/>
<circle cx="1276.9" cy="782.8" r="5.9" fill="#fb0063"/>
<circle cx="1278.4" cy="782.8" r="5.9" fill="#fb0063"/>
<circle cx="1279.9" cy="782.8" r="5.9" fill="#fb0063"/>
<circle cx="1283.5" cy="782.8" r="5.9" fill="#007cf5"/>
<circle cx="1282.5" cy="782.8" r="5.9" fill="#007cf5"/>
<circle cx="1281.4" cy="782.8" r="5.9" fill="#9135ba"/>
<circle cx="1256.1" cy="773.4" r="5.9" fill="#0084f9"/>
<circle cx="1257.2" cy="773.4" r="5.9" fill="#0084f9"/>
<circle cx="1258.4" cy="773.4" r="5.9" fill="#0084f9"/>
<circle cx="1259.5" cy="773.4" r="5.9" fill="#0084f9"/>
<circle cx="1262.7" cy="773.4" r="5.9" fill="#0084f9"/>
<circle cx="1261.7" cy="773.4" r="5.9" fill="#0084f9"/>
<circle cx="1260.7" cy="773.4" r="5.9" fill="#9135ba"/>
<circle cx="1283.5" cy="773.4" r="5.9" fill="#9135ba"/>
<circle cx="1282.2" cy="773.4" r="5.9" fill="#9135ba"/>
<circle cx="1280.9" cy="773.4" r="5.9" fill="#9135ba"/>
<circle cx="1279.5" cy="773.4" r="5.9" fill="#9135ba"/>
<circle cx="1278.2" cy="773.4" r="5.9" fill="#9135ba"/>
<circle cx="1276.9" cy="773.4" r="5.9" fill="#0084f9"/>
<circle cx="1264.0" cy="764.0" r="5.9" fill="#236cea"/>
<circle cx="1262.6" cy="764.0" r="5.9" fill="#236cea"/>
<circle cx="1261.1" cy="764.0" r="5.9" fill="#236cea"/>
<circle cx="1259.7" cy="764.0" r="5.9" fill="#236cea"/>
<circle cx="1258.3" cy="764.0" r="5.9" fill="#236cea"/>
<circle cx="1256.9" cy="764.0" r="5.9" fill="#236cea"/>
<circle cx="1255.4" cy="764.0" r="5.9" fill="#236cea"/>
<circle cx="1254.0" cy="764.0" r="5.9" fill="#0086fa"/>
<circle cx="1283.5" cy="764.0" r="5.9" fill="#6359da"/>
<circle cx="1282.2" cy="764.0" r="5.9" fill="#6359da"/>
<circle cx="1280.9" cy="764.0" r="5.9" fill="#6359da"/>
<circle cx="1279.7" cy="764.0" r="5.9" fill="#6359da"/>
<circle cx="1278.4" cy="764.0" r="5.9" fill="#d5008f"/>
<circle cx="1277.1" cy="764.0" r="5.9" fill="#d5008f"/>
<circle cx="1275.8" cy="764.0" r="5.9" fill="#9b23ad"/>
<circle cx="1254.0" cy="754.6" r="5.9" fill="#0084f9"/>
<circle cx="1255.4" cy="754.6" r="5.9" fill="#0084f9"/>
<circle cx="1256.8" cy="754.6" r="5.9" fill="#0084f9"/>
<circle cx="1258.3" cy="754.6" r="5.9" fill="#0084f9"/>
<circle cx="1259.7" cy="754.6" r="5.9" fill="#0084f9"/>
<circle cx="1261.1" cy="754.6" r="5.9" fill="#0084f9"/>
<circle cx="1262.5" cy="754.6" r="5.9" fill="#0084f9"/>
<circle cx="1263.9" cy="754.6" r="5.9" fill="#0084f9"/>
<circle cx="1265.4" cy="754.6" r="5.9" fill="#236cea"/>
<circle cx="1265.4" cy="754.6" r="5.9" fill="#236cea"/>
<circle cx="1276.9" cy="754.6" r="5.9" fill="#4b63e3"/>
<circle cx="1278.0" cy="754.6" r="5.9" fill="#4b63e3"/>
<circle cx="1279.1" cy="754.6" r="5.9" fill="#4b63e3"/>
<circle cx="1283.5" cy="754.6" r="5.9" fill="#4b63e3"/>
<circle cx="1282.4" cy="754.6" r="5.9" fill="#4b63e3"/>
<circle cx="1281.3" cy="754.6" r="5.9" fill="#4b63e3"/>
<circle cx="1280.2" cy="754.6" r="5.9" fill="#4b63e3"/>
<circle cx="368.6" cy="917.1" r="5.9" fill="#0074f0"/>
<circle cx="368.6" cy="929.1" r="5.9" fill="#f20072"/>
<circle cx="364.6" cy="941.2" r="5.9" fill="#bb00a0"/>
<circle cx="365.6" cy="941.2" r="5.9" fill="#bb00a0"/>
<circle cx="367.5" cy="941.2" r="5.9" fill="#9135ba"/>
<circle cx="366.6" cy="941.2" r="5.9" fill="#0084f9"/>
<circle cx="363.5" cy="953.3" r="5.9" fill="#0084f9"/>
<circle cx="364.9" cy="953.3" r="5.9" fill="#0084f9"/>
<circle cx="366.3" cy="953.3" r="5.9" fill="#0084f9"/>
<circle cx="367.7" cy="953.3" r="5.9" fill="#0084f9"/>
<circle cx="374.7" cy="953.3" r="5.9" fill="#9b23ad"/>
<circle cx="373.3" cy="953.3" r="5.9" fill="#9b23ad"/>
<circle cx="371.9" cy="953.3" r="5.9" fill="#9b23ad"/>
<circle cx="370.5" cy="953.3" r="5.9" fill="#9b23ad"/>
<circle cx="369.2" cy="953.3" r="5.9" fill="#f6006b"/>
<circle cx="361.7" cy="965.4" r="5.9" fill="#0084f9"/>
<circle cx="363.2" cy="965.4" r="5.9" fill="#0084f9"/>
<circle cx="364.6" cy="965.4" r="5.9" fill="#0084f9"/>
<circle cx="366.1" cy="965.4" r="5.9" fill="#0084f9"/>
<circle cx="367.5" cy="965.4" r="5.9" fill="#fe005c"/>
<circle cx="369.0" cy="965.4" r="5.9" fill="#fe005c"/>
<circle cx="370.5" cy="965.4" r="5.9" fill="#fe005c"/>
<circle cx="371.9" cy="965.4" r="5.9" fill="#fe005c"/>
<circle cx="373.4" cy="965.4" r="5.9" fill="#fe005c"/>
<circle cx="376.2" cy="965.4" r="5.9" fill="#f20072"/>
<circle cx="374.9" cy="965.4" r="5.9" fill="#f20072"/>
<circle cx="392.7" cy="965.4" r="5.9" fill="#0086fa"/>
<circle cx="356.7" cy="977.5" r="5.9" fill="#0084f9"/>
<circle cx="358.1" cy="977.5" r="5.9" fill="#0084f9"/>
<circle cx="359.6" cy="977.5" r="5.9" fill="#0084f9"/>
<circle cx="361.0" cy="977.5" r="5.9" fill="#0084f9"/>
<circle cx="362.4" cy="977.5" r="5.9" fill="#0084f9"/>
<circle cx="363.9" cy="977.5" r="5.9" fill="#0084f9"/>
<circle cx="365.3" cy="977.5" r="5.9" fill="#893dc1"/>
<circle cx="400.3" cy="977.5" r="5.9" fill="#0086fa"/>
<circle cx="398.8" cy="977.5" r="5.9" fill="#0086fa"/>
<circle cx="397.4" cy="977.5" r="5.9" fill="#0086fa"/>
<circle cx="395.9" cy="977.5" r="5.9" fill="#0086fa"/>
<circle cx="394.5" cy="977.5" r="5.9" fill="#0086fa"/>
<circle cx="393.0" cy="977.5" r="5.9" fill="#0086fa"/>
<circle cx="391.5" cy="977.5" r="5.9" fill="#0086fa"/>
<circle cx="390.1" cy="977.5" r="5.9" fill="#0086fa"/>
<circle cx="388.6" cy="977.5" r="5.9" fill="#0074f0"/>
<circle cx="387.2" cy="977.5" r="5.9" fill="#0074f0"/>
<circle cx="385.7" cy="977.5" r="5.9" fill="#0086fa"/>
<circle cx="384.3" cy="977.5" r="5.9" fill="#0086fa"/>
<circle cx="382.8" cy="977.5" r="5.9" fill="#0086fa"/>
<circle cx="381.3" cy="977.5" r="5.9" fill="#0086fa"/>
<circle cx="379.9" cy="977.5" r="5.9" fill="#0086fa"/>
<circle cx="378.4" cy="977.5" r="5.9" fill="#0086fa"/>
<circle cx="377.0" cy="977.5" r="5.9" fill="#0086fa"/>
<circle cx="375.5" cy="977.5" r="5.9" fill="#0086fa"/>
<circle cx="374.0" cy="977.5" r="5.9" fill="#0086fa"/>
<circle cx="372.6" cy="977.5" r="5.9" fill="#0086fa"/>
<circle cx="371.1" cy="977.5" r="5.9" fill="#0086fa"/>
<circle cx="369.7" cy="977.5" r="5.9" fill="#6359da"/>
<circle cx="368.2" cy="977.5" r="5.9" fill="#893dc1"/>
<circle cx="366.8" cy="977.5" r="5.9" fill="#893dc1"/>
<circle cx="368.4" cy="1050.0" r="5.9" fill="#ab15a7"/>
<circle cx="364.2" cy="1038.0" r="5.9" fill="#007cf5"/>
<circle cx="365.4" cy="1038.0" r="5.9" fill="#007cf5"/>
<circle cx="366.7" cy="1038.0" r="5.9" fill="#007cf5"/>
<circle cx="367.9" cy="1038.0" r="5.9" fill="#9b23ad"/>
<circle cx="364.6" cy="1025.9" r="5.9" fill="#007cf5"/>
<circle cx="366.0" cy="1025.9" r="5.9" fill="#007cf5"/>
<circle cx="367.4" cy="1025.9" r="5.9" fill="#007cf5"/>
<circle cx="368.7" cy="1025.9" r="5.9" fill="#007cf5"/>
<circle cx="370.1" cy="1025.9" r="5.9" fill="#d9008b"/>
<circle cx="363.5" cy="1013.8" r="5.9" fill="#007ff7"/>
<circle cx="364.9" cy="1013.8" r="5.9" fill="#007ff7"/>
<circle cx="366.3" cy="1013.8" r="5.9" fill="#007ff7"/>
<circle cx="367.7" cy="1013.8" r="5.9" fill="#007ff7"/>
<circle cx="369.1" cy="1013.8" r="5.9" fill="#007ff7"/>
<circle cx="370.5" cy="1013.8" r="5.9" fill="#fe005c"/>
<circle cx="374.4" cy="1013.8" r="5.9" fill="#fe005c"/>
<circle cx="373.1" cy="1013.8" r="5.9" fill="#fe005c"/>
<circle cx="371.9" cy="1013.8" r="5.9" fill="#fe005c"/>
<circle cx="361.3" cy="1001.7" r="5.9" fill="#007cf5"/>
<circle cx="362.8" cy="1001.7" r="5.9" fill="#007cf5"/>
<circle cx="364.2" cy="1001.7" r="5.9" fill="#007cf5"/>
<circle cx="365.7" cy="1001.7" r="5.9" fill="#007cf5"/>
<circle cx="367.1" cy="1001.7" r="5.9" fill="#007cf5"/>
<circle cx="368.6" cy="1001.7" r="5.9" fill="#007cf5"/>
<circle cx="370.0" cy="1001.7" r="5.9" fill="#972bb2"/>
<circle cx="371.5" cy="1001.7" r="5.9" fill="#972bb2"/>
<circle cx="372.9" cy="1001.7" r="5.9" fill="#972bb2"/>
<circle cx="374.4" cy="1001.7" r="5.9" fill="#972bb2"/>
<circle cx="375.8" cy="1001.7" r="5.9" fill="#972bb2"/>
<circle cx="377.3" cy="1001.7" r="5.9" fill="#972bb2"/>
<circle cx="378.7" cy="1001.7" r="5.9" fill="#972bb2"/>
<circle cx="380.2" cy="1001.7" r="5.9" fill="#972bb2"/>
<circle cx="381.6" cy="1001.7" r="5.9" fill="#972bb2"/>
<circle cx="383.1" cy="1001.7" r="5.9" fill="#972bb2"/>
<circle cx="384.5" cy="1001.7" r="5.9" fill="#972bb2"/>
<circle cx="386.0" cy="1001.7" r="5.9" fill="#972bb2"/>
<circle cx="387.4" cy="1001.7" r="5.9" fill="#972bb2"/>
<circle cx="388.9" cy="1001.7" r="5.9" fill="#0086fa"/>
<circle cx="390.3" cy="1001.7" r="5.9" fill="#0086fa"/>
<circle cx="391.8" cy="1001.7" r="5.9" fill="#0086fa"/>
<circle cx="398.5" cy="1001.7" r="5.9" fill="#0086fa"/>
<circle cx="397.2" cy="1001.7" r="5.9" fill="#0086fa"/>
<circle cx="395.9" cy="1001.7" r="5.9" fill="#0086fa"/>
<circle cx="394.6" cy="1001.7" r="5.9" fill="#0086fa"/>
<circle cx="393.2" cy="1001.7" r="5.9" fill="#0086fa"/>
<circle cx="356.7" cy="989.6" r="5.9" fill="#007ff7"/>
<circle cx="358.1" cy="989.6" r="5.9" fill="#007ff7"/>
<circle cx="359.6" cy="989.6" r="5.9" fill="#007ff7"/>
<circle cx="361.0" cy="989.6" r="5.9" fill="#007ff7"/>
<circle cx="362.5" cy="989.6" r="5.9" fill="#007ff7"/>
<circle cx="363.9" cy="989.6" r="5.9" fill="#007ff7"/>
<circle cx="365.4" cy="989.6" r="5.9" fill="#007ff7"/>
<circle cx="366.8" cy="989.6" r="5.9" fill="#007ff7"/>
<circle cx="368.2" cy="989.6" r="5.9" fill="#007ff7"/>
<circle cx="369.7" cy="989.6" r="5.9" fill="#007ff7"/>
<circle cx="371.1" cy="989.6" r="5.9" fill="#007ff7"/>
<circle cx="372.6" cy="989.6" r="5.9" fill="#007ff7"/>
<circle cx="374.0" cy="989.6" r="5.9" fill="#9b23ad"/>
<circle cx="375.4" cy="989.6" r="5.9" fill="#9b23ad"/>
<circle cx="376.9" cy="989.6" r="5.9" fill="#9b23ad"/>
<circle cx="378.3" cy="989.6" r="5.9" fill="#9b23ad"/>
<circle cx="379.8" cy="989.6" r="5.9" fill="#9b23ad"/>
<circle cx="381.2" cy="989.6" r="5.9" fill="#9b23ad"/>
<circle cx="382.7" cy="989.6" r="5.9" fill="#9b23ad"/>
<circle cx="384.1" cy="989.6" r="5.9" fill="#f90067"/>
<circle cx="385.5" cy="989.6" r="5.9" fill="#0084f9"/>
<circle cx="387.0" cy="989.6" r="5.9" fill="#0084f9"/>
<circle cx="388.4" cy="989.6" r="5.9" fill="#0084f9"/>
<circle cx="389.9" cy="989.6" r="5.9" fill="#0084f9"/>
<circle cx="391.3" cy="989.6" r="5.9" fill="#0084f9"/>
<circle cx="401.0" cy="989.6" r="5.9" fill="#0084f9"/>
<circle cx="399.6" cy="989.6" r="5.9" fill="#0084f9"/>
<circle cx="398.2" cy="989.6" r="5.9" fill="#0084f9"/>
<circle cx="396.9" cy="989.6" r="5.9" fill="#0084f9"/>
<circle cx="395.5" cy="989.6" r="5.9" fill="#0084f9"/>
<circle cx="394.1" cy="989.6" r="5.9" fill="#0084f9"/>
<circle cx="392.8" cy="989.6" r="5.9" fill="#0084f9"/>
<circle cx="699.5" cy="917.1" r="5.9" fill="#0084f9"/>
<circle cx="696.7" cy="929.1" r="5.9" fill="#0079f3"/>
<circle cx="699.6" cy="929.1" r="5.9" fill="#0079f3"/>
<circle cx="698.1" cy="929.1" r="5.9" fill="#0079f3"/>
<circle cx="697.6" cy="941.2" r="5.9" fill="#972bb2"/>
<circle cx="699.0" cy="941.2" r="5.9" fill="#972bb2"/>
<circle cx="700.4" cy="941.2" r="5.9" fill="#972bb2"/>
<circle cx="701.8" cy="941.2" r="5.9" fill="#972bb2"/>
<circle cx="708.8" cy="941.2" r="5.9" fill="#972bb2"/>
<circle cx="707.4" cy="941.2" r="5.9" fill="#972bb2"/>
<circle cx="706.0" cy="941.2" r="5.9" fill="#972bb2"/>
<circle cx="704.6" cy="941.2" r="5.9" fill="#972bb2"/>
<circle cx="703.2" cy="941.2" r="5.9" fill="#972bb2"/>
<circle cx="612.1" cy="953.3" r="5.9" fill="#0086fa"/>
<circle cx="687.6" cy="953.3" r="5.9" fill="#754fd1"/>
<circle cx="688.6" cy="953.3" r="5.9" fill="#754fd1"/>
<circle cx="724.8" cy="953.3" r="5.9" fill="#007ff7"/>
<circle cx="723.3" cy="953.3" r="5.9" fill="#007ff7"/>
<circle cx="721.9" cy="953.3" r="5.9" fill="#007ff7"/>
<circle cx="720.4" cy="953.3" r="5.9" fill="#007ff7"/>
<circle cx="719.0" cy="953.3" r="5.9" fill="#007ff7"/>
<circle cx="717.5" cy="953.3" r="5.9" fill="#007ff7"/>
<circle cx="716.0" cy="953.3" r="5.9" fill="#007ff7"/>
<circle cx="714.6" cy="953.3" r="5.9" fill="#007ff7"/>
<circle cx="713.1" cy="953.3" r="5.9" fill="#0084f9"/>
<circle cx="711.6" cy="953.3" r="5.9" fill="#0084f9"/>
<circle cx="710.2" cy="953.3" r="5.9" fill="#0084f9"/>
<circle cx="708.7" cy="953.3" r="5.9" fill="#0084f9"/>
<circle cx="707.2" cy="953.3" r="5.9" fill="#0084f9"/>
<circle cx="705.8" cy="953.3" r="5.9" fill="#bb00a0"/>
<circle cx="704.3" cy="953.3" r="5.9" fill="#bb00a0"/>
<circle cx="702.9" cy="953.3" r="5.9" fill="#bb00a0"/>
<circle cx="701.4" cy="953.3" r="5.9" fill="#bb00a0"/>
<circle cx="699.9" cy="953.3" r="5.9" fill="#bb00a0"/>
<circle cx="698.5" cy="953.3" r="5.9" fill="#bb00a0"/>
<circle cx="697.0" cy="953.3" r="5.9" fill="#0084f9"/>
<circle cx="695.5" cy="953.3" r="5.9" fill="#0084f9"/>
<circle cx="694.1" cy="953.3" r="5.9" fill="#0084f9"/>
<circle cx="692.6" cy="953.3" r="5.9" fill="#0084f9"/>
<circle cx="691.2" cy="953.3" r="5.9" fill="#754fd1"/>
<circle cx="689.7" cy="953.3" r="5.9" fill="#754fd1"/>
<circle cx="550.6" cy="965.4" r="5.9" fill="#0086fa"/>
<circle cx="592.7" cy="965.4" r="5.9" fill="#6e53d5"/>
<circle cx="591.3" cy="965.4" r="5.9" fill="#6e53d5"/>
<circle cx="589.9" cy="965.4" r="5.9" fill="#6e53d5"/>
<circle cx="588.5" cy="965.4" r="5.9" fill="#6e53d5"/>
<circle cx="587.1" cy="965.4" r="5.9" fill="#6e53d5"/>
<circle cx="585.7" cy="965.4" r="5.9" fill="#6e53d5"/>
<circle cx="584.3" cy="965.4" r="5.9" fill="#6e53d5"/>
<circle cx="582.9" cy="965.4" r="5.9" fill="#0086fa"/>
<circle cx="612.1" cy="965.4" r="5.9" fill="#0084f9"/>
<circle cx="645.1" cy="965.4" r="5.9" fill="#0074f0"/>
<circle cx="673.5" cy="965.4" r="5.9" fill="#ab15a7"/>
<circle cx="672.2" cy="965.4" r="5.9" fill="#ab15a7"/>
<circle cx="670.9" cy="965.4" r="5.9" fill="#ab15a7"/>
<circle cx="669.5" cy="965.4" r="5.9" fill="#ab15a7"/>
<circle cx="668.2" cy="965.4" r="5.9" fill="#ab15a7"/>
<circle cx="666.9" cy="965.4" r="5.9" fill="#fe005c"/>
<circle cx="686.6" cy="965.4" r="5.9" fill="#007ff7"/>
<circle cx="687.5" cy="965.4" r="5.9" fill="#007ff7"/>
<circle cx="723.0" cy="965.4" r="5.9" fill="#fe005c"/>
<circle cx="721.6" cy="965.4" r="5.9" fill="#fe005c"/>
<circle cx="720.1" cy="965.4" r="5.9" fill="#fe005c"/>
<circle cx="718.7" cy="965.4" r="5.9" fill="#fe005c"/>
<circle cx="717.2" cy="965.4" r="5.9" fill="#fe005c"/>
<circle cx="715.8" cy="965.4" r="5.9" fill="#fe005c"/>
<circle cx="714.3" cy="965.4" r="5.9" fill="#fe005c"/>
<circle cx="712.9" cy="965.4" r="5.9" fill="#fe005c"/>
<circle cx="711.4" cy="965.4" r="5.9" fill="#8443c6"/>
<circle cx="710.0" cy="965.4" r="5.9" fill="#8443c6"/>
<circle cx="708.5" cy="965.4" r="5.9" fill="#8443c6"/>
<circle cx="707.1" cy="965.4" r="5.9" fill="#0084f9"/>
<circle cx="705.6" cy="965.4" r="5.9" fill="#0084f9"/>
<circle cx="704.2" cy="965.4" r="5.9" fill="#0084f9"/>
<circle cx="702.8" cy="965.4" r="5.9" fill="#0084f9"/>
<circle cx="701.3" cy="965.4" r="5.9" fill="#0084f9"/>
<circle cx="699.9" cy="965.4" r="5.9" fill="#0084f9"/>
<circle cx="698.4" cy="965.4" r="5.9" fill="#0084f9"/>
<circle cx="697.0" cy="965.4" r="5.9" fill="#0084f9"/>
<circle cx="695.5" cy="965.4" r="5.9" fill="#754fd1"/>
<circle cx="694.1" cy="965.4" r="5.9" fill="#754fd1"/>
<circle cx="692.6" cy="965.4" r="5.9" fill="#754fd1"/>
<circle cx="691.2" cy="965.4" r="5.9" fill="#754fd1"/>
<circle cx="689.7" cy="965.4" r="5.9" fill="#007ff7"/>
<circle cx="688.3" cy="965.4" r="5.9" fill="#007ff7"/>
<circle cx="745.4" cy="965.4" r="5.9" fill="#0086fa"/>
<circle cx="546.2" cy="977.5" r="5.9" fill="#0086fa"/>
<circle cx="547.7" cy="977.5" r="5.9" fill="#0086fa"/>
<circle cx="547.0" cy="977.5" r="5.9" fill="#0086fa"/>
<circle cx="563.7" cy="977.5" r="5.9" fill="#754fd1"/>
<circle cx="565.2" cy="977.5" r="5.9" fill="#754fd1"/>
<circle cx="566.6" cy="977.5" r="5.9" fill="#754fd1"/>
<circle cx="568.1" cy="977.5" r="5.9" fill="#754fd1"/>
<circle cx="569.6" cy="977.5" r="5.9" fill="#754fd1"/>
<circle cx="571.1" cy="977.5" r="5.9" fill="#754fd1"/>
<circle cx="572.5" cy="977.5" r="5.9" fill="#754fd1"/>
<circle cx="574.0" cy="977.5" r="5.9" fill="#0084f9"/>
<circle cx="575.5" cy="977.5" r="5.9" fill="#0084f9"/>
<circle cx="577.0" cy="977.5" r="5.9" fill="#0084f9"/>
<circle cx="578.4" cy="977.5" r="5.9" fill="#0084f9"/>
<circle cx="579.9" cy="977.5" r="5.9" fill="#0084f9"/>
<circle cx="581.4" cy="977.5" r="5.9" fill="#0084f9"/>
<circle cx="582.9" cy="977.5" r="5.9" fill="#0084f9"/>
<circle cx="584.3" cy="977.5" r="5.9" fill="#0074f0"/>
<circle cx="585.8" cy="977.5" r="5.9" fill="#0074f0"/>
<circle cx="587.3" cy="977.5" r="5.9" fill="#0074f0"/>
<circle cx="588.8" cy="977.5" r="5.9" fill="#0074f0"/>
<circle cx="590.2" cy="977.5" r="5.9" fill="#0074f0"/>
<circle cx="614.3" cy="977.5" r="5.9" fill="#0084f9"/>
<circle cx="612.9" cy="977.5" r="5.9" fill="#0084f9"/>
<circle cx="611.5" cy="977.5" r="5.9" fill="#0084f9"/>
<circle cx="610.1" cy="977.5" r="5.9" fill="#0084f9"/>
<circle cx="608.6" cy="977.5" r="5.9" fill="#0084f9"/>
<circle cx="607.2" cy="977.5" r="5.9" fill="#0084f9"/>
<circle cx="605.8" cy="977.5" r="5.9" fill="#0084f9"/>
<circle cx="604.4" cy="977.5" r="5.9" fill="#0084f9"/>
<circle cx="603.0" cy="977.5" r="5.9" fill="#0084f9"/>
<circle cx="601.6" cy="977.5" r="5.9" fill="#0084f9"/>
<circle cx="600.2" cy="977.5" r="5.9" fill="#0074f0"/>
<circle cx="598.8" cy="977.5" r="5.9" fill="#0074f0"/>
<circle cx="597.4" cy="977.5" r="5.9" fill="#0074f0"/>
<circle cx="595.9" cy="977.5" r="5.9" fill="#0074f0"/>
<circle cx="594.5" cy="977.5" r="5.9" fill="#0074f0"/>
<circle cx="593.1" cy="977.5" r="5.9" fill="#0074f0"/>
<circle cx="591.7" cy="977.5" r="5.9" fill="#0074f0"/>
<circle cx="626.5" cy="977.5" r="5.9" fill="#fe005c"/>
<circle cx="627.8" cy="977.5" r="5.9" fill="#fe005c"/>
<circle cx="631.7" cy="977.5" r="5.9" fill="#fe005c"/>
<circle cx="630.4" cy="977.5" r="5.9" fill="#fe005c"/>
<circle cx="629.1" cy="977.5" r="5.9" fill="#fe005c"/>
<circle cx="645.8" cy="977.5" r="5.9" fill="#0084f9"/>
<circle cx="647.3" cy="977.5" r="5.9" fill="#0084f9"/>
<circle cx="648.8" cy="977.5" r="5.9" fill="#0084f9"/>
<circle cx="650.3" cy="977.5" r="5.9" fill="#0084f9"/>
<circle cx="651.8" cy="977.5" r="5.9" fill="#0084f9"/>
<circle cx="653.3" cy="977.5" r="5.9" fill="#0084f9"/>
<circle cx="654.8" cy="977.5" r="5.9" fill="#0084f9"/>
<circle cx="656.3" cy="977.5" r="5.9" fill="#0084f9"/>
<circle cx="657.8" cy="977.5" r="5.9" fill="#9b23ad"/>
<circle cx="659.3" cy="977.5" r="5.9" fill="#0084f9"/>
<circle cx="660.8" cy="977.5" r="5.9" fill="#0084f9"/>
<circle cx="662.3" cy="977.5" r="5.9" fill="#0084f9"/>
<circle cx="663.8" cy="977.5" r="5.9" fill="#0084f9"/>
<circle cx="665.3" cy="977.5" r="5.9" fill="#0084f9"/>
<circle cx="666.8" cy="977.5" r="5.9" fill="#0084f9"/>
<circle cx="668.3" cy="977.5" r="5.9" fill="#0084f9"/>
<circle cx="669.8" cy="977.5" r="5.9" fill="#0084f9"/>
<circle cx="671.3" cy="977.5" r="5.9" fill="#0084f9"/>
<circle cx="672.7" cy="977.5" r="5.9" fill="#0084f9"/>
<circle cx="674.2" cy="977.5" r="5.9" fill="#0084f9"/>
<circle cx="675.7" cy="977.5" r="5.9" fill="#0084f9"/>
<circle cx="677.2" cy="977.5" r="5.9" fill="#0084f9"/>
<circle cx="678.7" cy="977.5" r="5.9" fill="#0084f9"/>
<circle cx="680.2" cy="977.5" r="5.9" fill="#bb00a0"/>
<circle cx="681.7" cy="977.5" r="5.9" fill="#bb00a0"/>
<circle cx="683.2" cy="977.5" r="5.9" fill="#bb00a0"/>
<circle cx="684.7" cy="977.5" r="5.9" fill="#bb00a0"/>
<circle cx="686.2" cy="977.5" r="5.9" fill="#754fd1"/>
<circle cx="687.7" cy="977.5" r="5.9" fill="#754fd1"/>
<circle cx="689.2" cy="977.5" r="5.9" fill="#754fd1"/>
<circle cx="690.7" cy="977.5" r="5.9" fill="#754fd1"/>
<circle cx="692.2" cy="977.5" r="5.9" fill="#754fd1"/>
<circle cx="693.7" cy="977.5" r="5.9" fill="#754fd1"/>
<circle cx="695.2" cy="977.5" r="5.9" fill="#754fd1"/>
<circle cx="696.7" cy="977.5" r="5.9" fill="#754fd1"/>
<circle cx="698.2" cy="977.5" r="5.9" fill="#754fd1"/>
<circle cx="699.7" cy="977.5" r="5.9" fill="#754fd1"/>
<circle cx="701.2" cy="977.5" r="5.9" fill="#754fd1"/>
<circle cx="702.7" cy="977.5" r="5.9" fill="#754fd1"/>
<circle cx="704.2" cy="977.5" r="5.9" fill="#754fd1"/>
<circle cx="705.7" cy="977.5" r="5.9" fill="#754fd1"/>
<circle cx="707.2" cy="977.5" r="5.9" fill="#754fd1"/>
<circle cx="708.7" cy="977.5" r="5.9" fill="#c0009c"/>
<circle cx="710.2" cy="977.5" r="5.9" fill="#c0009c"/>
<circle cx="711.7" cy="977.5" r="5.9" fill="#c0009c"/>
<circle cx="713.2" cy="977.5" r="5.9" fill="#c0009c"/>
<circle cx="714.7" cy="977.5" r="5.9" fill="#c0009c"/>
<circle cx="716.2" cy="977.5" r="5.9" fill="#c0009c"/>
<circle cx="717.7" cy="977.5" r="5.9" fill="#c0009c"/>
<circle cx="719.2" cy="977.5" r="5.9" fill="#c0009c"/>
<circle cx="720.7" cy="977.5" r="5.9" fill="#c0009c"/>
<circle cx="722.2" cy="977.5" r="5.9" fill="#0084f9"/>
<circle cx="723.6" cy="977.5" r="5.9" fill="#0084f9"/>
<circle cx="725.1" cy="977.5" r="5.9" fill="#0084f9"/>
<circle cx="726.6" cy="977.5" r="5.9" fill="#0084f9"/>
<circle cx="728.1" cy="977.5" r="5.9" fill="#0084f9"/>
<circle cx="729.6" cy="977.5" r="5.9" fill="#0084f9"/>
<circle cx="731.1" cy="977.5" r="5.9" fill="#9b23ad"/>
<circle cx="732.6" cy="977.5" r="5.9" fill="#9b23ad"/>
<circle cx="734.1" cy="977.5" r="5.9" fill="#9b23ad"/>
<circle cx="735.6" cy="977.5" r="5.9" fill="#9b23ad"/>
<circle cx="737.1" cy="977.5" r="5.9" fill="#9b23ad"/>
<circle cx="738.6" cy="977.5" r="5.9" fill="#9b23ad"/>
<circle cx="740.1" cy="977.5" r="5.9" fill="#9b23ad"/>
<circle cx="741.6" cy="977.5" r="5.9" fill="#0084f9"/>
<circle cx="743.1" cy="977.5" r="5.9" fill="#0084f9"/>
<circle cx="744.6" cy="977.5" r="5.9" fill="#0084f9"/>
<circle cx="746.1" cy="977.5" r="5.9" fill="#0084f9"/>
<circle cx="747.6" cy="977.5" r="5.9" fill="#0084f9"/>
<circle cx="757.9" cy="977.5" r="5.9" fill="#0084f9"/>
<circle cx="756.4" cy="977.5" r="5.9" fill="#0084f9"/>
<circle cx="755.0" cy="977.5" r="5.9" fill="#0084f9"/>
<circle cx="753.5" cy="977.5" r="5.9" fill="#0084f9"/>
<circle cx="752.0" cy="977.5" r="5.9" fill="#0084f9"/>
<circle cx="750.6" cy="977.5" r="5.9" fill="#0084f9"/>
<circle cx="749.1" cy="977.5" r="5.9" fill="#0084f9"/>
<circle cx="697.2" cy="1050.0" r="5.9" fill="#0086fa"/>
<circle cx="699.1" cy="1050.0" r="5.9" fill="#0086fa"/>
<circle cx="698.1" cy="1050.0" r="5.9" fill="#0086fa"/>
<circle cx="697.2" cy="1038.0" r="5.9" fill="#0084f9"/>
<circle cx="699.1" cy="1038.0" r="5.9" fill="#0084f9"/>
<circle cx="698.1" cy="1038.0" r="5.9" fill="#0084f9"/>
<circle cx="687.1" cy="1025.9" r="5.9" fill="#754fd1"/>
<circle cx="688.6" cy="1025.9" r="5.9" fill="#754fd1"/>
<circle cx="690.0" cy="1025.9" r="5.9" fill="#754fd1"/>
<circle cx="691.5" cy="1025.9" r="5.9" fill="#754fd1"/>
<circle cx="693.0" cy="1025.9" r="5.9" fill="#754fd1"/>
<circle cx="694.5" cy="1025.9" r="5.9" fill="#754fd1"/>
<circle cx="695.9" cy="1025.9" r="5.9" fill="#0084f9"/>
<circle cx="697.4" cy="1025.9" r="5.9" fill="#0084f9"/>
<circle cx="698.9" cy="1025.9" r="5.9" fill="#0084f9"/>
<circle cx="700.4" cy="1025.9" r="5.9" fill="#0084f9"/>
<circle cx="701.8" cy="1025.9" r="5.9" fill="#0084f9"/>
<circle cx="703.3" cy="1025.9" r="5.9" fill="#0084f9"/>
<circle cx="704.8" cy="1025.9" r="5.9" fill="#0084f9"/>
<circle cx="706.3" cy="1025.9" r="5.9" fill="#f90067"/>
<circle cx="707.7" cy="1025.9" r="5.9" fill="#f90067"/>
<circle cx="709.2" cy="1025.9" r="5.9" fill="#7e48ca"/>
<circle cx="593.3" cy="1013.8" r="5.9" fill="#0086fa"/>
<circle cx="612.9" cy="1013.8" r="5.9" fill="#007ff7"/>
<circle cx="667.4" cy="1013.8" r="5.9" fill="#7e48ca"/>
<circle cx="687.6" cy="1013.8" r="5.9" fill="#9135ba"/>
<circle cx="723.9" cy="1013.8" r="5.9" fill="#007cf5"/>
<circle cx="722.4" cy="1013.8" r="5.9" fill="#007cf5"/>
<circle cx="721.0" cy="1013.8" r="5.9" fill="#007cf5"/>
<circle cx="719.5" cy="1013.8" r="5.9" fill="#007cf5"/>
<circle cx="718.0" cy="1013.8" r="5.9" fill="#ab15a7"/>
<circle cx="716.6" cy="1013.8" r="5.9" fill="#ab15a7"/>
<circle cx="715.1" cy="1013.8" r="5.9" fill="#ab15a7"/>
<circle cx="713.7" cy="1013.8" r="5.9" fill="#ab15a7"/>
<circle cx="712.2" cy="1013.8" r="5.9" fill="#0084f9"/>
<circle cx="710.7" cy="1013.8" r="5.9" fill="#0084f9"/>
<circle cx="709.3" cy="1013.8" r="5.9" fill="#0084f9"/>
<circle cx="707.8" cy="1013.8" r="5.9" fill="#0084f9"/>
<circle cx="706.4" cy="1013.8" r="5.9" fill="#9b23ad"/>
<circle cx="704.9" cy="1013.8" r="5.9" fill="#9b23ad"/>
<circle cx="703.4" cy="1013.8" r="5.9" fill="#9b23ad"/>
<circle cx="702.0" cy="1013.8" r="5.9" fill="#9b23ad"/>
<circle cx="700.5" cy="1013.8" r="5.9" fill="#9b23ad"/>
<circle cx="699.0" cy="1013.8" r="5.9" fill="#9b23ad"/>
<circle cx="697.6" cy="1013.8" r="5.9" fill="#9b23ad"/>
<circle cx="696.1" cy="1013.8" r="5.9" fill="#9b23ad"/>
<circle cx="694.6" cy="1013.8" r="5.9" fill="#f6006b"/>
<circle cx="693.2" cy="1013.8" r="5.9" fill="#f6006b"/>
<circle cx="691.7" cy="1013.8" r="5.9" fill="#f6006b"/>
<circle cx="690.3" cy="1013.8" r="5.9" fill="#f6006b"/>
<circle cx="688.8" cy="1013.8" r="5.9" fill="#9135ba"/>
<circle cx="545.8" cy="1001.7" r="5.9" fill="#c80098"/>
<circle cx="546.9" cy="1001.7" r="5.9" fill="#c80098"/>
<circle cx="550.0" cy="1001.7" r="5.9" fill="#c80098"/>
<circle cx="549.0" cy="1001.7" r="5.9" fill="#c80098"/>
<circle cx="547.9" cy="1001.7" r="5.9" fill="#c80098"/>
<circle cx="583.9" cy="1001.7" r="5.9" fill="#236cea"/>
<circle cx="585.2" cy="1001.7" r="5.9" fill="#236cea"/>
<circle cx="586.5" cy="1001.7" r="5.9" fill="#236cea"/>
<circle cx="587.8" cy="1001.7" r="5.9" fill="#236cea"/>
<circle cx="610.1" cy="1001.7" r="5.9" fill="#9b23ad"/>
<circle cx="608.7" cy="1001.7" r="5.9" fill="#9b23ad"/>
<circle cx="607.3" cy="1001.7" r="5.9" fill="#9b23ad"/>
<circle cx="605.9" cy="1001.7" r="5.9" fill="#9b23ad"/>
<circle cx="604.5" cy="1001.7" r="5.9" fill="#9b23ad"/>
<circle cx="603.1" cy="1001.7" r="5.9" fill="#9b23ad"/>
<circle cx="601.7" cy="1001.7" r="5.9" fill="#9b23ad"/>
<circle cx="600.3" cy="1001.7" r="5.9" fill="#b508a3"/>
<circle cx="598.9" cy="1001.7" r="5.9" fill="#b508a3"/>
<circle cx="597.5" cy="1001.7" r="5.9" fill="#b508a3"/>
<circle cx="596.1" cy="1001.7" r="5.9" fill="#b508a3"/>
<circle cx="594.7" cy="1001.7" r="5.9" fill="#b508a3"/>
<circle cx="593.3" cy="1001.7" r="5.9" fill="#0084f9"/>
<circle cx="591.9" cy="1001.7" r="5.9" fill="#0084f9"/>
<circle cx="590.5" cy="1001.7" r="5.9" fill="#0084f9"/>
<circle cx="589.0" cy="1001.7" r="5.9" fill="#a21eaa"/>
<circle cx="646.2" cy="1001.7" r="5.9" fill="#f90067"/>
<circle cx="647.6" cy="1001.7" r="5.9" fill="#f90067"/>
<circle cx="649.0" cy="1001.7" r="5.9" fill="#f90067"/>
<circle cx="650.4" cy="1001.7" r="5.9" fill="#f90067"/>
<circle cx="651.8" cy="1001.7" r="5.9" fill="#f90067"/>
<circle cx="653.2" cy="1001.7" r="5.9" fill="#0084f9"/>
<circle cx="654.6" cy="1001.7" r="5.9" fill="#0084f9"/>
<circle cx="671.6" cy="1001.7" r="5.9" fill="#007ff7"/>
<circle cx="670.2" cy="1001.7" r="5.9" fill="#007ff7"/>
<circle cx="668.8" cy="1001.7" r="5.9" fill="#007ff7"/>
<circle cx="667.4" cy="1001.7" r="5.9" fill="#007ff7"/>
<circle cx="665.9" cy="1001.7" r="5.9" fill="#f90067"/>
<circle cx="664.5" cy="1001.7" r="5.9" fill="#f90067"/>
<circle cx="663.1" cy="1001.7" r="5.9" fill="#f90067"/>
<circle cx="661.7" cy="1001.7" r="5.9" fill="#f90067"/>
<circle cx="660.3" cy="1001.7" r="5.9" fill="#f90067"/>
<circle cx="658.9" cy="1001.7" r="5.9" fill="#0084f9"/>
<circle cx="657.5" cy="1001.7" r="5.9" fill="#0084f9"/>
<circle cx="656.0" cy="1001.7" r="5.9" fill="#0084f9"/>
<circle cx="687.6" cy="1001.7" r="5.9" fill="#ab15a7"/>
<circle cx="689.0" cy="1001.7" r="5.9" fill="#ab15a7"/>
<circle cx="690.5" cy="1001.7" r="5.9" fill="#ab15a7"/>
<circle cx="691.9" cy="1001.7" r="5.9" fill="#ab15a7"/>
<circle cx="693.4" cy="1001.7" r="5.9" fill="#ab15a7"/>
<circle cx="694.8" cy="1001.7" r="5.9" fill="#ab15a7"/>
<circle cx="696.3" cy="1001.7" r="5.9" fill="#ab15a7"/>
<circle cx="697.7" cy="1001.7" r="5.9" fill="#ab15a7"/>
<circle cx="699.1" cy="1001.7" r="5.9" fill="#ab15a7"/>
<circle cx="700.6" cy="1001.7" r="5.9" fill="#ab15a7"/>
<circle cx="702.0" cy="1001.7" r="5.9" fill="#e00086"/>
<circle cx="703.5" cy="1001.7" r="5.9" fill="#e00086"/>
<circle cx="704.9" cy="1001.7" r="5.9" fill="#e00086"/>
<circle cx="706.4" cy="1001.7" r="5.9" fill="#e00086"/>
<circle cx="707.8" cy="1001.7" r="5.9" fill="#e00086"/>
<circle cx="709.3" cy="1001.7" r="5.9" fill="#e00086"/>
<circle cx="710.7" cy="1001.7" r="5.9" fill="#754fd1"/>
<circle cx="712.1" cy="1001.7" r="5.9" fill="#754fd1"/>
<circle cx="713.6" cy="1001.7" r="5.9" fill="#754fd1"/>
<circle cx="715.0" cy="1001.7" r="5.9" fill="#754fd1"/>
<circle cx="716.5" cy="1001.7" r="5.9" fill="#754fd1"/>
<circle cx="717.9" cy="1001.7" r="5.9" fill="#754fd1"/>
<circle cx="719.4" cy="1001.7" r="5.9" fill="#0084f9"/>
<circle cx="723.0" cy="1001.7" r="5.9" fill="#0084f9"/>
<circle cx="721.9" cy="1001.7" r="5.9" fill="#0084f9"/>
<circle cx="720.8" cy="1001.7" r="5.9" fill="#0084f9"/>
<circle cx="739.4" cy="1001.7" r="5.9" fill="#0084f9"/>
<circle cx="740.6" cy="1001.7" r="5.9" fill="#0084f9"/>
<circle cx="744.1" cy="1001.7" r="5.9" fill="#0084f9"/>
<circle cx="742.9" cy="1001.7" r="5.9" fill="#0084f9"/>
<circle cx="741.8" cy="1001.7" r="5.9" fill="#0084f9"/>
<circle cx="757.5" cy="1001.7" r="5.9" fill="#fb0063"/>
<circle cx="543.9" cy="989.6" r="5.9" fill="#6359da"/>
<circle cx="545.4" cy="989.6" r="5.9" fill="#6359da"/>
<circle cx="546.8" cy="989.6" r="5.9" fill="#6359da"/>
<circle cx="548.3" cy="989.6" r="5.9" fill="#6359da"/>
<circle cx="549.8" cy="989.6" r="5.9" fill="#6359da"/>
<circle cx="551.3" cy="989.6" r="5.9" fill="#6359da"/>
<circle cx="552.7" cy="989.6" r="5.9" fill="#6359da"/>
<circle cx="554.2" cy="989.6" r="5.9" fill="#6359da"/>
<circle cx="555.7" cy="989.6" r="5.9" fill="#6359da"/>
<circle cx="557.1" cy="989.6" r="5.9" fill="#6359da"/>
<circle cx="558.6" cy="989.6" r="5.9" fill="#6359da"/>
<circle cx="560.1" cy="989.6" r="5.9" fill="#6359da"/>
<circle cx="561.6" cy="989.6" r="5.9" fill="#6359da"/>
<circle cx="563.0" cy="989.6" r="5.9" fill="#6359da"/>
<circle cx="564.5" cy="989.6" r="5.9" fill="#6359da"/>
<circle cx="566.0" cy="989.6" r="5.9" fill="#0084f9"/>
<circle cx="567.5" cy="989.6" r="5.9" fill="#0084f9"/>
<circle cx="568.9" cy="989.6" r="5.9" fill="#0084f9"/>
<circle cx="570.4" cy="989.6" r="5.9" fill="#0084f9"/>
<circle cx="571.9" cy="989.6" r="5.9" fill="#0084f9"/>
<circle cx="573.3" cy="989.6" r="5.9" fill="#0084f9"/>
<circle cx="574.8" cy="989.6" r="5.9" fill="#0084f9"/>
<circle cx="576.3" cy="989.6" r="5.9" fill="#0084f9"/>
<circle cx="577.8" cy="989.6" r="5.9" fill="#0084f9"/>
<circle cx="579.2" cy="989.6" r="5.9" fill="#0084f9"/>
<circle cx="757.9" cy="989.6" r="5.9" fill="#0084f9"/>
<circle cx="756.4" cy="989.6" r="5.9" fill="#0084f9"/>
<circle cx="754.9" cy="989.6" r="5.9" fill="#0084f9"/>
<circle cx="753.4" cy="989.6" r="5.9" fill="#0084f9"/>
<circle cx="751.9" cy="989.6" r="5.9" fill="#0084f9"/>
<circle cx="750.5" cy="989.6" r="5.9" fill="#0084f9"/>
<circle cx="749.0" cy="989.6" r="5.9" fill="#0084f9"/>
<circle cx="747.5" cy="989.6" r="5.9" fill="#0084f9"/>
<circle cx="746.0" cy="989.6" r="5.9" fill="#0084f9"/>
<circle cx="744.5" cy="989.6" r="5.9" fill="#0084f9"/>
<circle cx="743.0" cy="989.6" r="5.9" fill="#0084f9"/>
<circle cx="741.5" cy="989.6" r="5.9" fill="#0084f9"/>
<circle cx="740.0" cy="989.6" r="5.9" fill="#fe005c"/>
<circle cx="738.5" cy="989.6" r="5.9" fill="#fe005c"/>
<circle cx="737.1" cy="989.6" r="5.9" fill="#fe005c"/>
<circle cx="735.6" cy="989.6" r="5.9" fill="#fe005c"/>
<circle cx="734.1" cy="989.6" r="5.9" fill="#fe005c"/>
<circle cx="732.6" cy="989.6" r="5.9" fill="#fe005c"/>
<circle cx="731.1" cy="989.6" r="5.9" fill="#fe005c"/>
<circle cx="729.6" cy="989.6" r="5.9" fill="#5a5dde"/>
<circle cx="728.1" cy="989.6" r="5.9" fill="#5a5dde"/>
<circle cx="726.6" cy="989.6" r="5.9" fill="#5a5dde"/>
<circle cx="725.1" cy="989.6" r="5.9" fill="#5a5dde"/>
<circle cx="723.7" cy="989.6" r="5.9" fill="#5a5dde"/>
<circle cx="722.2" cy="989.6" r="5.9" fill="#5a5dde"/>
<circle cx="720.7" cy="989.6" r="5.9" fill="#5a5dde"/>
<circle cx="719.2" cy="989.6" r="5.9" fill="#5a5dde"/>
<circle cx="717.7" cy="989.6" r="5.9" fill="#5a5dde"/>
<circle cx="716.2" cy="989.6" r="5.9" fill="#f20072"/>
<circle cx="714.7" cy="989.6" r="5.9" fill="#f20072"/>
<circle cx="713.2" cy="989.6" r="5.9" fill="#f20072"/>
<circle cx="711.7" cy="989.6" r="5.9" fill="#f20072"/>
<circle cx="710.2" cy="989.6" r="5.9" fill="#f20072"/>
<circle cx="708.8" cy="989.6" r="5.9" fill="#9135ba"/>
<circle cx="707.3" cy="989.6" r="5.9" fill="#9135ba"/>
<circle cx="705.8" cy="989.6" r="5.9" fill="#9135ba"/>
<circle cx="704.3" cy="989.6" r="5.9" fill="#9135ba"/>
<circle cx="702.8" cy="989.6" r="5.9" fill="#9135ba"/>
<circle cx="701.3" cy="989.6" r="5.9" fill="#9135ba"/>
<circle cx="699.8" cy="989.6" r="5.9" fill="#9135ba"/>
<circle cx="698.3" cy="989.6" r="5.9" fill="#9135ba"/>
<circle cx="696.8" cy="989.6" r="5.9" fill="#9135ba"/>
<circle cx="695.4" cy="989.6" r="5.9" fill="#9135ba"/>
<circle cx="693.9" cy="989.6" r="5.9" fill="#9135ba"/>
<circle cx="692.4" cy="989.6" r="5.9" fill="#9135ba"/>
<circle cx="690.9" cy="989.6" r="5.9" fill="#9135ba"/>
<circle cx="689.4" cy="989.6" r="5.9" fill="#9135ba"/>
<circle cx="687.9" cy="989.6" r="5.9" fill="#0086fa"/>
<circle cx="686.4" cy="989.6" r="5.9" fill="#0086fa"/>
<circle cx="684.9" cy="989.6" r="5.9" fill="#0086fa"/>
<circle cx="683.4" cy="989.6" r="5.9" fill="#0086fa"/>
<circle cx="682.0" cy="989.6" r="5.9" fill="#0086fa"/>
<circle cx="680.5" cy="989.6" r="5.9" fill="#0086fa"/>
<circle cx="679.0" cy="989.6" r="5.9" fill="#0086fa"/>
<circle cx="677.5" cy="989.6" r="5.9" fill="#0086fa"/>
<circle cx="676.0" cy="989.6" r="5.9" fill="#7e48ca"/>
<circle cx="674.5" cy="989.6" r="5.9" fill="#7e48ca"/>
<circle cx="673.0" cy="989.6" r="5.9" fill="#7e48ca"/>
<circle cx="671.5" cy="989.6" r="5.9" fill="#7e48ca"/>
<circle cx="670.0" cy="989.6" r="5.9" fill="#7e48ca"/>
<circle cx="668.6" cy="989.6" r="5.9" fill="#7e48ca"/>
<circle cx="667.1" cy="989.6" r="5.9" fill="#7e48ca"/>
<circle cx="665.6" cy="989.6" r="5.9" fill="#bb00a0"/>
<circle cx="664.1" cy="989.6" r="5.9" fill="#bb00a0"/>
<circle cx="662.6" cy="989.6" r="5.9" fill="#bb00a0"/>
<circle cx="661.1" cy="989.6" r="5.9" fill="#bb00a0"/>
<circle cx="659.6" cy="989.6" r="5.9" fill="#0084f9"/>
<circle cx="658.1" cy="989.6" r="5.9" fill="#0084f9"/>
<circle cx="656.6" cy="989.6" r="5.9" fill="#0084f9"/>
<circle cx="655.2" cy="989.6" r="5.9" fill="#0084f9"/>
<circle cx="653.7" cy="989.6" r="5.9" fill="#0084f9"/>
<circle cx="652.2" cy="989.6" r="5.9" fill="#0084f9"/>
<circle cx="650.7" cy="989.6" r="5.9" fill="#0084f9"/>
<circle cx="649.2" cy="989.6" r="5.9" fill="#0084f9"/>
<circle cx="647.7" cy="989.6" r="5.9" fill="#0084f9"/>
<circle cx="646.2" cy="989.6" r="5.9" fill="#7e48ca"/>
<circle cx="644.7" cy="989.6" r="5.9" fill="#7e48ca"/>
<circle cx="643.2" cy="989.6" r="5.9" fill="#7e48ca"/>
<circle cx="641.8" cy="989.6" r="5.9" fill="#7e48ca"/>
<circle cx="640.3" cy="989.6" r="5.9" fill="#7e48ca"/>
<circle cx="638.8" cy="989.6" r="5.9" fill="#7e48ca"/>
<circle cx="637.3" cy="989.6" r="5.9" fill="#7e48ca"/>
<circle cx="635.8" cy="989.6" r="5.9" fill="#7e48ca"/>
<circle cx="634.3" cy="989.6" r="5.9" fill="#7e48ca"/>
<circle cx="632.8" cy="989.6" r="5.9" fill="#ab15a7"/>
<circle cx="631.3" cy="989.6" r="5.9" fill="#ab15a7"/>
<circle cx="629.8" cy="989.6" r="5.9" fill="#ab15a7"/>
<circle cx="628.4" cy="989.6" r="5.9" fill="#ab15a7"/>
<circle cx="626.9" cy="989.6" r="5.9" fill="#ab15a7"/>
<circle cx="625.4" cy="989.6" r="5.9" fill="#ab15a7"/>
<circle cx="623.9" cy="989.6" r="5.9" fill="#ab15a7"/>
<circle cx="622.4" cy="989.6" r="5.9" fill="#ab15a7"/>
<circle cx="620.9" cy="989.6" r="5.9" fill="#ab15a7"/>
<circle cx="619.4" cy="989.6" r="5.9" fill="#fe005c"/>
<circle cx="617.9" cy="989.6" r="5.9" fill="#fe005c"/>
<circle cx="616.4" cy="989.6" r="5.9" fill="#9b23ad"/>
<circle cx="614.9" cy="989.6" r="5.9" fill="#9b23ad"/>
<circle cx="613.5" cy="989.6" r="5.9" fill="#9b23ad"/>
<circle cx="612.0" cy="989.6" r="5.9" fill="#9b23ad"/>
<circle cx="610.5" cy="989.6" r="5.9" fill="#9b23ad"/>
<circle cx="609.0" cy="989.6" r="5.9" fill="#9b23ad"/>
<circle cx="607.5" cy="989.6" r="5.9" fill="#9b23ad"/>
<circle cx="606.0" cy="989.6" r="5.9" fill="#9b23ad"/>
<circle cx="604.5" cy="989.6" r="5.9" fill="#fe005c"/>
<circle cx="603.0" cy="989.6" r="5.9" fill="#fe005c"/>
<circle cx="601.5" cy="989.6" r="5.9" fill="#fe005c"/>
<circle cx="600.1" cy="989.6" r="5.9" fill="#fe005c"/>
<circle cx="598.6" cy="989.6" r="5.9" fill="#fe005c"/>
<circle cx="597.1" cy="989.6" r="5.9" fill="#fe005c"/>
<circle cx="595.6" cy="989.6" r="5.9" fill="#0084f9"/>
<circle cx="594.1" cy="989.6" r="5.9" fill="#0084f9"/>
<circle cx="592.6" cy="989.6" r="5.9" fill="#0084f9"/>
<circle cx="591.1" cy="989.6" r="5.9" fill="#0084f9"/>
<circle cx="589.6" cy="989.6" r="5.9" fill="#0084f9"/>
<circle cx="588.1" cy="989.6" r="5.9" fill="#0084f9"/>
<circle cx="586.7" cy="989.6" r="5.9" fill="#0084f9"/>
<circle cx="585.2" cy="989.6" r="5.9" fill="#0084f9"/>
<circle cx="583.7" cy="989.6" r="5.9" fill="#0084f9"/>
<circle cx="582.2" cy="989.6" r="5.9" fill="#0084f9"/>
<circle cx="580.7" cy="989.6" r="5.9" fill="#0084f9"/>
<circle cx="976.2" cy="969.5" r="5.9" fill="#0084f9"/>
<circle cx="976.2" cy="971.4" r="5.9" fill="#0084f9"/>
<circle cx="976.2" cy="973.3" r="5.9" fill="#0084f9"/>
<circle cx="976.2" cy="975.2" r="5.9" fill="#0084f9"/>
<circle cx="976.2" cy="977.1" r="5.9" fill="#0084f9"/>
<circle cx="976.2" cy="978.9" r="5.9" fill="#0084f9"/>
<circle cx="976.2" cy="980.8" r="5.9" fill="#0084f9"/>
<circle cx="976.2" cy="982.7" r="5.9" fill="#0084f9"/>
<circle cx="976.2" cy="999.7" r="5.9" fill="#0084f9"/>
<circle cx="976.2" cy="997.8" r="5.9" fill="#0084f9"/>
<circle cx="976.2" cy="995.9" r="5.9" fill="#0084f9"/>
<circle cx="976.2" cy="994.0" r="5.9" fill="#0084f9"/>
<circle cx="976.2" cy="992.1" r="5.9" fill="#0084f9"/>
<circle cx="976.2" cy="990.3" r="5.9" fill="#0084f9"/>
<circle cx="976.2" cy="988.4" r="5.9" fill="#0084f9"/>
<circle cx="976.2" cy="986.5" r="5.9" fill="#0084f9"/>
<circle cx="976.2" cy="984.6" r="5.9" fill="#0084f9"/>
<circle cx="973.7" cy="947.5" r="5.9" fill="#0074f0"/>
<circle cx="973.7" cy="949.4" r="5.9" fill="#0074f0"/>
<circle cx="973.7" cy="951.3" r="5.9" fill="#0074f0"/>
<circle cx="973.7" cy="953.2" r="5.9" fill="#0074f0"/>
<circle cx="973.7" cy="955.2" r="5.9" fill="#0074f0"/>
<circle cx="973.7" cy="957.1" r="5.9" fill="#0074f0"/>
<circle cx="973.7" cy="959.0" r="5.9" fill="#0074f0"/>
<circle cx="973.7" cy="960.9" r="5.9" fill="#0074f0"/>
<circle cx="973.7" cy="962.8" r="5.9" fill="#0074f0"/>
<circle cx="973.7" cy="964.7" r="5.9" fill="#0074f0"/>
<circle cx="973.7" cy="966.6" r="5.9" fill="#0084f9"/>
<circle cx="973.7" cy="968.6" r="5.9" fill="#0084f9"/>
<circle cx="973.7" cy="970.5" r="5.9" fill="#0084f9"/>
<circle cx="973.7" cy="972.4" r="5.9" fill="#0084f9"/>
<circle cx="973.7" cy="974.3" r="5.9" fill="#0084f9"/>
<circle cx="973.7" cy="976.2" r="5.9" fill="#0084f9"/>
<circle cx="973.7" cy="978.1" r="5.9" fill="#0084f9"/>
<circle cx="973.7" cy="980.0" r="5.9" fill="#0084f9"/>
<circle cx="973.7" cy="981.9" r="5.9" fill="#0084f9"/>
<circle cx="973.7" cy="983.9" r="5.9" fill="#0084f9"/>
<circle cx="973.7" cy="985.8" r="5.9" fill="#0084f9"/>
<circle cx="973.7" cy="987.7" r="5.9" fill="#0084f9"/>
<circle cx="973.7" cy="1025.7" r="5.9" fill="#007cf5"/>
<circle cx="973.7" cy="1023.8" r="5.9" fill="#007cf5"/>
<circle cx="973.7" cy="1021.9" r="5.9" fill="#007cf5"/>
<circle cx="973.7" cy="1020.0" r="5.9" fill="#007cf5"/>
<circle cx="973.7" cy="1018.1" r="5.9" fill="#007cf5"/>
<circle cx="973.7" cy="1016.2" r="5.9" fill="#007cf5"/>
<circle cx="973.7" cy="1014.3" r="5.9" fill="#007cf5"/>
<circle cx="973.7" cy="1012.4" r="5.9" fill="#0084f9"/>
<circle cx="973.7" cy="1010.5" r="5.9" fill="#0084f9"/>
<circle cx="973.7" cy="1008.6" r="5.9" fill="#0084f9"/>
<circle cx="973.7" cy="1006.7" r="5.9" fill="#0084f9"/>
<circle cx="973.7" cy="1004.8" r="5.9" fill="#0084f9"/>
<circle cx="973.7" cy="1002.9" r="5.9" fill="#0084f9"/>
<circle cx="973.7" cy="1001.0" r="5.9" fill="#0084f9"/>
<circle cx="973.7" cy="999.1" r="5.9" fill="#0084f9"/>
<circle cx="973.7" cy="997.2" r="5.9" fill="#0084f9"/>
<circle cx="973.7" cy="995.3" r="5.9" fill="#0084f9"/>
<circle cx="973.7" cy="993.4" r="5.9" fill="#0084f9"/>
<circle cx="973.7" cy="991.5" r="5.9" fill="#0084f9"/>
<circle cx="973.7" cy="989.6" r="5.9" fill="#0084f9"/>
<circle cx="962.9" cy="945.5" r="5.9" fill="#007cf5"/>
<circle cx="962.9" cy="947.5" r="5.9" fill="#007cf5"/>
<circle cx="962.9" cy="949.4" r="5.9" fill="#007cf5"/>
<circle cx="962.9" cy="951.4" r="5.9" fill="#007cf5"/>
<circle cx="962.9" cy="953.3" r="5.9" fill="#007cf5"/>
<circle cx="962.9" cy="955.3" r="5.9" fill="#007cf5"/>
<circle cx="962.9" cy="957.3" r="5.9" fill="#0084f9"/>
<circle cx="962.9" cy="959.2" r="5.9" fill="#0084f9"/>
<circle cx="962.9" cy="961.2" r="5.9" fill="#0084f9"/>
<circle cx="962.9" cy="963.1" r="5.9" fill="#0084f9"/>
<circle cx="962.9" cy="965.1" r="5.9" fill="#0084f9"/>
<circle cx="962.9" cy="967.1" r="5.9" fill="#0084f9"/>
<circle cx="962.9" cy="969.0" r="5.9" fill="#0084f9"/>
<circle cx="962.9" cy="971.0" r="5.9" fill="#0084f9"/>
<circle cx="962.9" cy="972.9" r="5.9" fill="#0084f9"/>
<circle cx="962.9" cy="974.9" r="5.9" fill="#0084f9"/>
<circle cx="962.9" cy="976.8" r="5.9" fill="#0084f9"/>
<circle cx="962.9" cy="978.8" r="5.9" fill="#0084f9"/>
<circle cx="962.9" cy="980.8" r="5.9" fill="#0084f9"/>
<circle cx="962.9" cy="982.7" r="5.9" fill="#0084f9"/>
<circle cx="962.9" cy="984.7" r="5.9" fill="#0084f9"/>
<circle cx="962.9" cy="986.6" r="5.9" fill="#0084f9"/>
<circle cx="962.9" cy="1021.7" r="5.9" fill="#0084f9"/>
<circle cx="962.9" cy="1019.8" r="5.9" fill="#0084f9"/>
<circle cx="962.9" cy="1017.8" r="5.9" fill="#0084f9"/>
<circle cx="962.9" cy="1015.9" r="5.9" fill="#0084f9"/>
<circle cx="962.9" cy="1013.9" r="5.9" fill="#0084f9"/>
<circle cx="962.9" cy="1012.0" r="5.9" fill="#0084f9"/>
<circle cx="962.9" cy="1010.0" r="5.9" fill="#0084f9"/>
<circle cx="962.9" cy="1008.1" r="5.9" fill="#0084f9"/>
<circle cx="962.9" cy="1006.1" r="5.9" fill="#0084f9"/>
<circle cx="962.9" cy="1004.2" r="5.9" fill="#0084f9"/>
<circle cx="962.9" cy="1002.2" r="5.9" fill="#0084f9"/>
<circle cx="962.9" cy="1000.3" r="5.9" fill="#0084f9"/>
<circle cx="962.9" cy="998.3" r="5.9" fill="#0084f9"/>
<circle cx="962.9" cy="996.4" r="5.9" fill="#0084f9"/>
<circle cx="962.9" cy="994.4" r="5.9" fill="#0084f9"/>
<circle cx="962.9" cy="992.5" r="5.9" fill="#0084f9"/>
<circle cx="962.9" cy="990.5" r="5.9" fill="#0084f9"/>
<circle cx="962.9" cy="988.6" r="5.9" fill="#0084f9"/>
<circle cx="966.2" cy="935.5" r="5.9" fill="#236cea"/>
<circle cx="966.2" cy="937.5" r="5.9" fill="#236cea"/>
<circle cx="966.2" cy="939.4" r="5.9" fill="#236cea"/>
<circle cx="966.2" cy="941.4" r="5.9" fill="#236cea"/>
<circle cx="966.2" cy="943.4" r="5.9" fill="#236cea"/>
<circle cx="966.2" cy="945.3" r="5.9" fill="#236cea"/>
<circle cx="966.2" cy="947.3" r="5.9" fill="#236cea"/>
<circle cx="966.2" cy="949.2" r="5.9" fill="#236cea"/>
<circle cx="966.2" cy="951.2" r="5.9" fill="#236cea"/>
<circle cx="966.2" cy="953.2" r="5.9" fill="#236cea"/>
<circle cx="966.2" cy="955.1" r="5.9" fill="#236cea"/>
<circle cx="966.2" cy="957.1" r="5.9" fill="#236cea"/>
<circle cx="966.2" cy="959.1" r="5.9" fill="#236cea"/>
<circle cx="966.2" cy="961.0" r="5.9" fill="#236cea"/>
<circle cx="966.2" cy="963.0" r="5.9" fill="#236cea"/>
<circle cx="966.2" cy="965.0" r="5.9" fill="#236cea"/>
<circle cx="966.2" cy="966.9" r="5.9" fill="#236cea"/>
<circle cx="966.2" cy="968.9" r="5.9" fill="#236cea"/>
<circle cx="966.2" cy="970.9" r="5.9" fill="#236cea"/>
<circle cx="966.2" cy="972.8" r="5.9" fill="#236cea"/>
<circle cx="966.2" cy="974.8" r="5.9" fill="#236cea"/>
<circle cx="966.2" cy="976.7" r="5.9" fill="#236cea"/>
<circle cx="966.2" cy="978.7" r="5.9" fill="#236cea"/>
<circle cx="966.2" cy="980.7" r="5.9" fill="#236cea"/>
<circle cx="966.2" cy="982.6" r="5.9" fill="#236cea"/>
<circle cx="966.2" cy="1033.7" r="5.9" fill="#236cea"/>
<circle cx="966.2" cy="1031.7" r="5.9" fill="#236cea"/>
<circle cx="966.2" cy="1029.8" r="5.9" fill="#236cea"/>
<circle cx="966.2" cy="1027.8" r="5.9" fill="#236cea"/>
<circle cx="966.2" cy="1025.8" r="5.9" fill="#236cea"/>
<circle cx="966.2" cy="1023.9" r="5.9" fill="#236cea"/>
<circle cx="966.2" cy="1021.9" r="5.9" fill="#236cea"/>
<circle cx="966.2" cy="1020.0" r="5.9" fill="#236cea"/>
<circle cx="966.2" cy="1018.0" r="5.9" fill="#236cea"/>
<circle cx="966.2" cy="1016.0" r="5.9" fill="#236cea"/>
<circle cx="966.2" cy="1014.1" r="5.9" fill="#236cea"/>
<circle cx="966.2" cy="1012.1" r="5.9" fill="#236cea"/>
<circle cx="966.2" cy="1010.1" r="5.9" fill="#236cea"/>
<circle cx="966.2" cy="1008.2" r="5.9" fill="#236cea"/>
<circle cx="966.2" cy="1006.2" r="5.9" fill="#236cea"/>
<circle cx="966.2" cy="1004.2" r="5.9" fill="#236cea"/>
<circle cx="966.2" cy="1002.3" r="5.9" fill="#236cea"/>
<circle cx="966.2" cy="1000.3" r="5.9" fill="#236cea"/>
<circle cx="966.2" cy="998.3" r="5.9" fill="#236cea"/>
<circle cx="966.2" cy="996.4" r="5.9" fill="#236cea"/>
<circle cx="966.2" cy="994.4" r="5.9" fill="#236cea"/>
<circle cx="966.2" cy="992.5" r="5.9" fill="#236cea"/>
<circle cx="966.2" cy="990.5" r="5.9" fill="#236cea"/>
<circle cx="966.2" cy="988.5" r="5.9" fill="#236cea"/>
<circle cx="966.2" cy="986.6" r="5.9" fill="#236cea"/>
<circle cx="966.2" cy="984.6" r="5.9" fill="#236cea"/>
<circle cx="969.2" cy="912.9" r="5.9" fill="#bb00a0"/>
<circle cx="969.2" cy="914.9" r="5.9" fill="#bb00a0"/>
<circle cx="969.2" cy="916.8" r="5.9" fill="#bb00a0"/>
<circle cx="969.2" cy="918.8" r="5.9" fill="#bb00a0"/>
<circle cx="969.2" cy="920.7" r="5.9" fill="#bb00a0"/>
<circle cx="969.2" cy="922.7" r="5.9" fill="#bb00a0"/>
<circle cx="969.2" cy="924.6" r="5.9" fill="#bb00a0"/>
<circle cx="969.2" cy="926.6" r="5.9" fill="#bb00a0"/>
<circle cx="969.2" cy="928.6" r="5.9" fill="#bb00a0"/>
<circle cx="969.2" cy="930.5" r="5.9" fill="#4b63e3"/>
<circle cx="969.2" cy="932.5" r="5.9" fill="#4b63e3"/>
<circle cx="969.2" cy="934.4" r="5.9" fill="#4b63e3"/>
<circle cx="969.2" cy="936.4" r="5.9" fill="#4b63e3"/>
<circle cx="969.2" cy="938.3" r="5.9" fill="#007cf5"/>
<circle cx="969.2" cy="940.3" r="5.9" fill="#007cf5"/>
<circle cx="969.2" cy="942.3" r="5.9" fill="#007cf5"/>
<circle cx="969.2" cy="944.2" r="5.9" fill="#007cf5"/>
<circle cx="969.2" cy="946.2" r="5.9" fill="#007cf5"/>
<circle cx="969.2" cy="948.1" r="5.9" fill="#007cf5"/>
<circle cx="969.2" cy="950.1" r="5.9" fill="#007cf5"/>
<circle cx="969.2" cy="952.0" r="5.9" fill="#007cf5"/>
<circle cx="969.2" cy="954.0" r="5.9" fill="#007cf5"/>
<circle cx="969.2" cy="956.0" r="5.9" fill="#007cf5"/>
<circle cx="969.2" cy="957.9" r="5.9" fill="#007cf5"/>
<circle cx="969.2" cy="959.9" r="5.9" fill="#0074f0"/>
<circle cx="969.2" cy="961.8" r="5.9" fill="#0074f0"/>
<circle cx="969.2" cy="963.8" r="5.9" fill="#0074f0"/>
<circle cx="969.2" cy="965.7" r="5.9" fill="#0074f0"/>
<circle cx="969.2" cy="967.7" r="5.9" fill="#0074f0"/>
<circle cx="969.2" cy="969.7" r="5.9" fill="#0074f0"/>
<circle cx="969.2" cy="971.6" r="5.9" fill="#0074f0"/>
<circle cx="969.2" cy="973.6" r="5.9" fill="#0074f0"/>
<circle cx="969.2" cy="975.5" r="5.9" fill="#0074f0"/>
<circle cx="969.2" cy="977.5" r="5.9" fill="#0074f0"/>
<circle cx="969.2" cy="979.4" r="5.9" fill="#0074f0"/>
<circle cx="969.2" cy="981.4" r="5.9" fill="#0074f0"/>
<circle cx="969.2" cy="983.4" r="5.9" fill="#007cf5"/>
<circle cx="969.2" cy="985.3" r="5.9" fill="#007cf5"/>
<circle cx="969.2" cy="987.3" r="5.9" fill="#007cf5"/>
<circle cx="969.2" cy="989.2" r="5.9" fill="#007cf5"/>
<circle cx="969.2" cy="991.2" r="5.9" fill="#007cf5"/>
<circle cx="969.2" cy="993.1" r="5.9" fill="#007cf5"/>
<circle cx="969.2" cy="1065.1" r="5.9" fill="#0084f9"/>
<circle cx="969.2" cy="1063.1" r="5.9" fill="#0084f9"/>
<circle cx="969.2" cy="1061.1" r="5.9" fill="#0084f9"/>
<circle cx="969.2" cy="1059.1" r="5.9" fill="#0084f9"/>
<circle cx="969.2" cy="1057.1" r="5.9" fill="#0084f9"/>
<circle cx="969.2" cy="1055.1" r="5.9" fill="#0084f9"/>
<circle cx="969.2" cy="1053.1" r="5.9" fill="#4b63e3"/>
<circle cx="969.2" cy="1051.1" r="5.9" fill="#4b63e3"/>
<circle cx="969.2" cy="1049.1" r="5.9" fill="#4b63e3"/>
<circle cx="969.2" cy="1047.1" r="5.9" fill="#4b63e3"/>
<circle cx="969.2" cy="1045.1" r="5.9" fill="#4b63e3"/>
<circle cx="969.2" cy="1043.1" r="5.9" fill="#4b63e3"/>
<circle cx="969.2" cy="1041.1" r="5.9" fill="#4b63e3"/>
<circle cx="969.2" cy="1039.1" r="5.9" fill="#4b63e3"/>
<circle cx="969.2" cy="1037.1" r="5.9" fill="#4b63e3"/>
<circle cx="969.2" cy="1035.1" r="5.9" fill="#9b23ad"/>
<circle cx="969.2" cy="1033.1" r="5.9" fill="#9b23ad"/>
<circle cx="969.2" cy="1031.1" r="5.9" fill="#9b23ad"/>
<circle cx="969.2" cy="1029.1" r="5.9" fill="#9b23ad"/>
<circle cx="969.2" cy="1027.1" r="5.9" fill="#9b23ad"/>
<circle cx="969.2" cy="1025.1" r="5.9" fill="#007ff7"/>
<circle cx="969.2" cy="1023.1" r="5.9" fill="#007ff7"/>
<circle cx="969.2" cy="1021.1" r="5.9" fill="#007ff7"/>
<circle cx="969.2" cy="1019.1" r="5.9" fill="#007ff7"/>
<circle cx="969.2" cy="1017.1" r="5.9" fill="#007ff7"/>
<circle cx="969.2" cy="1015.1" r="5.9" fill="#007ff7"/>
<circle cx="969.2" cy="1013.1" r="5.9" fill="#007ff7"/>
<circle cx="969.2" cy="1011.1" r="5.9" fill="#007ff7"/>
<circle cx="969.2" cy="1009.1" r="5.9" fill="#007ff7"/>
<circle cx="969.2" cy="1007.1" r="5.9" fill="#007cf5"/>
<circle cx="969.2" cy="1005.1" r="5.9" fill="#007cf5"/>
<circle cx="969.2" cy="1003.1" r="5.9" fill="#007cf5"/>
<circle cx="969.2" cy="1001.1" r="5.9" fill="#007cf5"/>
<circle cx="969.2" cy="999.1" r="5.9" fill="#007cf5"/>
<circle cx="969.2" cy="997.1" r="5.9" fill="#007cf5"/>
<circle cx="969.2" cy="995.1" r="5.9" fill="#007cf5"/>
<circle cx="989.5" cy="974.2" r="5.9" fill="#fb0063"/>
<circle cx="939.9" cy="981.9" r="5.9" fill="#0084f9"/>
<circle cx="941.3" cy="981.9" r="5.9" fill="#0084f9"/>
<circle cx="942.7" cy="981.9" r="5.9" fill="#0084f9"/>
<circle cx="944.1" cy="981.9" r="5.9" fill="#0084f9"/>
<circle cx="951.1" cy="981.9" r="5.9" fill="#0084f9"/>
<circle cx="949.7" cy="981.9" r="5.9" fill="#0084f9"/>
<circle cx="948.3" cy="981.9" r="5.9" fill="#0084f9"/>
<circle cx="946.9" cy="981.9" r="5.9" fill="#0084f9"/>
<circle cx="945.5" cy="981.9" r="5.9" fill="#0084f9"/>
<circle cx="990.4" cy="981.9" r="5.9" fill="#fb0063"/>
<circle cx="991.7" cy="981.9" r="5.9" fill="#fb0063"/>
<circle cx="993.0" cy="981.9" r="5.9" fill="#fb0063"/>
<circle cx="994.3" cy="981.9" r="5.9" fill="#fb0063"/>
<circle cx="995.6" cy="981.9" r="5.9" fill="#fb0063"/>
<circle cx="1010.8" cy="981.9" r="5.9" fill="#9135ba"/>
<circle cx="1009.4" cy="981.9" r="5.9" fill="#9135ba"/>
<circle cx="1008.0" cy="981.9" r="5.9" fill="#9135ba"/>
<circle cx="1006.6" cy="981.9" r="5.9" fill="#9135ba"/>
<circle cx="1005.2" cy="981.9" r="5.9" fill="#9135ba"/>
<circle cx="1003.9" cy="981.9" r="5.9" fill="#9135ba"/>
<circle cx="1002.5" cy="981.9" r="5.9" fill="#fb0063"/>
<circle cx="1001.1" cy="981.9" r="5.9" fill="#fb0063"/>
<circle cx="999.7" cy="981.9" r="5.9" fill="#fb0063"/>
<circle cx="998.3" cy="981.9" r="5.9" fill="#fb0063"/>
<circle cx="996.9" cy="981.9" r="5.9" fill="#fb0063"/>
<circle cx="945.5" cy="997.3" r="5.9" fill="#0084f9"/>
<circle cx="955.7" cy="997.3" r="5.9" fill="#0084f9"/>
<circle cx="989.1" cy="997.3" r="5.9" fill="#fb0063"/>
<circle cx="990.3" cy="997.3" r="5.9" fill="#fb0063"/>
<circle cx="991.4" cy="997.3" r="5.9" fill="#fb0063"/>
<circle cx="992.6" cy="997.3" r="5.9" fill="#fb0063"/>
<circle cx="998.4" cy="997.3" r="5.9" fill="#fb0063"/>
<circle cx="997.2" cy="997.3" r="5.9" fill="#fb0063"/>
<circle cx="996.1" cy="997.3" r="5.9" fill="#fb0063"/>
<circle cx="994.9" cy="997.3" r="5.9" fill="#fb0063"/>
<circle cx="993.8" cy="997.3" r="5.9" fill="#fb0063"/>
<circle cx="1015.0" cy="997.3" r="5.9" fill="#972bb2"/>
<circle cx="934.9" cy="989.6" r="5.9" fill="#0084f9"/>
<circle cx="936.2" cy="989.6" r="5.9" fill="#0084f9"/>
<circle cx="937.6" cy="989.6" r="5.9" fill="#0084f9"/>
<circle cx="939.0" cy="989.6" r="5.9" fill="#0084f9"/>
<circle cx="940.3" cy="989.6" r="5.9" fill="#0084f9"/>
<circle cx="941.7" cy="989.6" r="5.9" fill="#0084f9"/>
<circle cx="951.1" cy="989.6" r="5.9" fill="#0084f9"/>
<circle cx="949.8" cy="989.6" r="5.9" fill="#0084f9"/>
<circle cx="948.4" cy="989.6" r="5.9" fill="#0084f9"/>
<circle cx="947.1" cy="989.6" r="5.9" fill="#0084f9"/>
<circle cx="945.7" cy="989.6" r="5.9" fill="#0084f9"/>
<circle cx="944.4" cy="989.6" r="5.9" fill="#0084f9"/>
<circle cx="943.0" cy="989.6" r="5.9" fill="#0084f9"/>
<circle cx="986.7" cy="989.6" r="5.9" fill="#fb0063"/>
<circle cx="1018.5" cy="989.6" r="5.9" fill="#fb0063"/>
<circle cx="1017.1" cy="989.6" r="5.9" fill="#fb0063"/>
<circle cx="1015.6" cy="989.6" r="5.9" fill="#fb0063"/>
<circle cx="1014.2" cy="989.6" r="5.9" fill="#fb0063"/>
<circle cx="1012.7" cy="989.6" r="5.9" fill="#fb0063"/>
<circle cx="1011.3" cy="989.6" r="5.9" fill="#fb0063"/>
<circle cx="1009.8" cy="989.6" r="5.9" fill="#fb0063"/>
<circle cx="1008.4" cy="989.6" r="5.9" fill="#9b23ad"/>
<circle cx="1007.0" cy="989.6" r="5.9" fill="#9b23ad"/>
<circle cx="1005.5" cy="989.6" r="5.9" fill="#9b23ad"/>
<circle cx="1004.1" cy="989.6" r="5.9" fill="#9b23ad"/>
<circle cx="1002.6" cy="989.6" r="5.9" fill="#9b23ad"/>
<circle cx="1001.2" cy="989.6" r="5.9" fill="#9b23ad"/>
<circle cx="999.7" cy="989.6" r="5.9" fill="#fb0063"/>
<circle cx="998.3" cy="989.6" r="5.9" fill="#fb0063"/>
<circle cx="996.9" cy="989.6" r="5.9" fill="#fb0063"/>
<circle cx="995.4" cy="989.6" r="5.9" fill="#fb0063"/>
<circle cx="994.0" cy="989.6" r="5.9" fill="#fb0063"/>
<circle cx="992.5" cy="989.6" r="5.9" fill="#c80098"/>
<circle cx="991.1" cy="989.6" r="5.9" fill="#c80098"/>
<circle cx="989.6" cy="989.6" r="5.9" fill="#c80098"/>
<circle cx="988.2" cy="989.6" r="5.9" fill="#c80098"/>
<circle cx="986.8" cy="989.6" r="5.9" fill="#fb0063"/>
<circle cx="965.7" cy="956.6" r="5.9" fill="#bb00a0"/>
<circle cx="962.9" cy="965.6" r="5.9" fill="#c0009c"/>
<circle cx="968.2" cy="968.6" r="5.9" fill="#9b23ad"/>
<circle cx="962.9" cy="981.0" r="5.9" fill="#c0009c"/>
<circle cx="963.7" cy="990.6" r="5.9" fill="#9135ba"/>
<circle cx="967.7" cy="1004.1" r="5.9" fill="#c0009c"/>
<circle cx="963.7" cy="1019.1" r="5.9" fill="#c0009c"/>
<circle cx="969.2" cy="1020.6" r="5.9" fill="#9b23ad"/>
<circle cx="969.7" cy="1035.6" r="5.9" fill="#b508a3"/>
<circle cx="1266.7" cy="912.5" r="5.9" fill="#754fd1"/>
<circle cx="1266.7" cy="914.5" r="5.9" fill="#754fd1"/>
<circle cx="1266.7" cy="916.5" r="5.9" fill="#754fd1"/>
<circle cx="1266.7" cy="918.4" r="5.9" fill="#754fd1"/>
<circle cx="1266.7" cy="920.4" r="5.9" fill="#754fd1"/>
<circle cx="1266.7" cy="922.4" r="5.9" fill="#c0009c"/>
<circle cx="1266.7" cy="924.4" r="5.9" fill="#c0009c"/>
<circle cx="1266.7" cy="926.3" r="5.9" fill="#c0009c"/>
<circle cx="1266.7" cy="928.3" r="5.9" fill="#c0009c"/>
<circle cx="1266.7" cy="930.3" r="5.9" fill="#c0009c"/>
<circle cx="1266.7" cy="932.2" r="5.9" fill="#c0009c"/>
<circle cx="1266.7" cy="934.2" r="5.9" fill="#c0009c"/>
<circle cx="1266.7" cy="936.2" r="5.9" fill="#c0009c"/>
<circle cx="1266.7" cy="938.2" r="5.9" fill="#c0009c"/>
<circle cx="1266.7" cy="940.2" r="5.9" fill="#c0009c"/>
<circle cx="1266.7" cy="942.1" r="5.9" fill="#9135ba"/>
<circle cx="1266.7" cy="944.1" r="5.9" fill="#9135ba"/>
<circle cx="1266.7" cy="946.1" r="5.9" fill="#9135ba"/>
<circle cx="1266.7" cy="948.1" r="5.9" fill="#9135ba"/>
<circle cx="1266.7" cy="950.0" r="5.9" fill="#9135ba"/>
<circle cx="1266.7" cy="952.0" r="5.9" fill="#236cea"/>
<circle cx="1266.7" cy="954.0" r="5.9" fill="#236cea"/>
<circle cx="1266.7" cy="956.0" r="5.9" fill="#236cea"/>
<circle cx="1266.7" cy="957.9" r="5.9" fill="#fe005c"/>
<circle cx="1266.7" cy="959.9" r="5.9" fill="#fe005c"/>
<circle cx="1266.7" cy="961.9" r="5.9" fill="#ab15a7"/>
<circle cx="1266.7" cy="963.9" r="5.9" fill="#ab15a7"/>
<circle cx="1266.7" cy="965.8" r="5.9" fill="#ab15a7"/>
<circle cx="1266.7" cy="967.8" r="5.9" fill="#ab15a7"/>
<circle cx="1266.7" cy="969.8" r="5.9" fill="#ab15a7"/>
<circle cx="1266.7" cy="971.8" r="5.9" fill="#ab15a7"/>
<circle cx="1266.7" cy="973.7" r="5.9" fill="#ab15a7"/>
<circle cx="1266.7" cy="975.7" r="5.9" fill="#ab15a7"/>
<circle cx="1266.7" cy="977.7" r="5.9" fill="#8443c6"/>
<circle cx="1266.7" cy="979.7" r="5.9" fill="#8443c6"/>
<circle cx="1266.7" cy="981.6" r="5.9" fill="#8443c6"/>
<circle cx="1266.7" cy="983.6" r="5.9" fill="#8443c6"/>
<circle cx="1266.7" cy="985.6" r="5.9" fill="#8443c6"/>
<circle cx="1266.7" cy="987.6" r="5.9" fill="#8443c6"/>
<circle cx="1266.7" cy="989.5" r="5.9" fill="#8443c6"/>
<circle cx="1266.7" cy="1059.9" r="5.9" fill="#006fed"/>
<circle cx="1266.7" cy="1057.9" r="5.9" fill="#006fed"/>
<circle cx="1266.7" cy="1056.0" r="5.9" fill="#006fed"/>
<circle cx="1266.7" cy="1054.0" r="5.9" fill="#006fed"/>
<circle cx="1266.7" cy="1052.1" r="5.9" fill="#006fed"/>
<circle cx="1266.7" cy="1050.1" r="5.9" fill="#006fed"/>
<circle cx="1266.7" cy="1048.2" r="5.9" fill="#4b63e3"/>
<circle cx="1266.7" cy="1046.2" r="5.9" fill="#4b63e3"/>
<circle cx="1266.7" cy="1044.3" r="5.9" fill="#4b63e3"/>
<circle cx="1266.7" cy="1042.3" r="5.9" fill="#4b63e3"/>
<circle cx="1266.7" cy="1040.4" r="5.9" fill="#4b63e3"/>
<circle cx="1266.7" cy="1038.4" r="5.9" fill="#bb00a0"/>
<circle cx="1266.7" cy="1036.4" r="5.9" fill="#bb00a0"/>
<circle cx="1266.7" cy="1034.5" r="5.9" fill="#bb00a0"/>
<circle cx="1266.7" cy="1032.5" r="5.9" fill="#bb00a0"/>
<circle cx="1266.7" cy="1030.6" r="5.9" fill="#007ff7"/>
<circle cx="1266.7" cy="1028.6" r="5.9" fill="#007ff7"/>
<circle cx="1266.7" cy="1026.7" r="5.9" fill="#007ff7"/>
<circle cx="1266.7" cy="1024.7" r="5.9" fill="#007ff7"/>
<circle cx="1266.7" cy="1022.8" r="5.9" fill="#007ff7"/>
<circle cx="1266.7" cy="1020.8" r="5.9" fill="#c0009c"/>
<circle cx="1266.7" cy="1018.9" r="5.9" fill="#c0009c"/>
<circle cx="1266.7" cy="1016.9" r="5.9" fill="#007ff7"/>
<circle cx="1266.7" cy="1015.0" r="5.9" fill="#007ff7"/>
<circle cx="1266.7" cy="1013.0" r="5.9" fill="#007ff7"/>
<circle cx="1266.7" cy="1011.0" r="5.9" fill="#007ff7"/>
<circle cx="1266.7" cy="1009.1" r="5.9" fill="#007ff7"/>
<circle cx="1266.7" cy="1007.1" r="5.9" fill="#007ff7"/>
<circle cx="1266.7" cy="1005.2" r="5.9" fill="#8443c6"/>
<circle cx="1266.7" cy="1003.2" r="5.9" fill="#8443c6"/>
<circle cx="1266.7" cy="1001.3" r="5.9" fill="#8443c6"/>
<circle cx="1266.7" cy="999.3" r="5.9" fill="#8443c6"/>
<circle cx="1266.7" cy="997.4" r="5.9" fill="#8443c6"/>
<circle cx="1266.7" cy="995.4" r="5.9" fill="#8443c6"/>
<circle cx="1266.7" cy="993.5" r="5.9" fill="#8443c6"/>
<circle cx="1266.7" cy="991.5" r="5.9" fill="#8443c6"/>
<circle cx="1265.3" cy="971.6" r="5.9" fill="#9b23ad"/>
<circle cx="1269.5" cy="971.6" r="5.9" fill="#007cf5"/>
<circle cx="1268.3" cy="971.6" r="5.9" fill="#007cf5"/>
<circle cx="1267.1" cy="971.6" r="5.9" fill="#007cf5"/>
<circle cx="1265.9" cy="971.6" r="5.9" fill="#9b23ad"/>
<circle cx="1260.3" cy="976.1" r="5.9" fill="#bb00a0"/>
<circle cx="1261.7" cy="976.1" r="5.9" fill="#bb00a0"/>
<circle cx="1263.0" cy="976.1" r="5.9" fill="#bb00a0"/>
<circle cx="1264.4" cy="976.1" r="5.9" fill="#bb00a0"/>
<circle cx="1265.8" cy="976.1" r="5.9" fill="#bb00a0"/>
<circle cx="1267.2" cy="976.1" r="5.9" fill="#bb00a0"/>
<circle cx="1268.5" cy="976.1" r="5.9" fill="#236cea"/>
<circle cx="1269.9" cy="976.1" r="5.9" fill="#236cea"/>
<circle cx="1271.3" cy="976.1" r="5.9" fill="#236cea"/>
<circle cx="1272.7" cy="976.1" r="5.9" fill="#236cea"/>
<circle cx="1274.0" cy="976.1" r="5.9" fill="#236cea"/>
<circle cx="1275.5" cy="976.1" r="5.9" fill="#0084f9"/>
<circle cx="1275.4" cy="976.1" r="5.9" fill="#0084f9"/>
<circle cx="1258.8" cy="980.6" r="5.9" fill="#bb00a0"/>
<circle cx="1260.2" cy="980.6" r="5.9" fill="#bb00a0"/>
<circle cx="1261.7" cy="980.6" r="5.9" fill="#bb00a0"/>
<circle cx="1263.1" cy="980.6" r="5.9" fill="#bb00a0"/>
<circle cx="1264.5" cy="980.6" r="5.9" fill="#bb00a0"/>
<circle cx="1265.9" cy="980.6" r="5.9" fill="#bb00a0"/>
<circle cx="1267.4" cy="980.6" r="5.9" fill="#bb00a0"/>
<circle cx="1268.8" cy="980.6" r="5.9" fill="#236cea"/>
<circle cx="1270.2" cy="980.6" r="5.9" fill="#236cea"/>
<circle cx="1271.6" cy="980.6" r="5.9" fill="#236cea"/>
<circle cx="1273.1" cy="980.6" r="5.9" fill="#236cea"/>
<circle cx="1274.5" cy="980.6" r="5.9" fill="#0084f9"/>
<circle cx="1278.5" cy="980.6" r="5.9" fill="#0084f9"/>
<circle cx="1277.2" cy="980.6" r="5.9" fill="#0084f9"/>
<circle cx="1275.9" cy="980.6" r="5.9" fill="#0084f9"/>
<circle cx="1257.3" cy="985.1" r="5.9" fill="#754fd1"/>
<circle cx="1258.8" cy="985.1" r="5.9" fill="#754fd1"/>
<circle cx="1260.2" cy="985.1" r="5.9" fill="#754fd1"/>
<circle cx="1261.7" cy="985.1" r="5.9" fill="#754fd1"/>
<circle cx="1263.2" cy="985.1" r="5.9" fill="#754fd1"/>
<circle cx="1264.6" cy="985.1" r="5.9" fill="#754fd1"/>
<circle cx="1266.1" cy="985.1" r="5.9" fill="#236cea"/>
<circle cx="1267.6" cy="985.1" r="5.9" fill="#236cea"/>
<circle cx="1269.1" cy="985.1" r="5.9" fill="#236cea"/>
<circle cx="1270.5" cy="985.1" r="5.9" fill="#0084f9"/>
<circle cx="1272.0" cy="985.1" r="5.9" fill="#0084f9"/>
<circle cx="1273.5" cy="985.1" r="5.9" fill="#0084f9"/>
<circle cx="1274.9" cy="985.1" r="5.9" fill="#0084f9"/>
<circle cx="1282.5" cy="985.1" r="5.9" fill="#0084f9"/>
<circle cx="1281.3" cy="985.1" r="5.9" fill="#0084f9"/>
<circle cx="1280.1" cy="985.1" r="5.9" fill="#0084f9"/>
<circle cx="1278.8" cy="985.1" r="5.9" fill="#0084f9"/>
<circle cx="1277.6" cy="985.1" r="5.9" fill="#0084f9"/>
<circle cx="1276.4" cy="985.1" r="5.9" fill="#0084f9"/>
<circle cx="1269.5" cy="1012.1" r="5.9" fill="#0084f9"/>
<circle cx="1268.4" cy="1012.1" r="5.9" fill="#0084f9"/>
<circle cx="1267.2" cy="1012.1" r="5.9" fill="#0084f9"/>
<circle cx="1266.1" cy="1012.1" r="5.9" fill="#0084f9"/>
<circle cx="1264.9" cy="1012.1" r="5.9" fill="#ab15a7"/>
<circle cx="1264.9" cy="1007.6" r="5.9" fill="#c0009c"/>
<circle cx="1270.7" cy="1007.6" r="5.9" fill="#0084f9"/>
<circle cx="1269.5" cy="1007.6" r="5.9" fill="#0084f9"/>
<circle cx="1268.3" cy="1007.6" r="5.9" fill="#0084f9"/>
<circle cx="1267.1" cy="1007.6" r="5.9" fill="#0084f9"/>
<circle cx="1266.0" cy="1007.6" r="5.9" fill="#c0009c"/>
<circle cx="1263.7" cy="1003.1" r="5.9" fill="#f90067"/>
<circle cx="1264.9" cy="1003.1" r="5.9" fill="#f90067"/>
<circle cx="1266.2" cy="1003.1" r="5.9" fill="#f90067"/>
<circle cx="1273.1" cy="1003.1" r="5.9" fill="#0084f9"/>
<circle cx="1271.7" cy="1003.1" r="5.9" fill="#0084f9"/>
<circle cx="1270.2" cy="1003.1" r="5.9" fill="#0084f9"/>
<circle cx="1268.8" cy="1003.1" r="5.9" fill="#0084f9"/>
<circle cx="1267.4" cy="1003.1" r="5.9" fill="#c80098"/>
<circle cx="1262.3" cy="998.6" r="5.9" fill="#f90067"/>
<circle cx="1263.8" cy="998.6" r="5.9" fill="#f90067"/>
<circle cx="1265.2" cy="998.6" r="5.9" fill="#f90067"/>
<circle cx="1266.7" cy="998.6" r="5.9" fill="#f90067"/>
<circle cx="1268.2" cy="998.6" r="5.9" fill="#f90067"/>
<circle cx="1269.7" cy="998.6" r="5.9" fill="#007ff7"/>
<circle cx="1273.5" cy="998.6" r="5.9" fill="#007ff7"/>
<circle cx="1272.3" cy="998.6" r="5.9" fill="#007ff7"/>
<circle cx="1271.2" cy="998.6" r="5.9" fill="#007ff7"/>
<circle cx="1258.3" cy="994.1" r="5.9" fill="#4b63e3"/>
<circle cx="1259.7" cy="994.1" r="5.9" fill="#4b63e3"/>
<circle cx="1261.1" cy="994.1" r="5.9" fill="#4b63e3"/>
<circle cx="1262.5" cy="994.1" r="5.9" fill="#4b63e3"/>
<circle cx="1263.8" cy="994.1" r="5.9" fill="#4b63e3"/>
<circle cx="1265.2" cy="994.1" r="5.9" fill="#f90067"/>
<circle cx="1266.6" cy="994.1" r="5.9" fill="#f90067"/>
<circle cx="1268.0" cy="994.1" r="5.9" fill="#f90067"/>
<circle cx="1269.4" cy="994.1" r="5.9" fill="#0084f9"/>
<circle cx="1270.8" cy="994.1" r="5.9" fill="#0084f9"/>
<circle cx="1275.5" cy="994.1" r="5.9" fill="#0084f9"/>
<circle cx="1274.4" cy="994.1" r="5.9" fill="#0084f9"/>
<circle cx="1273.3" cy="994.1" r="5.9" fill="#0084f9"/>
<circle cx="1272.2" cy="994.1" r="5.9" fill="#0084f9"/>
<circle cx="1256.4" cy="989.6" r="5.9" fill="#4b63e3"/>
<circle cx="1257.9" cy="989.6" r="5.9" fill="#4b63e3"/>
<circle cx="1259.3" cy="989.6" r="5.9" fill="#4b63e3"/>
<circle cx="1260.8" cy="989.6" r="5.9" fill="#4b63e3"/>
<circle cx="1262.2" cy="989.6" r="5.9" fill="#4b63e3"/>
<circle cx="1263.7" cy="989.6" r="5.9" fill="#4b63e3"/>
<circle cx="1265.1" cy="989.6" r="5.9" fill="#4b63e3"/>
<circle cx="1266.6" cy="989.6" r="5.9" fill="#0084f9"/>
<circle cx="1268.0" cy="989.6" r="5.9" fill="#0084f9"/>
<circle cx="1269.5" cy="989.6" r="5.9" fill="#0084f9"/>
<circle cx="1270.9" cy="989.6" r="5.9" fill="#0084f9"/>
<circle cx="1272.4" cy="989.6" r="5.9" fill="#0084f9"/>
<circle cx="1273.8" cy="989.6" r="5.9" fill="#0084f9"/>
<circle cx="1285.2" cy="989.6" r="5.9" fill="#0084f9"/>
<circle cx="1283.8" cy="989.6" r="5.9" fill="#0084f9"/>
<circle cx="1282.4" cy="989.6" r="5.9" fill="#0084f9"/>
<circle cx="1280.9" cy="989.6" r="5.9" fill="#0084f9"/>
<circle cx="1279.5" cy="989.6" r="5.9" fill="#0084f9"/>
<circle cx="1278.1" cy="989.6" r="5.9" fill="#0084f9"/>
<circle cx="1276.7" cy="989.6" r="5.9" fill="#0084f9"/>
<circle cx="1275.2" cy="989.6" r="5.9" fill="#0084f9"/>
<line x1="241.2" y1="1225.8" x2="514.0" y2="1225.8" stroke="#000" stroke-width="2.2"/>
<line x1="267.8" y1="1225.8" x2="267.8" y2="1236.1" stroke="#333" stroke-width="2.3"/>
<rect x="247.6" y="1257" width="19.5" height="1.9" fill="#333"/>
<text x="277.9" y="1267" font-family="Liberation Sans, sans-serif" font-size="33.5" fill="#333" text-anchor="middle" textLength="17.2" lengthAdjust="spacingAndGlyphs">2</text>
<line x1="377.6" y1="1225.8" x2="377.6" y2="1236.1" stroke="#333" stroke-width="2.3"/>
<text x="376.6" y="1267" font-family="Liberation Sans, sans-serif" font-size="33.5" fill="#333" text-anchor="middle" textLength="18.4" lengthAdjust="spacingAndGlyphs">0</text>
<line x1="487.4" y1="1225.8" x2="487.4" y2="1236.1" stroke="#333" stroke-width="2.3"/>
<text x="486.4" y="1267" font-family="Liberation Sans, sans-serif" font-size="33.5" fill="#333" text-anchor="middle" textLength="17.2" lengthAdjust="spacingAndGlyphs">2</text>
<text x="377.3" y="32.8" font-family="Liberation Sans, sans-serif" font-size="37" fill="#000" text-anchor="middle" textLength="155" lengthAdjust="spacingAndGlyphs">Feature 0</text>
<line x1="538.1" y1="1225.8" x2="810.9" y2="1225.8" stroke="#000" stroke-width="2.2"/>
<line x1="564.7" y1="1225.8" x2="564.7" y2="1236.1" stroke="#333" stroke-width="2.3"/>
<rect x="544.5" y="1257" width="19.5" height="1.9" fill="#333"/>
<text x="574.8" y="1267" font-family="Liberation Sans, sans-serif" font-size="33.5" fill="#333" text-anchor="middle" textLength="17.2" lengthAdjust="spacingAndGlyphs">2</text>
<line x1="674.5" y1="1225.8" x2="674.5" y2="1236.1" stroke="#333" stroke-width="2.3"/>
<text x="673.5" y="1267" font-family="Liberation Sans, sans-serif" font-size="33.5" fill="#333" text-anchor="middle" textLength="18.4" lengthAdjust="spacingAndGlyphs">0</text>
<line x1="784.3" y1="1225.8" x2="784.3" y2="1236.1" stroke="#333" stroke-width="2.3"/>
<text x="783.3" y="1267" font-family="Liberation Sans, sans-serif" font-size="33.5" fill="#333" text-anchor="middle" textLength="17.2" lengthAdjust="spacingAndGlyphs">2</text>
<text x="673.7" y="32.8" font-family="Liberation Sans, sans-serif" font-size="37" fill="#000" text-anchor="middle" textLength="155" lengthAdjust="spacingAndGlyphs">Feature 2</text>
<line x1="837.3" y1="1225.8" x2="1110.1" y2="1225.8" stroke="#000" stroke-width="2.2"/>
<line x1="863.9" y1="1225.8" x2="863.9" y2="1236.1" stroke="#333" stroke-width="2.3"/>
<rect x="843.7" y="1257" width="19.5" height="1.9" fill="#333"/>
<text x="874.0" y="1267" font-family="Liberation Sans, sans-serif" font-size="33.5" fill="#333" text-anchor="middle" textLength="17.2" lengthAdjust="spacingAndGlyphs">2</text>
<line x1="973.7" y1="1225.8" x2="973.7" y2="1236.1" stroke="#333" stroke-width="2.3"/>
<text x="972.7" y="1267" font-family="Liberation Sans, sans-serif" font-size="33.5" fill="#333" text-anchor="middle" textLength="18.4" lengthAdjust="spacingAndGlyphs">0</text>
<line x1="1083.5" y1="1225.8" x2="1083.5" y2="1236.1" stroke="#333" stroke-width="2.3"/>
<text x="1082.5" y="1267" font-family="Liberation Sans, sans-serif" font-size="33.5" fill="#333" text-anchor="middle" textLength="17.2" lengthAdjust="spacingAndGlyphs">2</text>
<text x="971.0" y="32.8" font-family="Liberation Sans, sans-serif" font-size="37" fill="#000" text-anchor="middle" textLength="155" lengthAdjust="spacingAndGlyphs">Feature 3</text>
<line x1="1134.0" y1="1225.8" x2="1406.8" y2="1225.8" stroke="#000" stroke-width="2.2"/>
<line x1="1160.6" y1="1225.8" x2="1160.6" y2="1236.1" stroke="#333" stroke-width="2.3"/>
<rect x="1140.4" y="1257" width="19.5" height="1.9" fill="#333"/>
<text x="1170.7" y="1267" font-family="Liberation Sans, sans-serif" font-size="33.5" fill="#333" text-anchor="middle" textLength="17.2" lengthAdjust="spacingAndGlyphs">2</text>
<line x1="1270.4" y1="1225.8" x2="1270.4" y2="1236.1" stroke="#333" stroke-width="2.3"/>
<text x="1269.4" y="1267" font-family="Liberation Sans, sans-serif" font-size="33.5" fill="#333" text-anchor="middle" textLength="18.4" lengthAdjust="spacingAndGlyphs">0</text>
<line x1="1380.2" y1="1225.8" x2="1380.2" y2="1236.1" stroke="#333" stroke-width="2.3"/>
<text x="1379.2" y="1267" font-family="Liberation Sans, sans-serif" font-size="33.5" fill="#333" text-anchor="middle" textLength="17.2" lengthAdjust="spacingAndGlyphs">2</text>
<text x="1269.3" y="32.8" font-family="Liberation Sans, sans-serif" font-size="37" fill="#000" text-anchor="middle" textLength="155" lengthAdjust="spacingAndGlyphs">Feature 1</text>
<text x="174.5" y="298.1" font-family="Liberation Sans, sans-serif" font-size="36.8" fill="#333" text-anchor="end" textLength="168.5" lengthAdjust="spacingAndGlyphs">Feature 0</text>
<text x="174.5" y="533.2" font-family="Liberation Sans, sans-serif" font-size="36.8" fill="#333" text-anchor="end" textLength="168.5" lengthAdjust="spacingAndGlyphs">Feature 2</text>
<text x="174.5" y="768.4" font-family="Liberation Sans, sans-serif" font-size="36.8" fill="#333" text-anchor="end" textLength="168.5" lengthAdjust="spacingAndGlyphs">Feature 3</text>
<text x="174.5" y="1003.5" font-family="Liberation Sans, sans-serif" font-size="36.8" fill="#333" text-anchor="end" textLength="168.5" lengthAdjust="spacingAndGlyphs">Feature 1</text>
<text x="971" y="1311.9" font-family="Liberation Sans, sans-serif" font-size="35.5" fill="#000" text-anchor="middle" textLength="411" lengthAdjust="spacingAndGlyphs">SHAP interaction value</text>
</svg>
</body></html>
